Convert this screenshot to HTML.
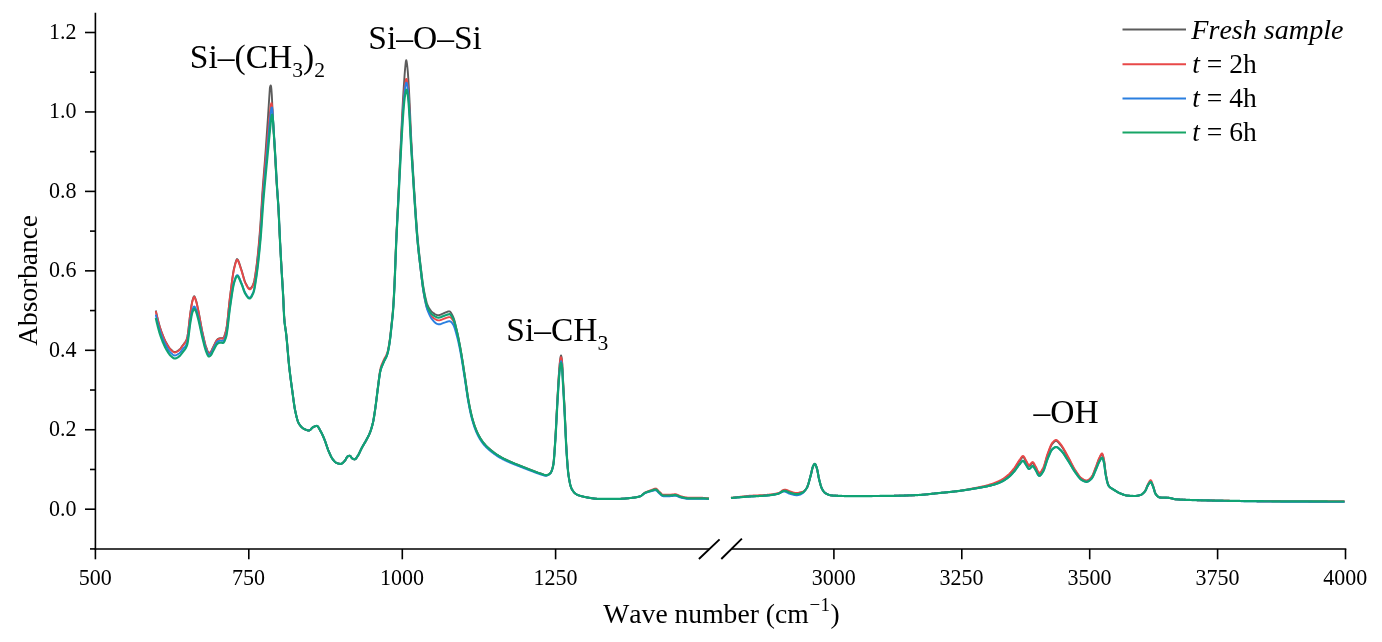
<!DOCTYPE html>
<html lang="en"><head><meta charset="utf-8"><title>FTIR absorbance spectra</title>
<style>html,body{margin:0;padding:0;background:#fff}body{width:1382px;height:642px;overflow:hidden}svg{display:block}</style></head>
<body>
<svg width="1382" height="642" viewBox="0 0 1382 642">
<rect width="1382" height="642" fill="#fff"/>
<path d="M155.80,310.51 L156.20,312.33 L156.60,314.12 L157.00,315.86 L157.40,317.57 L157.80,319.23 L158.20,320.83 L158.60,322.38 L159.00,323.87 L159.40,325.30 L159.80,326.65 L160.20,327.92 L160.60,329.13 L161.00,330.31 L161.40,331.46 L161.80,332.57 L162.20,333.65 L162.60,334.70 L163.00,335.72 L163.40,336.70 L163.80,337.65 L164.20,338.57 L164.60,339.45 L165.00,340.30 L165.40,341.11 L165.80,341.89 L166.20,342.63 L166.60,343.34 L167.00,344.04 L167.40,344.72 L167.80,345.38 L168.20,346.01 L168.60,346.62 L169.00,347.20 L169.40,347.75 L169.80,348.26 L170.20,348.73 L170.60,349.15 L171.00,349.53 L171.40,349.90 L171.80,350.27 L172.20,350.63 L172.60,350.98 L173.00,351.29 L173.40,351.57 L173.80,351.79 L174.20,351.94 L174.60,352.02 L175.00,352.01 L175.40,351.96 L175.80,351.85 L176.20,351.70 L176.60,351.51 L177.00,351.30 L177.40,351.05 L177.80,350.79 L178.20,350.51 L178.60,350.22 L179.00,349.93 L179.40,349.61 L179.80,349.22 L180.20,348.78 L180.60,348.29 L181.00,347.76 L181.40,347.21 L181.80,346.65 L182.20,346.08 L182.60,345.52 L183.00,344.99 L183.40,344.48 L183.80,343.97 L184.20,343.46 L184.60,342.92 L185.00,342.34 L185.40,341.70 L185.80,340.99 L186.20,340.18 L186.60,339.28 L187.00,338.25 L187.40,336.75 L187.80,334.52 L188.20,331.63 L188.60,328.22 L189.00,324.60 L189.40,320.91 L189.80,317.34 L190.20,314.04 L190.60,311.19 L191.00,308.59 L191.40,306.01 L191.80,303.62 L192.20,301.59 L192.60,300.08 L193.00,298.75 L193.40,297.55 L193.80,296.57 L194.20,296.25 L194.60,296.68 L195.00,297.50 L195.40,298.58 L195.80,299.78 L196.20,301.02 L196.60,302.52 L197.00,304.24 L197.40,306.08 L197.80,307.91 L198.20,309.81 L198.60,311.81 L199.00,313.88 L199.40,316.02 L199.80,318.19 L200.20,320.39 L200.60,322.60 L201.00,324.80 L201.40,326.97 L201.80,329.10 L202.20,331.08 L202.60,332.90 L203.00,334.66 L203.40,336.44 L203.80,338.23 L204.20,339.99 L204.60,341.70 L205.00,343.31 L205.40,344.79 L205.80,346.10 L206.20,347.25 L206.60,348.41 L207.00,349.56 L207.40,350.63 L207.80,351.57 L208.20,352.31 L208.60,352.80 L209.00,352.98 L209.40,352.84 L209.80,352.58 L210.20,352.21 L210.60,351.79 L211.00,351.34 L211.40,350.75 L211.80,349.95 L212.20,349.05 L212.60,348.15 L213.00,347.36 L213.40,346.59 L213.80,345.78 L214.20,344.95 L214.60,344.12 L215.00,343.29 L215.40,342.50 L215.80,341.74 L216.20,341.03 L216.60,340.40 L217.00,339.85 L217.40,339.40 L217.80,339.07 L218.20,338.85 L218.60,338.65 L219.00,338.48 L219.40,338.32 L219.80,338.20 L220.20,338.12 L220.60,338.08 L221.00,338.09 L221.40,338.12 L221.80,338.17 L222.20,338.22 L222.60,338.25 L223.00,338.24 L223.40,337.86 L223.80,337.21 L224.20,336.33 L224.60,335.26 L225.00,334.04 L225.40,332.69 L225.80,331.27 L226.20,329.71 L226.60,327.52 L227.00,324.71 L227.40,321.41 L227.80,317.76 L228.20,313.86 L228.60,309.85 L229.00,305.86 L229.40,302.01 L229.80,298.43 L230.20,295.26 L230.60,292.17 L231.00,289.02 L231.40,285.85 L231.80,282.73 L232.20,279.69 L232.60,276.81 L233.00,274.12 L233.40,271.68 L233.80,269.54 L234.20,267.76 L234.60,266.18 L235.00,264.61 L235.40,263.11 L235.80,261.75 L236.20,260.58 L236.60,259.65 L237.00,259.02 L237.40,259.24 L237.80,259.74 L238.20,260.45 L238.60,261.36 L239.00,262.41 L239.40,263.57 L239.80,264.81 L240.20,266.08 L240.60,267.34 L241.00,268.58 L241.40,269.74 L241.80,270.97 L242.20,272.31 L242.60,273.72 L243.00,275.17 L243.40,276.62 L243.80,278.04 L244.20,279.38 L244.60,280.62 L245.00,281.73 L245.40,282.57 L245.80,283.36 L246.20,284.16 L246.60,284.94 L247.00,285.69 L247.40,286.39 L247.80,287.03 L248.20,287.59 L248.60,288.05 L249.00,288.40 L249.40,288.63 L249.80,288.70 L250.20,288.61 L250.60,288.36 L251.00,287.99 L251.40,287.49 L251.80,286.89 L252.20,286.20 L252.60,285.44 L253.00,284.62 L253.40,283.75 L253.80,282.62 L254.20,281.02 L254.60,279.05 L255.00,276.79 L255.36,274.32 L255.73,271.73 L256.09,269.09 L256.45,266.41 L256.82,263.54 L257.18,260.47 L257.55,257.22 L257.91,253.72 L258.27,249.97 L258.64,246.06 L259.00,242.00 L259.36,237.78 L259.73,233.43 L260.09,228.87 L260.45,223.73 L260.82,218.13 L261.18,212.24 L261.55,206.23 L261.91,200.28 L262.27,194.57 L262.64,189.28 L263.00,184.39 L263.36,179.72 L263.73,175.19 L264.09,170.72 L264.45,166.25 L264.82,161.85 L265.20,156.94 L265.59,151.47 L265.98,145.96 L266.37,140.39 L266.76,134.75 L267.15,129.10 L267.54,123.45 L267.93,117.85 L268.32,111.78 L268.71,105.73 L269.10,99.76 L269.49,93.86 L269.88,87.94 L270.27,86.33 L270.66,85.40 L271.05,86.21 L271.44,89.72 L271.83,95.21 L272.22,103.72 L272.61,111.58 L273.03,119.46 L273.49,127.28 L273.95,135.03 L274.41,142.98 L274.87,151.46 L275.33,160.35 L275.79,169.00 L276.25,177.11 L276.71,183.99 L277.17,190.12 L277.63,196.23 L278.09,203.13 L278.55,211.65 L279.01,221.33 L279.47,231.05 L279.93,239.86 L280.39,248.28 L280.85,256.40 L281.31,264.20 L281.77,271.57 L282.20,278.33 L282.60,284.92 L283.00,291.91 L283.40,300.25 L283.80,309.79 L284.20,317.71 L284.60,322.41 L285.00,325.90 L285.40,328.55 L285.80,331.17 L286.20,334.30 L286.60,338.13 L287.00,342.39 L287.40,346.93 L287.80,351.60 L288.20,356.24 L288.60,360.69 L289.00,364.81 L289.40,368.49 L289.80,371.94 L290.20,375.23 L290.60,378.39 L291.00,381.45 L291.40,384.43 L291.80,387.36 L292.20,390.27 L292.60,393.22 L293.00,396.23 L293.40,399.25 L293.80,402.18 L294.20,404.97 L294.60,407.54 L295.00,409.80 L295.40,411.74 L295.80,413.58 L296.20,415.34 L296.60,417.00 L297.00,418.54 L297.40,419.93 L297.80,421.15 L298.20,422.18 L298.60,423.00 L299.00,423.68 L299.40,424.32 L299.80,424.92 L300.20,425.47 L300.60,425.98 L301.00,426.45 L301.40,426.88 L301.80,427.27 L302.20,427.63 L302.60,427.95 L303.00,428.23 L303.40,428.49 L303.80,428.71 L304.20,428.93 L304.60,429.14 L305.00,429.35 L305.40,429.55 L305.80,429.74 L306.20,429.91 L306.60,430.06 L307.00,430.20 L307.40,430.31 L307.80,430.40 L308.20,430.46 L308.60,430.50 L309.00,430.48 L309.40,430.37 L309.80,430.15 L310.20,429.86 L310.60,429.50 L311.00,429.11 L311.40,428.69 L311.80,428.28 L312.20,427.88 L312.60,427.52 L313.00,427.22 L313.40,427.00 L313.80,426.82 L314.20,426.64 L314.60,426.46 L315.00,426.30 L315.40,426.16 L315.80,426.04 L316.20,425.95 L316.60,425.91 L317.00,425.93 L317.40,426.12 L317.80,426.49 L318.20,426.99 L318.60,427.59 L319.00,428.28 L319.40,429.01 L319.80,429.75 L320.20,430.48 L320.60,431.17 L321.00,431.88 L321.40,432.63 L321.80,433.43 L322.20,434.27 L322.60,435.14 L323.00,436.04 L323.40,436.97 L323.80,437.91 L324.20,438.87 L324.60,439.85 L325.00,440.88 L325.40,441.99 L325.80,443.15 L326.20,444.34 L326.60,445.54 L327.00,446.73 L327.40,447.90 L327.80,449.02 L328.20,450.07 L328.60,451.04 L329.00,451.98 L329.40,452.91 L329.80,453.83 L330.20,454.72 L330.60,455.58 L331.00,456.39 L331.40,457.15 L331.80,457.85 L332.20,458.48 L332.60,459.03 L333.00,459.55 L333.40,460.06 L333.80,460.54 L334.20,461.00 L334.60,461.42 L335.00,461.81 L335.40,462.16 L335.80,462.46 L336.20,462.71 L336.60,462.90 L337.00,463.06 L337.40,463.21 L337.80,463.35 L338.20,463.48 L338.60,463.60 L339.00,463.70 L339.40,463.78 L339.80,463.85 L340.20,463.89 L340.60,463.90 L341.00,463.86 L341.40,463.73 L341.80,463.53 L342.20,463.27 L342.60,462.96 L343.00,462.60 L343.40,462.22 L343.80,461.82 L344.20,461.41 L344.60,461.00 L345.00,460.54 L345.40,459.93 L345.80,459.21 L346.20,458.45 L346.60,457.73 L347.00,457.09 L347.40,456.62 L347.80,456.35 L348.20,456.17 L348.60,456.01 L349.00,455.89 L349.40,455.82 L349.80,455.81 L350.20,456.01 L350.60,456.40 L351.00,456.91 L351.40,457.47 L351.80,457.98 L352.20,458.37 L352.60,458.60 L353.00,458.79 L353.40,458.97 L353.80,459.12 L354.20,459.23 L354.60,459.29 L355.00,459.27 L355.40,459.07 L355.80,458.71 L356.20,458.23 L356.60,457.66 L357.00,457.04 L357.40,456.41 L357.80,455.80 L358.20,455.18 L358.60,454.48 L359.00,453.71 L359.40,452.90 L359.80,452.06 L360.20,451.20 L360.60,450.34 L361.00,449.49 L361.40,448.67 L361.80,447.89 L362.20,447.15 L362.60,446.45 L363.00,445.76 L363.40,445.08 L363.80,444.41 L364.20,443.74 L364.60,443.07 L365.00,442.39 L365.40,441.69 L365.80,440.97 L366.20,440.23 L366.60,439.49 L367.00,438.76 L367.40,438.03 L367.80,437.28 L368.20,436.51 L368.60,435.70 L369.00,434.86 L369.40,433.96 L369.80,433.00 L370.20,431.98 L370.60,430.89 L371.00,429.72 L371.40,428.47 L371.80,427.12 L372.20,425.67 L372.60,424.10 L373.00,422.40 L373.40,420.46 L373.80,418.22 L374.20,415.75 L374.60,413.11 L375.00,410.37 L375.40,407.60 L375.80,404.70 L376.20,401.59 L376.60,398.34 L377.00,395.06 L377.40,391.83 L377.80,388.74 L378.20,385.74 L378.60,382.60 L379.00,379.48 L379.40,376.51 L379.80,373.86 L380.20,371.67 L380.60,370.04 L381.00,368.68 L381.40,367.50 L381.80,366.45 L382.20,365.48 L382.60,364.57 L383.00,363.65 L383.40,362.70 L383.80,361.77 L384.20,360.92 L384.60,360.14 L385.00,359.38 L385.40,358.63 L385.80,357.84 L386.20,357.00 L386.60,356.07 L387.00,355.02 L387.40,353.82 L387.80,352.40 L388.20,350.64 L388.60,348.58 L389.00,346.26 L389.40,343.75 L389.80,341.08 L390.20,338.16 L390.60,334.73 L391.00,330.99 L391.40,327.15 L391.80,323.42 L392.20,319.73 L392.60,315.78 L393.00,311.26 L393.40,305.75 L393.80,299.07 L394.20,291.56 L394.60,283.20 L395.00,273.50 L395.40,262.64 L395.80,251.77 L396.20,241.61 L396.60,232.53 L397.00,224.01 L397.40,215.81 L397.80,207.70 L398.20,199.48 L398.60,190.95 L399.00,182.22 L399.40,173.42 L399.80,164.66 L400.20,156.05 L400.60,147.56 L401.00,139.18 L401.40,130.78 L401.80,122.58 L402.20,114.46 L402.60,106.71 L403.00,99.59 L403.40,92.85 L403.80,86.58 L404.20,80.70 L404.60,75.03 L405.00,69.83 L405.40,65.49 L405.80,61.73 L406.20,60.13 L406.60,61.34 L407.00,63.98 L407.40,67.45 L407.80,71.59 L408.20,77.08 L408.60,83.20 L409.00,90.20 L409.40,98.04 L409.80,106.45 L410.20,115.89 L410.60,125.42 L411.00,134.01 L411.40,141.96 L411.80,149.58 L412.20,156.60 L412.60,163.20 L413.00,169.81 L413.40,176.37 L413.80,182.85 L414.20,189.19 L414.60,195.33 L415.00,201.39 L415.40,207.46 L415.80,213.45 L416.20,219.31 L416.60,224.93 L417.00,230.26 L417.40,235.21 L417.80,239.72 L418.20,243.92 L418.60,247.86 L419.00,251.60 L419.40,255.20 L419.80,258.69 L420.20,262.08 L420.60,265.40 L421.00,268.77 L421.40,272.17 L421.80,275.51 L422.20,278.74 L422.60,281.79 L423.00,284.61 L423.40,287.13 L423.80,289.38 L424.20,291.56 L424.60,293.66 L425.00,295.66 L425.40,297.54 L425.80,299.28 L426.20,300.87 L426.60,302.28 L427.00,303.50 L427.40,304.51 L427.80,305.43 L428.20,306.29 L428.60,307.11 L429.00,307.88 L429.40,308.60 L429.80,309.26 L430.20,309.88 L430.60,310.45 L431.00,310.96 L431.40,311.42 L431.80,311.82 L432.20,312.18 L432.60,312.48 L433.00,312.78 L433.40,313.06 L433.80,313.34 L434.20,313.61 L434.60,313.87 L435.00,314.11 L435.40,314.33 L435.80,314.52 L436.20,314.70 L436.60,314.85 L437.00,314.97 L437.40,315.07 L437.80,315.13 L438.20,315.16 L438.60,315.15 L439.00,315.11 L439.40,315.04 L439.80,314.93 L440.20,314.81 L440.60,314.66 L441.00,314.50 L441.40,314.32 L441.80,314.13 L442.20,313.94 L442.60,313.75 L443.00,313.56 L443.40,313.37 L443.80,313.19 L444.20,313.03 L444.60,312.88 L445.00,312.73 L445.40,312.58 L445.80,312.41 L446.20,312.24 L446.60,312.08 L447.00,311.91 L447.40,311.76 L447.80,311.62 L448.20,311.49 L448.60,311.39 L449.00,311.31 L449.40,311.39 L449.80,311.51 L450.20,311.78 L450.60,312.21 L451.00,312.75 L451.40,313.40 L451.80,314.13 L452.20,314.92 L452.60,315.75 L453.00,316.60 L453.40,317.50 L453.80,318.60 L454.20,319.87 L454.60,321.29 L455.00,322.83 L455.40,324.45 L455.80,326.14 L456.20,327.85 L456.60,329.57 L457.00,331.30 L457.40,333.12 L457.80,335.02 L458.20,336.99 L458.60,339.04 L459.00,341.14 L459.40,343.30 L459.80,345.50 L460.20,347.70 L460.60,349.89 L461.00,352.12 L461.40,354.44 L461.80,356.86 L462.20,359.34 L462.60,361.89 L463.00,364.49 L463.40,367.12 L463.80,369.76 L464.20,372.41 L464.60,375.04 L465.00,377.65 L465.40,380.34 L465.80,383.11 L466.20,385.92 L466.60,388.74 L467.00,391.51 L467.40,394.20 L467.80,396.77 L468.20,399.17 L468.60,401.39 L469.00,403.55 L469.40,405.64 L469.80,407.67 L470.20,409.63 L470.60,411.51 L471.00,413.31 L471.40,415.02 L471.80,416.63 L472.20,418.14 L472.60,419.56 L473.00,420.93 L473.40,422.25 L473.80,423.52 L474.20,424.75 L474.60,425.94 L475.00,427.07 L475.40,428.16 L475.80,429.21 L476.20,430.20 L476.60,431.15 L477.00,432.05 L477.40,432.91 L477.80,433.73 L478.20,434.53 L478.60,435.31 L479.00,436.05 L479.40,436.78 L479.80,437.48 L480.20,438.15 L480.60,438.81 L481.00,439.44 L481.40,440.05 L481.80,440.64 L482.20,441.21 L482.60,441.76 L483.00,442.29 L483.40,442.80 L483.80,443.29 L484.20,443.77 L484.60,444.24 L485.00,444.69 L485.40,445.13 L485.80,445.56 L486.20,445.97 L486.60,446.38 L487.00,446.77 L487.40,447.16 L487.80,447.53 L488.20,447.90 L488.60,448.26 L489.00,448.62 L489.40,448.97 L489.80,449.31 L490.20,449.65 L490.60,449.98 L491.00,450.31 L491.40,450.64 L491.80,450.96 L492.20,451.28 L492.60,451.59 L493.00,451.90 L493.40,452.21 L493.80,452.51 L494.20,452.80 L494.60,453.10 L495.00,453.38 L495.40,453.67 L495.80,453.95 L496.20,454.22 L496.60,454.50 L497.00,454.76 L497.40,455.03 L497.80,455.29 L498.20,455.54 L498.60,455.80 L499.00,456.05 L499.40,456.29 L499.80,456.53 L500.20,456.77 L500.60,457.00 L501.00,457.23 L501.40,457.45 L501.80,457.68 L502.20,457.89 L502.60,458.11 L503.00,458.32 L503.40,458.53 L503.80,458.73 L504.20,458.93 L504.60,459.13 L505.00,459.33 L505.40,459.53 L505.80,459.72 L506.20,459.91 L506.60,460.10 L507.00,460.28 L507.40,460.47 L507.80,460.65 L508.20,460.84 L508.60,461.02 L509.00,461.20 L509.40,461.38 L509.80,461.56 L510.20,461.73 L510.60,461.91 L511.00,462.09 L511.40,462.26 L511.80,462.44 L512.20,462.61 L512.60,462.78 L513.00,462.95 L513.40,463.11 L513.80,463.28 L514.20,463.44 L514.60,463.60 L515.00,463.76 L515.40,463.93 L515.80,464.08 L516.20,464.24 L516.60,464.40 L517.00,464.56 L517.40,464.72 L517.80,464.87 L518.20,465.03 L518.60,465.19 L519.00,465.35 L519.40,465.50 L519.80,465.66 L520.20,465.82 L520.60,465.98 L521.00,466.14 L521.40,466.30 L521.80,466.46 L522.20,466.62 L522.60,466.78 L523.00,466.94 L523.40,467.10 L523.80,467.26 L524.20,467.43 L524.60,467.59 L525.00,467.75 L525.40,467.91 L525.80,468.07 L526.20,468.23 L526.60,468.38 L527.00,468.54 L527.40,468.70 L527.80,468.86 L528.20,469.02 L528.60,469.17 L529.00,469.33 L529.40,469.48 L529.80,469.64 L530.20,469.79 L530.60,469.95 L531.00,470.10 L531.40,470.25 L531.80,470.41 L532.20,470.56 L532.60,470.71 L533.00,470.87 L533.40,471.02 L533.80,471.18 L534.20,471.33 L534.60,471.49 L535.00,471.64 L535.40,471.79 L535.80,471.95 L536.20,472.10 L536.60,472.25 L537.00,472.40 L537.40,472.54 L537.80,472.69 L538.20,472.83 L538.60,472.97 L539.00,473.11 L539.40,473.25 L539.80,473.38 L540.20,473.51 L540.60,473.64 L541.00,473.77 L541.40,473.90 L541.80,474.03 L542.20,474.18 L542.60,474.32 L543.00,474.47 L543.40,474.61 L543.80,474.75 L544.20,474.87 L544.60,474.98 L545.00,475.07 L545.40,475.14 L545.80,475.18 L546.20,475.20 L546.60,475.18 L547.00,475.11 L547.40,475.00 L547.80,474.85 L548.20,474.66 L548.60,474.45 L549.00,474.20 L549.40,473.92 L549.80,473.61 L550.20,473.25 L550.60,472.79 L551.00,472.15 L551.40,471.30 L551.80,470.25 L552.20,469.00 L552.60,467.54 L553.00,465.86 L553.40,463.91 L553.80,460.57 L554.20,455.77 L554.60,450.03 L555.00,443.84 L555.40,437.66 L555.80,430.76 L556.20,423.07 L556.60,415.01 L557.00,407.03 L557.40,399.56 L557.80,392.39 L558.20,385.26 L558.60,378.54 L559.00,372.66 L559.40,367.38 L559.80,362.64 L560.20,359.20 L560.60,356.75 L561.00,355.40 L561.40,356.48 L561.80,358.65 L562.20,362.81 L562.60,370.65 L563.00,378.91 L563.40,386.26 L563.80,393.70 L564.20,401.33 L564.60,409.26 L565.00,418.00 L565.40,427.21 L565.80,436.24 L566.20,444.46 L566.60,451.29 L567.00,457.45 L567.40,463.20 L567.80,468.28 L568.20,472.48 L568.60,475.59 L569.00,478.18 L569.40,480.52 L569.80,482.62 L570.20,484.43 L570.60,485.95 L571.00,487.21 L571.40,488.20 L571.80,488.97 L572.20,489.68 L572.60,490.34 L573.00,490.94 L573.40,491.50 L573.80,492.00 L574.20,492.47 L574.60,492.88 L575.00,493.26 L575.40,493.60 L575.80,493.90 L576.20,494.17 L576.60,494.40 L577.00,494.61 L577.40,494.80 L577.80,494.98 L578.20,495.15 L578.60,495.30 L579.00,495.44 L579.40,495.57 L579.80,495.70 L580.20,495.81 L580.60,495.93 L581.00,496.04 L581.40,496.14 L581.80,496.25 L582.20,496.35 L582.60,496.45 L583.00,496.55 L583.40,496.65 L583.80,496.75 L584.20,496.84 L584.60,496.93 L585.00,497.02 L585.40,497.10 L585.80,497.18 L586.20,497.26 L586.60,497.34 L587.00,497.41 L587.40,497.49 L587.80,497.56 L588.20,497.63 L588.60,497.69 L589.00,497.75 L589.40,497.82 L589.80,497.88 L590.20,497.94 L590.60,498.00 L591.00,498.07 L591.40,498.13 L591.80,498.20 L592.20,498.26 L592.60,498.32 L593.00,498.38 L593.40,498.44 L593.80,498.50 L594.20,498.55 L594.60,498.61 L595.00,498.66 L595.40,498.70 L595.80,498.74 L596.20,498.78 L596.60,498.81 L597.00,498.84 L597.40,498.87 L597.80,498.88 L598.20,498.89 L598.60,498.90 L599.00,498.90 L599.40,498.90 L599.80,498.90 L600.20,498.90 L600.60,498.90 L601.00,498.90 L601.40,498.90 L601.80,498.90 L602.20,498.90 L602.60,498.90 L603.00,498.90 L603.40,498.90 L603.80,498.90 L604.20,498.90 L604.60,498.90 L605.00,498.90 L605.40,498.90 L605.80,498.90 L606.20,498.90 L606.60,498.90 L607.00,498.90 L607.40,498.90 L607.80,498.90 L608.20,498.90 L608.60,498.90 L609.00,498.90 L609.40,498.90 L609.80,498.90 L610.20,498.90 L610.60,498.90 L611.00,498.90 L611.40,498.90 L611.80,498.90 L612.20,498.90 L612.60,498.90 L613.00,498.90 L613.40,498.90 L613.80,498.90 L614.20,498.90 L614.60,498.90 L615.00,498.90 L615.40,498.90 L615.80,498.90 L616.20,498.90 L616.60,498.90 L617.00,498.90 L617.40,498.90 L617.80,498.90 L618.20,498.90 L618.60,498.89 L619.00,498.88 L619.40,498.87 L619.80,498.86 L620.20,498.85 L620.60,498.83 L621.00,498.81 L621.40,498.79 L621.80,498.77 L622.20,498.75 L622.60,498.72 L623.00,498.70 L623.40,498.67 L623.80,498.64 L624.20,498.61 L624.60,498.58 L625.00,498.54 L625.40,498.51 L625.80,498.47 L626.20,498.44 L626.60,498.40 L627.00,498.36 L627.40,498.32 L627.80,498.28 L628.20,498.24 L628.60,498.20 L629.00,498.16 L629.40,498.12 L629.80,498.07 L630.20,498.03 L630.60,497.99 L631.00,497.94 L631.40,497.90 L631.80,497.86 L632.20,497.81 L632.60,497.77 L633.00,497.72 L633.40,497.67 L633.80,497.62 L634.20,497.57 L634.60,497.51 L635.00,497.45 L635.40,497.39 L635.80,497.32 L636.20,497.25 L636.60,497.17 L637.00,497.10 L637.40,497.01 L637.80,496.92 L638.20,496.83 L638.60,496.73 L639.00,496.63 L639.40,496.52 L639.80,496.40 L640.20,496.25 L640.60,496.06 L641.00,495.83 L641.40,495.57 L641.80,495.28 L642.20,494.97 L642.60,494.65 L643.00,494.33 L643.40,494.01 L643.80,493.70 L644.20,493.41 L644.60,493.14 L645.00,492.90 L645.40,492.70 L645.80,492.53 L646.20,492.36 L646.60,492.20 L647.00,492.06 L647.40,491.92 L647.80,491.78 L648.20,491.65 L648.60,491.52 L649.00,491.40 L649.40,491.28 L649.80,491.16 L650.20,491.04 L650.60,490.92 L651.00,490.80 L651.40,490.67 L651.80,490.53 L652.20,490.39 L652.60,490.24 L653.00,490.09 L653.40,489.95 L653.80,489.83 L654.20,489.71 L654.60,489.62 L655.00,489.55 L655.40,489.51 L655.80,489.50 L656.20,489.61 L656.60,489.84 L657.00,490.17 L657.40,490.57 L657.80,491.01 L658.20,491.47 L658.60,491.92 L659.00,492.34 L659.40,492.70 L659.80,493.04 L660.20,493.42 L660.60,493.81 L661.00,494.20 L661.40,494.57 L661.80,494.90 L662.20,495.17 L662.60,495.38 L663.00,495.49 L663.40,495.50 L663.80,495.50 L664.20,495.50 L664.60,495.50 L665.00,495.50 L665.40,495.50 L665.80,495.50 L666.20,495.50 L666.60,495.50 L667.00,495.50 L667.40,495.50 L667.80,495.50 L668.20,495.50 L668.60,495.50 L669.00,495.50 L669.40,495.50 L669.80,495.50 L670.20,495.49 L670.60,495.47 L671.00,495.45 L671.40,495.41 L671.80,495.37 L672.20,495.33 L672.60,495.29 L673.00,495.25 L673.40,495.21 L673.80,495.17 L674.20,495.14 L674.60,495.12 L675.00,495.10 L675.40,495.10 L675.80,495.13 L676.20,495.20 L676.60,495.31 L677.00,495.44 L677.40,495.59 L677.80,495.75 L678.20,495.93 L678.60,496.12 L679.00,496.30 L679.40,496.48 L679.80,496.64 L680.20,496.79 L680.60,496.92 L681.00,497.02 L681.40,497.12 L681.80,497.21 L682.20,497.31 L682.60,497.41 L683.00,497.50 L683.40,497.60 L683.80,497.69 L684.20,497.77 L684.60,497.86 L685.00,497.94 L685.40,498.01 L685.80,498.08 L686.20,498.14 L686.60,498.19 L687.00,498.23 L687.40,498.26 L687.80,498.29 L688.20,498.30 L688.60,498.30 L689.00,498.30 L689.40,498.30 L689.80,498.30 L690.20,498.30 L690.60,498.30 L691.00,498.30 L691.40,498.30 L691.80,498.30 L692.20,498.30 L692.60,498.30 L693.00,498.30 L693.40,498.30 L693.80,498.30 L694.20,498.30 L694.60,498.30 L695.00,498.30 L695.40,498.30 L695.80,498.30 L696.20,498.30 L696.60,498.30 L697.00,498.30 L697.40,498.30 L697.80,498.30 L698.20,498.30 L698.60,498.30 L699.00,498.30 L699.40,498.30 L699.80,498.30 L700.20,498.30 L700.60,498.31 L701.00,498.31 L701.40,498.32 L701.80,498.33 L702.20,498.34 L702.60,498.36 L703.00,498.37 L703.40,498.39 L703.80,498.40 L704.20,498.42 L704.60,498.44 L705.00,498.46 L705.40,498.48 L705.80,498.51 L706.20,498.53 L706.60,498.55 L707.00,498.58 L707.40,498.60 L707.80,498.63 L708.20,498.65 L708.60,498.68 L709.00,498.70 M731.00,498.00 L731.40,497.96 L731.80,497.93 L732.20,497.89 L732.60,497.85 L733.00,497.82 L733.40,497.78 L733.80,497.74 L734.20,497.71 L734.60,497.67 L735.00,497.63 L735.40,497.60 L735.80,497.56 L736.20,497.53 L736.60,497.49 L737.00,497.46 L737.40,497.42 L737.80,497.39 L738.20,497.36 L738.60,497.32 L739.00,497.29 L739.40,497.26 L739.80,497.22 L740.20,497.19 L740.60,497.16 L741.00,497.12 L741.40,497.09 L741.80,497.06 L742.20,497.03 L742.60,497.00 L743.00,496.97 L743.40,496.94 L743.80,496.90 L744.20,496.87 L744.60,496.84 L745.00,496.81 L745.40,496.79 L745.80,496.76 L746.20,496.73 L746.60,496.70 L747.00,496.67 L747.40,496.64 L747.80,496.61 L748.20,496.59 L748.60,496.56 L749.00,496.53 L749.40,496.51 L749.80,496.48 L750.20,496.46 L750.60,496.44 L751.00,496.41 L751.40,496.39 L751.80,496.37 L752.20,496.35 L752.60,496.33 L753.00,496.31 L753.40,496.29 L753.80,496.27 L754.20,496.25 L754.60,496.23 L755.00,496.21 L755.40,496.19 L755.80,496.17 L756.20,496.15 L756.60,496.13 L757.00,496.11 L757.40,496.09 L757.80,496.07 L758.20,496.05 L758.60,496.03 L759.00,496.01 L759.40,495.99 L759.80,495.97 L760.20,495.95 L760.60,495.93 L761.00,495.90 L761.40,495.88 L761.80,495.86 L762.20,495.83 L762.60,495.81 L763.00,495.78 L763.40,495.75 L763.80,495.73 L764.20,495.70 L764.60,495.67 L765.00,495.64 L765.40,495.61 L765.80,495.58 L766.20,495.54 L766.60,495.51 L767.00,495.47 L767.40,495.44 L767.80,495.40 L768.20,495.36 L768.60,495.32 L769.00,495.28 L769.40,495.23 L769.80,495.19 L770.20,495.14 L770.60,495.09 L771.00,495.04 L771.40,494.99 L771.80,494.93 L772.20,494.87 L772.60,494.82 L773.00,494.75 L773.40,494.69 L773.80,494.62 L774.20,494.56 L774.60,494.49 L775.00,494.41 L775.40,494.34 L775.80,494.26 L776.20,494.18 L776.60,494.09 L777.00,494.01 L777.40,493.92 L777.80,493.82 L778.20,493.72 L778.60,493.57 L779.00,493.40 L779.40,493.19 L779.80,492.97 L780.20,492.73 L780.60,492.48 L781.00,492.23 L781.40,491.98 L781.80,491.74 L782.20,491.51 L782.60,491.31 L783.00,491.13 L783.40,490.99 L783.80,490.88 L784.20,490.81 L784.60,490.80 L785.00,490.83 L785.40,490.90 L785.80,491.00 L786.20,491.12 L786.60,491.27 L787.00,491.43 L787.40,491.60 L787.80,491.78 L788.20,491.96 L788.60,492.14 L789.00,492.31 L789.40,492.47 L789.80,492.61 L790.20,492.73 L790.60,492.84 L791.00,492.96 L791.40,493.09 L791.80,493.21 L792.20,493.33 L792.60,493.46 L793.00,493.57 L793.40,493.69 L793.80,493.79 L794.20,493.89 L794.60,493.98 L795.00,494.05 L795.40,494.12 L795.80,494.16 L796.20,494.19 L796.60,494.20 L797.00,494.19 L797.40,494.16 L797.80,494.11 L798.20,494.04 L798.60,493.96 L799.00,493.87 L799.40,493.75 L799.80,493.63 L800.20,493.50 L800.60,493.35 L801.00,493.20 L801.40,493.04 L801.80,492.87 L802.20,492.70 L802.60,492.50 L803.00,492.26 L803.40,491.97 L803.80,491.64 L804.20,491.26 L804.60,490.85 L805.00,490.39 L805.40,489.89 L805.80,489.36 L806.20,488.79 L806.60,488.18 L807.00,487.53 L807.40,486.71 L807.80,485.69 L808.20,484.51 L808.60,483.20 L809.00,481.79 L809.40,480.32 L809.80,478.82 L810.20,477.32 L810.60,475.86 L811.00,474.35 L811.40,472.63 L811.80,470.82 L812.20,469.08 L812.60,467.56 L813.00,466.41 L813.40,465.61 L813.80,464.88 L814.20,464.29 L814.60,463.95 L815.00,463.96 L815.40,464.42 L815.80,465.23 L816.20,466.27 L816.60,467.42 L817.00,468.66 L817.40,470.38 L817.80,472.49 L818.20,474.75 L818.60,476.95 L819.00,478.88 L819.40,480.50 L819.80,482.08 L820.20,483.60 L820.60,485.04 L821.00,486.34 L821.40,487.48 L821.80,488.40 L822.20,489.15 L822.60,489.84 L823.00,490.49 L823.40,491.08 L823.80,491.62 L824.20,492.10 L824.60,492.53 L825.00,492.88 L825.40,493.18 L825.80,493.41 L826.20,493.63 L826.60,493.84 L827.00,494.03 L827.40,494.22 L827.80,494.40 L828.20,494.56 L828.60,494.71 L829.00,494.86 L829.40,494.98 L829.80,495.10 L830.20,495.20 L830.60,495.29 L831.00,495.37 L831.40,495.43 L831.80,495.48 L832.20,495.51 L832.60,495.53 L833.00,495.56 L833.40,495.58 L833.80,495.61 L834.20,495.63 L834.60,495.66 L835.00,495.68 L835.40,495.70 L835.80,495.72 L836.20,495.74 L836.60,495.76 L837.00,495.78 L837.40,495.80 L837.80,495.82 L838.20,495.84 L838.60,495.85 L839.00,495.87 L839.40,495.89 L839.80,495.90 L840.20,495.92 L840.60,495.93 L841.00,495.94 L841.40,495.96 L841.80,495.97 L842.20,495.98 L842.60,495.99 L843.00,496.00 L843.40,496.01 L843.80,496.02 L844.20,496.03 L844.60,496.04 L845.00,496.05 L845.40,496.05 L845.80,496.06 L846.20,496.07 L846.60,496.07 L847.00,496.08 L847.40,496.08 L847.80,496.09 L848.20,496.09 L848.60,496.09 L849.00,496.09 L849.40,496.10 L849.80,496.10 L850.20,496.10 L850.60,496.10 L851.00,496.10 L851.40,496.10 L851.80,496.10 L852.20,496.10 L852.60,496.10 L853.00,496.10 L853.40,496.10 L853.80,496.10 L854.20,496.10 L854.60,496.10 L855.00,496.10 L855.40,496.10 L855.80,496.10 L856.20,496.09 L856.60,496.09 L857.00,496.09 L857.40,496.09 L857.80,496.09 L858.20,496.09 L858.60,496.09 L859.00,496.09 L859.40,496.09 L859.80,496.09 L860.20,496.08 L860.60,496.08 L861.00,496.08 L861.40,496.08 L861.80,496.08 L862.20,496.08 L862.60,496.08 L863.00,496.07 L863.40,496.07 L863.80,496.07 L864.20,496.07 L864.60,496.07 L865.00,496.07 L865.40,496.06 L865.80,496.06 L866.20,496.06 L866.60,496.06 L867.00,496.06 L867.40,496.05 L867.80,496.05 L868.20,496.05 L868.60,496.05 L869.00,496.05 L869.40,496.04 L869.80,496.04 L870.20,496.04 L870.60,496.04 L871.00,496.03 L871.40,496.03 L871.80,496.03 L872.20,496.03 L872.60,496.02 L873.00,496.02 L873.40,496.02 L873.80,496.02 L874.20,496.01 L874.60,496.01 L875.00,496.01 L875.40,496.01 L875.80,496.00 L876.20,496.00 L876.60,496.00 L877.00,495.99 L877.40,495.99 L877.80,495.99 L878.20,495.99 L878.60,495.98 L879.00,495.98 L879.40,495.98 L879.80,495.97 L880.20,495.97 L880.60,495.97 L881.00,495.96 L881.40,495.96 L881.80,495.96 L882.20,495.95 L882.60,495.95 L883.00,495.95 L883.40,495.94 L883.80,495.94 L884.20,495.94 L884.60,495.93 L885.00,495.93 L885.40,495.93 L885.80,495.92 L886.20,495.92 L886.60,495.91 L887.00,495.91 L887.40,495.91 L887.80,495.90 L888.20,495.90 L888.60,495.90 L889.00,495.89 L889.40,495.89 L889.80,495.88 L890.20,495.88 L890.60,495.87 L891.00,495.87 L891.40,495.86 L891.80,495.86 L892.20,495.85 L892.60,495.84 L893.00,495.84 L893.40,495.83 L893.80,495.83 L894.20,495.82 L894.60,495.81 L895.00,495.80 L895.40,495.80 L895.80,495.79 L896.20,495.78 L896.60,495.77 L897.00,495.76 L897.40,495.75 L897.80,495.74 L898.20,495.74 L898.60,495.73 L899.00,495.72 L899.40,495.71 L899.80,495.70 L900.20,495.69 L900.60,495.68 L901.00,495.66 L901.40,495.65 L901.80,495.64 L902.20,495.63 L902.60,495.62 L903.00,495.61 L903.40,495.60 L903.80,495.58 L904.20,495.57 L904.60,495.56 L905.00,495.55 L905.40,495.53 L905.80,495.52 L906.20,495.51 L906.60,495.49 L907.00,495.48 L907.40,495.47 L907.80,495.45 L908.20,495.44 L908.60,495.42 L909.00,495.41 L909.40,495.39 L909.80,495.38 L910.20,495.36 L910.60,495.35 L911.00,495.33 L911.40,495.32 L911.80,495.30 L912.20,495.28 L912.60,495.27 L913.00,495.25 L913.40,495.24 L913.80,495.22 L914.20,495.20 L914.60,495.18 L915.00,495.17 L915.40,495.15 L915.80,495.13 L916.20,495.11 L916.60,495.10 L917.00,495.08 L917.40,495.06 L917.80,495.04 L918.20,495.02 L918.60,495.00 L919.00,494.99 L919.40,494.96 L919.80,494.94 L920.20,494.92 L920.60,494.89 L921.00,494.87 L921.40,494.84 L921.80,494.81 L922.20,494.78 L922.60,494.75 L923.00,494.71 L923.40,494.68 L923.80,494.64 L924.20,494.61 L924.60,494.57 L925.00,494.53 L925.40,494.49 L925.80,494.46 L926.20,494.41 L926.60,494.37 L927.00,494.33 L927.40,494.29 L927.80,494.25 L928.20,494.20 L928.60,494.16 L929.00,494.12 L929.40,494.07 L929.80,494.03 L930.20,493.98 L930.60,493.94 L931.00,493.89 L931.40,493.85 L931.80,493.80 L932.20,493.76 L932.60,493.71 L933.00,493.67 L933.40,493.62 L933.80,493.58 L934.20,493.54 L934.60,493.49 L935.00,493.45 L935.40,493.41 L935.80,493.36 L936.20,493.32 L936.60,493.28 L937.00,493.24 L937.40,493.20 L937.80,493.16 L938.20,493.12 L938.60,493.08 L939.00,493.04 L939.40,493.00 L939.80,492.97 L940.20,492.93 L940.60,492.89 L941.00,492.85 L941.40,492.81 L941.80,492.78 L942.20,492.74 L942.60,492.70 L943.00,492.66 L943.40,492.62 L943.80,492.59 L944.20,492.55 L944.60,492.51 L945.00,492.47 L945.40,492.43 L945.80,492.39 L946.20,492.36 L946.60,492.32 L947.00,492.28 L947.40,492.24 L947.80,492.20 L948.20,492.16 L948.60,492.12 L949.00,492.08 L949.40,492.04 L949.80,492.00 L950.20,491.96 L950.60,491.92 L951.00,491.87 L951.40,491.83 L951.80,491.79 L952.20,491.75 L952.60,491.70 L953.00,491.66 L953.40,491.61 L953.80,491.57 L954.20,491.52 L954.60,491.48 L955.00,491.43 L955.40,491.38 L955.80,491.34 L956.20,491.29 L956.60,491.24 L957.00,491.19 L957.40,491.14 L957.80,491.09 L958.20,491.04 L958.60,490.98 L959.00,490.93 L959.40,490.88 L959.80,490.82 L960.20,490.77 L960.60,490.72 L961.00,490.66 L961.40,490.60 L961.80,490.55 L962.20,490.49 L962.60,490.43 L963.00,490.37 L963.40,490.32 L963.80,490.26 L964.20,490.20 L964.60,490.14 L965.00,490.08 L965.40,490.02 L965.80,489.95 L966.20,489.89 L966.60,489.83 L967.00,489.77 L967.40,489.71 L967.80,489.64 L968.20,489.58 L968.60,489.52 L969.00,489.45 L969.40,489.39 L969.80,489.32 L970.20,489.26 L970.60,489.19 L971.00,489.13 L971.40,489.06 L971.80,489.00 L972.20,488.93 L972.60,488.87 L973.00,488.80 L973.40,488.73 L973.80,488.67 L974.20,488.60 L974.60,488.53 L975.00,488.47 L975.40,488.40 L975.80,488.33 L976.20,488.27 L976.60,488.20 L977.00,488.13 L977.40,488.07 L977.80,488.00 L978.20,487.94 L978.60,487.87 L979.00,487.80 L979.40,487.73 L979.80,487.67 L980.20,487.60 L980.60,487.53 L981.00,487.46 L981.40,487.39 L981.80,487.32 L982.20,487.25 L982.60,487.18 L983.00,487.10 L983.40,487.03 L983.80,486.96 L984.20,486.88 L984.60,486.80 L985.00,486.72 L985.40,486.65 L985.80,486.56 L986.20,486.48 L986.60,486.40 L987.00,486.31 L987.40,486.23 L987.80,486.14 L988.20,486.05 L988.60,485.96 L989.00,485.87 L989.40,485.77 L989.80,485.68 L990.20,485.58 L990.60,485.48 L991.00,485.37 L991.40,485.27 L991.80,485.16 L992.20,485.05 L992.60,484.94 L993.00,484.83 L993.40,484.71 L993.80,484.60 L994.20,484.47 L994.60,484.35 L995.00,484.23 L995.40,484.10 L995.80,483.96 L996.20,483.83 L996.60,483.69 L997.00,483.55 L997.40,483.41 L997.80,483.26 L998.20,483.11 L998.60,482.95 L999.00,482.80 L999.40,482.64 L999.80,482.47 L1000.20,482.28 L1000.60,482.07 L1001.00,481.85 L1001.40,481.62 L1001.80,481.38 L1002.20,481.13 L1002.60,480.88 L1003.00,480.61 L1003.40,480.34 L1003.80,480.05 L1004.20,479.76 L1004.60,479.46 L1005.00,479.15 L1005.40,478.84 L1005.80,478.51 L1006.20,478.18 L1006.60,477.84 L1007.00,477.49 L1007.40,477.14 L1007.80,476.78 L1008.20,476.41 L1008.60,476.04 L1009.00,475.65 L1009.40,475.24 L1009.80,474.81 L1010.20,474.37 L1010.60,473.92 L1011.00,473.45 L1011.40,472.97 L1011.80,472.48 L1012.20,471.97 L1012.60,471.46 L1013.00,470.94 L1013.40,470.41 L1013.80,469.87 L1014.20,469.32 L1014.60,468.75 L1015.00,468.14 L1015.40,467.53 L1015.80,466.90 L1016.20,466.26 L1016.60,465.61 L1017.00,464.95 L1017.40,464.30 L1017.80,463.65 L1018.20,463.02 L1018.60,462.41 L1019.00,461.82 L1019.40,461.25 L1019.80,460.71 L1020.20,460.12 L1020.60,459.50 L1021.00,458.89 L1021.40,458.30 L1021.80,457.79 L1022.20,457.36 L1022.60,457.07 L1023.00,456.93 L1023.40,457.09 L1023.80,457.48 L1024.20,458.05 L1024.60,458.75 L1025.00,459.53 L1025.40,460.32 L1025.80,461.07 L1026.20,461.74 L1026.60,462.41 L1027.00,463.18 L1027.40,463.98 L1027.80,464.72 L1028.20,465.35 L1028.60,465.79 L1029.00,465.96 L1029.40,465.88 L1029.80,465.64 L1030.20,465.28 L1030.60,464.84 L1031.00,464.37 L1031.40,463.93 L1031.80,463.54 L1032.20,463.27 L1032.60,463.15 L1033.00,463.24 L1033.40,463.60 L1033.80,464.15 L1034.20,464.83 L1034.60,465.59 L1035.00,466.36 L1035.40,467.07 L1035.80,467.74 L1036.20,468.54 L1036.60,469.42 L1037.00,470.33 L1037.40,471.23 L1037.80,472.06 L1038.20,472.78 L1038.60,473.33 L1039.00,473.68 L1039.40,473.77 L1039.80,473.67 L1040.20,473.41 L1040.60,473.00 L1041.00,472.50 L1041.40,471.91 L1041.80,471.27 L1042.20,470.58 L1042.60,469.88 L1043.00,469.17 L1043.40,468.36 L1043.80,467.38 L1044.20,466.24 L1044.60,464.98 L1045.00,463.64 L1045.40,462.23 L1045.80,460.80 L1046.20,459.37 L1046.60,457.98 L1047.00,456.66 L1047.40,455.43 L1047.80,454.32 L1048.20,453.24 L1048.60,452.14 L1049.00,451.03 L1049.40,449.94 L1049.80,448.88 L1050.20,447.86 L1050.60,446.90 L1051.00,446.02 L1051.40,445.23 L1051.80,444.54 L1052.20,443.98 L1052.60,443.52 L1053.00,443.07 L1053.40,442.63 L1053.80,442.22 L1054.20,441.84 L1054.60,441.51 L1055.00,441.22 L1055.40,440.99 L1055.80,440.83 L1056.20,440.82 L1056.60,440.97 L1057.00,441.19 L1057.40,441.47 L1057.80,441.82 L1058.20,442.22 L1058.60,442.65 L1059.00,443.11 L1059.40,443.59 L1059.80,444.08 L1060.20,444.58 L1060.60,445.06 L1061.00,445.54 L1061.40,446.06 L1061.80,446.61 L1062.20,447.20 L1062.60,447.82 L1063.00,448.47 L1063.40,449.13 L1063.80,449.82 L1064.20,450.53 L1064.60,451.25 L1065.00,451.98 L1065.40,452.72 L1065.80,453.46 L1066.20,454.20 L1066.60,454.94 L1067.00,455.68 L1067.40,456.41 L1067.80,457.12 L1068.20,457.83 L1068.60,458.55 L1069.00,459.29 L1069.40,460.04 L1069.80,460.81 L1070.20,461.58 L1070.60,462.35 L1071.00,463.13 L1071.40,463.91 L1071.80,464.69 L1072.20,465.46 L1072.60,466.22 L1073.00,466.97 L1073.40,467.71 L1073.80,468.43 L1074.20,469.13 L1074.60,469.80 L1075.00,470.45 L1075.40,471.04 L1075.80,471.63 L1076.20,472.21 L1076.60,472.81 L1077.00,473.40 L1077.40,473.99 L1077.80,474.57 L1078.20,475.14 L1078.60,475.69 L1079.00,476.22 L1079.40,476.72 L1079.80,477.20 L1080.20,477.64 L1080.60,478.05 L1081.00,478.41 L1081.40,478.73 L1081.80,479.00 L1082.20,479.24 L1082.60,479.48 L1083.00,479.72 L1083.40,479.94 L1083.80,480.15 L1084.20,480.35 L1084.60,480.52 L1085.00,480.67 L1085.40,480.80 L1085.80,480.89 L1086.20,480.95 L1086.60,480.97 L1087.00,480.93 L1087.40,480.81 L1087.80,480.63 L1088.20,480.41 L1088.60,480.15 L1089.00,479.85 L1089.40,479.52 L1089.80,479.16 L1090.20,478.78 L1090.60,478.38 L1091.00,477.96 L1091.40,477.53 L1091.80,477.05 L1092.20,476.43 L1092.60,475.68 L1093.00,474.83 L1093.40,473.89 L1093.80,472.89 L1094.20,471.85 L1094.60,470.79 L1095.00,469.73 L1095.40,468.69 L1095.80,467.69 L1096.20,466.69 L1096.60,465.62 L1097.00,464.52 L1097.40,463.40 L1097.80,462.28 L1098.20,461.20 L1098.60,460.16 L1099.00,459.21 L1099.40,458.36 L1099.80,457.56 L1100.20,456.74 L1100.60,455.93 L1101.00,455.19 L1101.40,454.60 L1101.80,454.21 L1102.20,454.21 L1102.60,454.89 L1103.00,456.10 L1103.40,457.65 L1103.80,459.36 L1104.20,461.47 L1104.60,464.55 L1105.00,468.08 L1105.40,471.47 L1105.80,474.16 L1106.20,476.28 L1106.60,478.32 L1107.00,480.23 L1107.40,481.94 L1107.80,483.41 L1108.20,484.58 L1108.60,485.41 L1109.00,486.01 L1109.40,486.55 L1109.80,487.02 L1110.20,487.41 L1110.60,487.71 L1111.00,487.99 L1111.40,488.25 L1111.80,488.49 L1112.20,488.72 L1112.60,488.96 L1113.00,489.20 L1113.40,489.47 L1113.80,489.74 L1114.20,490.01 L1114.60,490.27 L1115.00,490.53 L1115.40,490.79 L1115.80,491.05 L1116.20,491.30 L1116.60,491.54 L1117.00,491.78 L1117.40,492.01 L1117.80,492.23 L1118.20,492.44 L1118.60,492.65 L1119.00,492.84 L1119.40,493.03 L1119.80,493.20 L1120.20,493.37 L1120.60,493.54 L1121.00,493.70 L1121.40,493.87 L1121.80,494.03 L1122.20,494.19 L1122.60,494.35 L1123.00,494.50 L1123.40,494.65 L1123.80,494.79 L1124.20,494.92 L1124.60,495.05 L1125.00,495.16 L1125.40,495.27 L1125.80,495.36 L1126.20,495.44 L1126.60,495.51 L1127.00,495.57 L1127.40,495.61 L1127.80,495.64 L1128.20,495.68 L1128.60,495.71 L1129.00,495.75 L1129.40,495.78 L1129.80,495.81 L1130.20,495.83 L1130.60,495.86 L1131.00,495.88 L1131.40,495.90 L1131.80,495.93 L1132.20,495.94 L1132.60,495.96 L1133.00,495.97 L1133.40,495.98 L1133.80,495.99 L1134.20,496.00 L1134.60,496.00 L1135.00,496.00 L1135.40,495.99 L1135.80,495.96 L1136.20,495.92 L1136.60,495.87 L1137.00,495.81 L1137.40,495.75 L1137.80,495.67 L1138.20,495.58 L1138.60,495.49 L1139.00,495.39 L1139.40,495.29 L1139.80,495.17 L1140.20,495.06 L1140.60,494.93 L1141.00,494.77 L1141.40,494.57 L1141.80,494.33 L1142.20,494.05 L1142.60,493.74 L1143.00,493.40 L1143.40,493.03 L1143.80,492.63 L1144.20,492.21 L1144.60,491.76 L1145.00,491.30 L1145.40,490.72 L1145.80,489.97 L1146.20,489.09 L1146.60,488.15 L1147.00,487.19 L1147.40,486.28 L1147.80,485.46 L1148.20,484.80 L1148.60,484.21 L1149.00,483.60 L1149.40,483.02 L1149.80,482.53 L1150.20,482.18 L1150.60,482.01 L1151.00,482.12 L1151.40,482.61 L1151.80,483.39 L1152.20,484.34 L1152.60,485.36 L1153.00,486.37 L1153.40,487.38 L1153.80,488.62 L1154.20,489.98 L1154.60,491.35 L1155.00,492.59 L1155.40,493.59 L1155.80,494.23 L1156.20,494.73 L1156.60,495.21 L1157.00,495.65 L1157.40,496.05 L1157.80,496.42 L1158.20,496.74 L1158.60,497.01 L1159.00,497.22 L1159.40,497.38 L1159.80,497.48 L1160.20,497.51 L1160.60,497.54 L1161.00,497.56 L1161.40,497.58 L1161.80,497.60 L1162.20,497.62 L1162.60,497.63 L1163.00,497.64 L1163.40,497.65 L1163.80,497.66 L1164.20,497.67 L1164.60,497.67 L1165.00,497.68 L1165.40,497.69 L1165.80,497.70 L1166.20,497.71 L1166.60,497.72 L1167.00,497.73 L1167.40,497.75 L1167.80,497.77 L1168.20,497.79 L1168.60,497.81 L1169.00,497.85 L1169.40,497.91 L1169.80,497.98 L1170.20,498.05 L1170.60,498.14 L1171.00,498.24 L1171.40,498.34 L1171.80,498.44 L1172.20,498.54 L1172.60,498.65 L1173.00,498.75 L1173.40,498.85 L1173.80,498.95 L1174.20,499.04 L1174.60,499.12 L1175.00,499.19 L1175.40,499.25 L1175.80,499.29 L1176.20,499.32 L1176.60,499.36 L1177.00,499.39 L1177.40,499.41 L1177.80,499.44 L1178.20,499.47 L1178.60,499.50 L1179.00,499.52 L1179.40,499.55 L1179.80,499.57 L1180.20,499.59 L1180.60,499.61 L1181.00,499.63 L1181.40,499.65 L1181.80,499.67 L1182.20,499.69 L1182.60,499.71 L1183.00,499.73 L1183.40,499.75 L1183.80,499.76 L1184.20,499.78 L1184.60,499.79 L1185.00,499.81 L1185.40,499.82 L1185.80,499.84 L1186.20,499.85 L1186.60,499.87 L1187.00,499.88 L1187.40,499.89 L1187.80,499.91 L1188.20,499.92 L1188.60,499.93 L1189.00,499.94 L1189.40,499.96 L1189.80,499.97 L1190.20,499.98 L1190.60,499.99 L1191.00,500.01 L1191.40,500.02 L1191.80,500.03 L1192.20,500.04 L1192.60,500.05 L1193.00,500.07 L1193.40,500.08 L1193.80,500.09 L1194.20,500.10 L1194.60,500.11 L1195.00,500.12 L1195.40,500.14 L1195.80,500.15 L1196.20,500.16 L1196.60,500.17 L1197.00,500.18 L1197.40,500.19 L1197.80,500.20 L1198.20,500.21 L1198.60,500.22 L1199.00,500.23 L1199.40,500.24 L1199.80,500.25 L1200.20,500.26 L1200.60,500.27 L1201.00,500.28 L1201.40,500.29 L1201.80,500.30 L1202.20,500.31 L1202.60,500.32 L1203.00,500.33 L1203.40,500.34 L1203.80,500.35 L1204.20,500.36 L1204.60,500.37 L1205.00,500.38 L1205.40,500.38 L1205.80,500.39 L1206.20,500.40 L1206.60,500.41 L1207.00,500.42 L1207.40,500.43 L1207.80,500.44 L1208.20,500.44 L1208.60,500.45 L1209.00,500.46 L1209.40,500.47 L1209.80,500.48 L1210.20,500.49 L1210.60,500.49 L1211.00,500.50 L1211.40,500.51 L1211.80,500.52 L1212.20,500.53 L1212.60,500.53 L1213.00,500.54 L1213.40,500.55 L1213.80,500.56 L1214.20,500.56 L1214.60,500.57 L1215.00,500.58 L1215.40,500.59 L1215.80,500.59 L1216.20,500.60 L1216.60,500.61 L1217.00,500.61 L1217.40,500.62 L1217.80,500.63 L1218.20,500.64 L1218.60,500.64 L1219.00,500.65 L1219.40,500.66 L1219.80,500.66 L1220.20,500.67 L1220.60,500.68 L1221.00,500.68 L1221.40,500.69 L1221.80,500.70 L1222.20,500.70 L1222.60,500.71 L1223.00,500.72 L1223.40,500.72 L1223.80,500.73 L1224.20,500.74 L1224.60,500.74 L1225.00,500.75 L1225.40,500.76 L1225.80,500.76 L1226.20,500.77 L1226.60,500.77 L1227.00,500.78 L1227.40,500.79 L1227.80,500.79 L1228.20,500.80 L1228.60,500.81 L1229.00,500.81 L1229.40,500.82 L1229.80,500.83 L1230.20,500.83 L1230.60,500.84 L1231.00,500.84 L1231.40,500.85 L1231.80,500.86 L1232.20,500.86 L1232.60,500.87 L1233.00,500.87 L1233.40,500.88 L1233.80,500.89 L1234.20,500.89 L1234.60,500.90 L1235.00,500.90 L1235.40,500.91 L1235.80,500.92 L1236.20,500.92 L1236.60,500.93 L1237.00,500.93 L1237.40,500.94 L1237.80,500.95 L1238.20,500.95 L1238.60,500.96 L1239.00,500.96 L1239.40,500.97 L1239.80,500.97 L1240.20,500.98 L1240.60,500.99 L1241.00,500.99 L1241.40,501.00 L1241.80,501.00 L1242.20,501.01 L1242.60,501.01 L1243.00,501.02 L1243.40,501.02 L1243.80,501.03 L1244.20,501.03 L1244.60,501.04 L1245.00,501.05 L1245.40,501.05 L1245.80,501.06 L1246.20,501.06 L1246.60,501.07 L1247.00,501.07 L1247.40,501.08 L1247.80,501.08 L1248.20,501.09 L1248.60,501.09 L1249.00,501.09 L1249.40,501.10 L1249.80,501.10 L1250.20,501.11 L1250.60,501.11 L1251.00,501.12 L1251.40,501.12 L1251.80,501.13 L1252.20,501.13 L1252.60,501.13 L1253.00,501.14 L1253.40,501.14 L1253.80,501.15 L1254.20,501.15 L1254.60,501.15 L1255.00,501.16 L1255.40,501.16 L1255.80,501.17 L1256.20,501.17 L1256.60,501.17 L1257.00,501.18 L1257.40,501.18 L1257.80,501.18 L1258.20,501.19 L1258.60,501.19 L1259.00,501.19 L1259.40,501.20 L1259.80,501.20 L1260.20,501.20 L1260.60,501.20 L1261.00,501.21 L1261.40,501.21 L1261.80,501.21 L1262.20,501.22 L1262.60,501.22 L1263.00,501.22 L1263.40,501.22 L1263.80,501.23 L1264.20,501.23 L1264.60,501.23 L1265.00,501.23 L1265.40,501.24 L1265.80,501.24 L1266.20,501.24 L1266.60,501.25 L1267.00,501.25 L1267.40,501.25 L1267.80,501.25 L1268.20,501.26 L1268.60,501.26 L1269.00,501.26 L1269.40,501.26 L1269.80,501.27 L1270.20,501.27 L1270.60,501.27 L1271.00,501.27 L1271.40,501.27 L1271.80,501.28 L1272.20,501.28 L1272.60,501.28 L1273.00,501.28 L1273.40,501.29 L1273.80,501.29 L1274.20,501.29 L1274.60,501.29 L1275.00,501.29 L1275.40,501.30 L1275.80,501.30 L1276.20,501.30 L1276.60,501.30 L1277.00,501.31 L1277.40,501.31 L1277.80,501.31 L1278.20,501.31 L1278.60,501.31 L1279.00,501.32 L1279.40,501.32 L1279.80,501.32 L1280.20,501.32 L1280.60,501.32 L1281.00,501.33 L1281.40,501.33 L1281.80,501.33 L1282.20,501.33 L1282.60,501.33 L1283.00,501.34 L1283.40,501.34 L1283.80,501.34 L1284.20,501.34 L1284.60,501.34 L1285.00,501.34 L1285.40,501.35 L1285.80,501.35 L1286.20,501.35 L1286.60,501.35 L1287.00,501.35 L1287.40,501.35 L1287.80,501.36 L1288.20,501.36 L1288.60,501.36 L1289.00,501.36 L1289.40,501.36 L1289.80,501.36 L1290.20,501.37 L1290.60,501.37 L1291.00,501.37 L1291.40,501.37 L1291.80,501.37 L1292.20,501.37 L1292.60,501.37 L1293.00,501.38 L1293.40,501.38 L1293.80,501.38 L1294.20,501.38 L1294.60,501.38 L1295.00,501.38 L1295.40,501.38 L1295.80,501.39 L1296.20,501.39 L1296.60,501.39 L1297.00,501.39 L1297.40,501.39 L1297.80,501.39 L1298.20,501.39 L1298.60,501.40 L1299.00,501.40 L1299.40,501.40 L1299.80,501.40 L1300.20,501.40 L1300.60,501.40 L1301.00,501.40 L1301.40,501.40 L1301.80,501.41 L1302.20,501.41 L1302.60,501.41 L1303.00,501.41 L1303.40,501.41 L1303.80,501.41 L1304.20,501.41 L1304.60,501.41 L1305.00,501.42 L1305.40,501.42 L1305.80,501.42 L1306.20,501.42 L1306.60,501.42 L1307.00,501.42 L1307.40,501.42 L1307.80,501.42 L1308.20,501.42 L1308.60,501.43 L1309.00,501.43 L1309.40,501.43 L1309.80,501.43 L1310.20,501.43 L1310.60,501.43 L1311.00,501.43 L1311.40,501.43 L1311.80,501.44 L1312.20,501.44 L1312.60,501.44 L1313.00,501.44 L1313.40,501.44 L1313.80,501.44 L1314.20,501.44 L1314.60,501.44 L1315.00,501.44 L1315.40,501.45 L1315.80,501.45 L1316.20,501.45 L1316.60,501.45 L1317.00,501.45 L1317.40,501.45 L1317.80,501.45 L1318.20,501.45 L1318.60,501.45 L1319.00,501.45 L1319.40,501.46 L1319.80,501.46 L1320.20,501.46 L1320.60,501.46 L1321.00,501.46 L1321.40,501.46 L1321.80,501.46 L1322.20,501.46 L1322.60,501.46 L1323.00,501.46 L1323.40,501.47 L1323.80,501.47 L1324.20,501.47 L1324.60,501.47 L1325.00,501.47 L1325.40,501.47 L1325.80,501.47 L1326.20,501.47 L1326.60,501.47 L1327.00,501.47 L1327.40,501.47 L1327.80,501.48 L1328.20,501.48 L1328.60,501.48 L1329.00,501.48 L1329.40,501.48 L1329.80,501.48 L1330.20,501.48 L1330.60,501.48 L1331.00,501.48 L1331.40,501.48 L1331.80,501.48 L1332.20,501.48 L1332.60,501.48 L1333.00,501.49 L1333.40,501.49 L1333.80,501.49 L1334.20,501.49 L1334.60,501.49 L1335.00,501.49 L1335.40,501.49 L1335.80,501.49 L1336.20,501.49 L1336.60,501.49 L1337.00,501.49 L1337.40,501.49 L1337.80,501.49 L1338.20,501.49 L1338.60,501.49 L1339.00,501.49 L1339.40,501.49 L1339.80,501.50 L1340.20,501.50 L1340.60,501.50 L1341.00,501.50 L1341.40,501.50 L1341.80,501.50 L1342.20,501.50 L1342.60,501.50 L1343.00,501.50 L1343.40,501.50 L1343.80,501.50 L1344.20,501.50 L1344.50,501.50" fill="none" stroke="#5c5c5c" stroke-width="1.9" stroke-linejoin="round" stroke-linecap="butt"/>
<path d="M155.80,311.09 L156.20,312.90 L156.60,314.68 L157.00,316.42 L157.40,318.12 L157.80,319.78 L158.20,321.38 L158.60,322.92 L159.00,324.41 L159.40,325.83 L159.80,327.17 L160.20,328.45 L160.60,329.65 L161.00,330.83 L161.40,331.97 L161.80,333.08 L162.20,334.16 L162.60,335.21 L163.00,336.22 L163.40,337.20 L163.80,338.15 L164.20,339.06 L164.60,339.94 L165.00,340.78 L165.40,341.59 L165.80,342.37 L166.20,343.11 L166.60,343.82 L167.00,344.51 L167.40,345.19 L167.80,345.85 L168.20,346.48 L168.60,347.09 L169.00,347.67 L169.40,348.21 L169.80,348.72 L170.20,349.19 L170.60,349.61 L171.00,349.99 L171.40,350.36 L171.80,350.73 L172.20,351.09 L172.60,351.43 L173.00,351.75 L173.40,352.02 L173.80,352.24 L174.20,352.40 L174.60,352.47 L175.00,352.46 L175.40,352.41 L175.80,352.30 L176.20,352.15 L176.60,351.97 L177.00,351.75 L177.40,351.50 L177.80,351.24 L178.20,350.96 L178.60,350.68 L179.00,350.39 L179.40,350.07 L179.80,349.68 L180.20,349.24 L180.60,348.75 L181.00,348.22 L181.40,347.68 L181.80,347.11 L182.20,346.55 L182.60,345.99 L183.00,345.46 L183.40,344.95 L183.80,344.45 L184.20,343.94 L184.60,343.40 L185.00,342.82 L185.40,342.18 L185.80,341.47 L186.20,340.67 L186.60,339.77 L187.00,338.74 L187.40,337.24 L187.80,335.02 L188.20,332.14 L188.60,328.74 L189.00,325.13 L189.40,321.45 L189.80,317.89 L190.20,314.60 L190.60,311.76 L191.00,309.16 L191.40,306.58 L191.80,304.20 L192.20,302.18 L192.60,300.67 L193.00,299.35 L193.40,298.14 L193.80,297.17 L194.20,296.85 L194.60,297.28 L195.00,298.10 L195.40,299.18 L195.80,300.37 L196.20,301.61 L196.60,303.11 L197.00,304.83 L197.40,306.66 L197.80,308.49 L198.20,310.39 L198.60,312.38 L199.00,314.44 L199.40,316.57 L199.80,318.74 L200.20,320.94 L200.60,323.14 L201.00,325.33 L201.40,327.50 L201.80,329.62 L202.20,331.60 L202.60,333.42 L203.00,335.17 L203.40,336.94 L203.80,338.73 L204.20,340.49 L204.60,342.19 L205.00,343.79 L205.40,345.27 L205.80,346.58 L206.20,347.72 L206.60,348.88 L207.00,350.02 L207.40,351.09 L207.80,352.03 L208.20,352.77 L208.60,353.26 L209.00,353.44 L209.40,353.30 L209.80,353.04 L210.20,352.67 L210.60,352.25 L211.00,351.81 L211.40,351.22 L211.80,350.42 L212.20,349.52 L212.60,348.63 L213.00,347.84 L213.40,347.07 L213.80,346.26 L214.20,345.43 L214.60,344.60 L215.00,343.78 L215.40,342.98 L215.80,342.23 L216.20,341.53 L216.60,340.89 L217.00,340.35 L217.40,339.90 L217.80,339.57 L218.20,339.35 L218.60,339.15 L219.00,338.97 L219.40,338.82 L219.80,338.70 L220.20,338.62 L220.60,338.58 L221.00,338.59 L221.40,338.62 L221.80,338.67 L222.20,338.72 L222.60,338.75 L223.00,338.74 L223.40,338.36 L223.80,337.71 L224.20,336.83 L224.60,335.77 L225.00,334.54 L225.40,333.20 L225.80,331.78 L226.20,330.23 L226.60,328.04 L227.00,325.24 L227.40,321.95 L227.80,318.30 L228.20,314.42 L228.60,310.42 L229.00,306.44 L229.40,302.60 L229.80,299.03 L230.20,295.87 L230.60,292.79 L231.00,289.65 L231.40,286.49 L231.80,283.37 L232.20,280.34 L232.60,277.46 L233.00,274.78 L233.40,272.35 L233.80,270.22 L234.20,268.44 L234.60,266.86 L235.00,265.29 L235.40,263.80 L235.80,262.44 L236.20,261.27 L236.60,260.35 L237.00,259.72 L237.40,259.94 L237.80,260.44 L238.20,261.15 L238.60,262.05 L239.00,263.10 L239.40,264.26 L239.80,265.49 L240.20,266.76 L240.60,268.03 L241.00,269.25 L241.40,270.41 L241.80,271.64 L242.20,272.98 L242.60,274.39 L243.00,275.84 L243.40,277.28 L243.80,278.69 L244.20,280.03 L244.60,281.27 L245.00,282.37 L245.40,283.21 L245.80,284.01 L246.20,284.80 L246.60,285.58 L247.00,286.33 L247.40,287.03 L247.80,287.67 L248.20,288.22 L248.60,288.69 L249.00,289.04 L249.40,289.26 L249.80,289.33 L250.20,289.25 L250.60,289.03 L251.00,288.68 L251.40,288.20 L251.80,287.62 L252.20,286.96 L252.60,286.22 L253.00,285.42 L253.40,284.59 L253.80,283.48 L254.20,281.91 L254.60,279.97 L255.00,277.74 L255.38,275.30 L255.76,272.74 L256.13,270.14 L256.51,267.50 L256.89,264.67 L257.27,261.64 L257.65,258.42 L258.03,254.94 L258.40,251.20 L258.78,247.30 L259.16,243.23 L259.54,239.02 L259.92,234.67 L260.29,230.11 L260.67,224.99 L261.05,219.39 L261.43,213.50 L261.81,207.50 L262.19,201.56 L262.56,195.86 L262.94,190.57 L263.32,185.68 L263.70,181.01 L264.08,176.48 L264.45,172.00 L264.83,167.53 L265.21,163.13 L265.60,158.78 L266.00,154.46 L266.40,150.12 L266.80,145.75 L267.20,141.35 L267.60,136.95 L268.00,132.59 L268.40,128.30 L268.80,124.05 L269.20,119.84 L269.60,115.75 L270.00,111.76 L270.40,107.78 L270.80,105.25 L271.20,103.36 L271.60,103.13 L272.00,105.50 L272.40,109.79 L272.80,117.01 L273.20,123.71 L273.62,130.49 L274.05,137.23 L274.48,143.94 L274.91,150.87 L275.34,158.34 L275.77,166.26 L276.20,173.97 L276.63,181.20 L277.06,187.83 L277.49,193.73 L277.92,199.61 L278.35,206.29 L278.78,214.58 L279.21,224.02 L279.64,233.51 L280.07,242.03 L280.50,250.10 L280.93,257.89 L281.36,265.38 L281.79,272.46 L282.20,278.94 L282.60,285.28 L283.00,292.01 L283.40,300.12 L283.80,309.45 L284.20,317.18 L284.60,321.69 L285.00,324.98 L285.40,327.72 L285.80,330.42 L286.20,333.64 L286.60,337.55 L287.00,341.89 L287.40,346.51 L287.80,351.25 L288.20,355.96 L288.60,360.49 L289.00,364.67 L289.40,368.41 L289.80,371.92 L290.20,375.23 L290.60,378.39 L291.00,381.45 L291.40,384.43 L291.80,387.36 L292.20,390.27 L292.60,393.22 L293.00,396.23 L293.40,399.25 L293.80,402.18 L294.20,404.97 L294.60,407.54 L295.00,409.80 L295.40,411.74 L295.80,413.58 L296.20,415.34 L296.60,417.00 L297.00,418.54 L297.40,419.93 L297.80,421.15 L298.20,422.18 L298.60,423.00 L299.00,423.68 L299.40,424.32 L299.80,424.92 L300.20,425.47 L300.60,425.98 L301.00,426.45 L301.40,426.88 L301.80,427.27 L302.20,427.63 L302.60,427.95 L303.00,428.23 L303.40,428.49 L303.80,428.71 L304.20,428.93 L304.60,429.14 L305.00,429.35 L305.40,429.55 L305.80,429.74 L306.20,429.91 L306.60,430.06 L307.00,430.20 L307.40,430.31 L307.80,430.40 L308.20,430.46 L308.60,430.50 L309.00,430.48 L309.40,430.37 L309.80,430.15 L310.20,429.86 L310.60,429.50 L311.00,429.11 L311.40,428.69 L311.80,428.28 L312.20,427.88 L312.60,427.52 L313.00,427.22 L313.40,427.00 L313.80,426.82 L314.20,426.64 L314.60,426.46 L315.00,426.30 L315.40,426.16 L315.80,426.04 L316.20,425.95 L316.60,425.91 L317.00,425.93 L317.40,426.12 L317.80,426.49 L318.20,426.99 L318.60,427.59 L319.00,428.28 L319.40,429.01 L319.80,429.75 L320.20,430.48 L320.60,431.17 L321.00,431.88 L321.40,432.63 L321.80,433.43 L322.20,434.27 L322.60,435.14 L323.00,436.04 L323.40,436.97 L323.80,437.91 L324.20,438.87 L324.60,439.85 L325.00,440.88 L325.40,441.99 L325.80,443.15 L326.20,444.34 L326.60,445.54 L327.00,446.73 L327.40,447.90 L327.80,449.02 L328.20,450.07 L328.60,451.04 L329.00,451.98 L329.40,452.91 L329.80,453.83 L330.20,454.72 L330.60,455.58 L331.00,456.39 L331.40,457.15 L331.80,457.85 L332.20,458.48 L332.60,459.03 L333.00,459.55 L333.40,460.06 L333.80,460.54 L334.20,461.00 L334.60,461.42 L335.00,461.81 L335.40,462.16 L335.80,462.46 L336.20,462.71 L336.60,462.90 L337.00,463.06 L337.40,463.21 L337.80,463.35 L338.20,463.48 L338.60,463.60 L339.00,463.70 L339.40,463.78 L339.80,463.85 L340.20,463.89 L340.60,463.90 L341.00,463.86 L341.40,463.73 L341.80,463.53 L342.20,463.27 L342.60,462.96 L343.00,462.60 L343.40,462.22 L343.80,461.82 L344.20,461.41 L344.60,461.00 L345.00,460.54 L345.40,459.93 L345.80,459.21 L346.20,458.45 L346.60,457.73 L347.00,457.09 L347.40,456.62 L347.80,456.35 L348.20,456.17 L348.60,456.01 L349.00,455.89 L349.40,455.82 L349.80,455.81 L350.20,456.01 L350.60,456.40 L351.00,456.91 L351.40,457.47 L351.80,457.98 L352.20,458.37 L352.60,458.60 L353.00,458.79 L353.40,458.97 L353.80,459.12 L354.20,459.23 L354.60,459.29 L355.00,459.27 L355.40,459.07 L355.80,458.71 L356.20,458.23 L356.60,457.66 L357.00,457.04 L357.40,456.41 L357.80,455.80 L358.20,455.18 L358.60,454.48 L359.00,453.71 L359.40,452.90 L359.80,452.06 L360.20,451.20 L360.60,450.34 L361.00,449.49 L361.40,448.67 L361.80,447.89 L362.20,447.15 L362.60,446.45 L363.00,445.76 L363.40,445.08 L363.80,444.41 L364.20,443.74 L364.60,443.07 L365.00,442.39 L365.40,441.69 L365.80,440.97 L366.20,440.23 L366.60,439.49 L367.00,438.76 L367.40,438.03 L367.80,437.28 L368.20,436.51 L368.60,435.70 L369.00,434.86 L369.40,433.96 L369.80,433.00 L370.20,431.98 L370.60,430.89 L371.00,429.72 L371.40,428.47 L371.80,427.12 L372.20,425.67 L372.60,424.10 L373.00,422.40 L373.40,420.46 L373.80,418.22 L374.20,415.75 L374.60,413.11 L375.00,410.37 L375.40,407.50 L375.80,404.49 L376.20,401.26 L376.60,397.90 L377.00,394.49 L377.40,391.13 L377.80,387.90 L378.20,384.75 L378.60,381.47 L379.00,378.18 L379.40,375.05 L379.80,372.23 L380.20,369.88 L380.60,368.09 L381.00,366.58 L381.40,365.42 L381.80,364.39 L382.20,363.45 L382.60,362.56 L383.00,361.68 L383.40,360.75 L383.80,359.85 L384.20,359.04 L384.60,358.29 L385.00,357.56 L385.40,356.84 L385.80,356.09 L386.20,355.28 L386.60,354.38 L387.00,353.37 L387.40,352.20 L387.80,350.81 L388.20,349.06 L388.60,346.97 L389.00,344.63 L389.40,342.09 L389.80,339.40 L390.20,336.45 L390.60,332.99 L391.00,329.21 L391.40,325.33 L391.80,321.56 L392.20,317.83 L392.60,313.84 L393.00,309.28 L393.40,303.72 L393.80,296.97 L394.20,289.38 L394.60,280.94 L395.00,271.15 L395.40,260.52 L395.80,249.92 L396.20,240.05 L396.60,231.31 L397.00,223.14 L397.40,215.31 L397.80,207.61 L398.20,199.80 L398.60,191.71 L399.00,183.45 L399.40,175.13 L399.80,166.88 L400.20,158.79 L400.60,150.85 L401.00,143.04 L401.40,135.46 L401.80,128.11 L402.20,120.88 L402.60,114.03 L403.00,107.82 L403.40,102.01 L403.80,96.69 L404.20,92.14 L404.60,88.20 L405.00,84.74 L405.40,82.15 L405.80,80.12 L406.20,78.89 L406.60,79.08 L407.00,80.64 L407.40,83.00 L407.80,86.02 L408.20,90.37 L408.60,95.36 L409.00,101.30 L409.40,108.10 L409.80,115.46 L410.20,123.88 L410.60,132.42 L411.00,140.05 L411.40,147.09 L411.80,153.85 L412.20,160.53 L412.60,167.29 L413.00,174.05 L413.40,180.77 L413.80,187.39 L414.20,193.86 L414.60,200.13 L415.00,206.31 L415.40,212.25 L415.80,218.13 L416.20,223.86 L416.60,229.37 L417.00,234.59 L417.40,239.44 L417.80,243.86 L418.20,247.96 L418.60,251.82 L419.00,255.49 L419.40,259.00 L419.80,262.43 L420.20,265.80 L420.60,269.18 L421.00,272.61 L421.40,276.06 L421.80,279.45 L422.20,282.73 L422.60,285.83 L423.00,288.70 L423.40,291.27 L423.80,293.58 L424.20,295.82 L424.60,297.97 L425.00,300.02 L425.40,301.90 L425.80,303.65 L426.20,305.24 L426.60,306.66 L427.00,307.89 L427.40,308.92 L427.80,309.86 L428.20,310.74 L428.60,311.58 L429.00,312.37 L429.40,313.10 L429.80,313.79 L430.20,314.43 L430.60,315.02 L431.00,315.56 L431.40,316.04 L431.80,316.48 L432.20,316.86 L432.60,317.19 L433.00,317.51 L433.40,317.83 L433.80,318.14 L434.20,318.44 L434.60,318.72 L435.00,318.99 L435.40,319.25 L435.80,319.48 L436.20,319.69 L436.60,319.88 L437.00,320.04 L437.40,320.18 L437.80,320.28 L438.20,320.35 L438.60,320.38 L439.00,320.38 L439.40,320.35 L439.80,320.30 L440.20,320.20 L440.60,320.08 L441.00,319.93 L441.40,319.78 L441.80,319.61 L442.20,319.44 L442.60,319.27 L443.00,319.10 L443.40,318.93 L443.80,318.78 L444.20,318.63 L444.60,318.50 L445.00,318.38 L445.40,318.24 L445.80,318.10 L446.20,317.95 L446.60,317.80 L447.00,317.66 L447.40,317.53 L447.80,317.41 L448.20,317.31 L448.60,317.22 L449.00,317.16 L449.40,317.13 L449.80,317.15 L450.20,317.25 L450.60,317.44 L451.00,317.75 L451.40,318.17 L451.80,318.66 L452.20,319.22 L452.60,319.81 L453.00,320.42 L453.40,321.09 L453.80,321.95 L454.20,322.99 L454.60,324.18 L455.00,325.48 L455.40,326.87 L455.80,328.32 L456.20,329.81 L456.60,331.31 L457.00,332.82 L457.40,334.43 L457.80,336.11 L458.20,337.88 L458.60,339.72 L459.00,341.62 L459.40,343.58 L459.80,345.60 L460.20,347.70 L460.60,349.89 L461.00,352.12 L461.40,354.44 L461.80,356.86 L462.20,359.34 L462.60,361.89 L463.00,364.49 L463.40,367.12 L463.80,369.76 L464.20,372.41 L464.60,375.04 L465.00,377.65 L465.40,380.34 L465.80,383.11 L466.20,385.92 L466.60,388.74 L467.00,391.51 L467.40,394.20 L467.80,396.77 L468.20,399.17 L468.60,401.39 L469.00,403.55 L469.40,405.64 L469.80,407.67 L470.20,409.63 L470.60,411.51 L471.00,413.31 L471.40,415.02 L471.80,416.63 L472.20,418.14 L472.60,419.56 L473.00,420.93 L473.40,422.25 L473.80,423.52 L474.20,424.75 L474.60,425.94 L475.00,427.07 L475.40,428.16 L475.80,429.21 L476.20,430.20 L476.60,431.15 L477.00,432.05 L477.40,432.91 L477.80,433.73 L478.20,434.53 L478.60,435.31 L479.00,436.05 L479.40,436.78 L479.80,437.48 L480.20,438.15 L480.60,438.81 L481.00,439.44 L481.40,440.05 L481.80,440.64 L482.20,441.21 L482.60,441.76 L483.00,442.29 L483.40,442.80 L483.80,443.29 L484.20,443.77 L484.60,444.24 L485.00,444.69 L485.40,445.13 L485.80,445.56 L486.20,445.97 L486.60,446.38 L487.00,446.77 L487.40,447.16 L487.80,447.53 L488.20,447.90 L488.60,448.26 L489.00,448.62 L489.40,448.97 L489.80,449.31 L490.20,449.65 L490.60,449.98 L491.00,450.31 L491.40,450.64 L491.80,450.96 L492.20,451.28 L492.60,451.59 L493.00,451.90 L493.40,452.21 L493.80,452.51 L494.20,452.80 L494.60,453.10 L495.00,453.38 L495.40,453.67 L495.80,453.95 L496.20,454.22 L496.60,454.50 L497.00,454.76 L497.40,455.03 L497.80,455.29 L498.20,455.54 L498.60,455.80 L499.00,456.05 L499.40,456.29 L499.80,456.53 L500.20,456.77 L500.60,457.00 L501.00,457.23 L501.40,457.45 L501.80,457.68 L502.20,457.89 L502.60,458.11 L503.00,458.32 L503.40,458.53 L503.80,458.73 L504.20,458.93 L504.60,459.13 L505.00,459.33 L505.40,459.53 L505.80,459.72 L506.20,459.91 L506.60,460.10 L507.00,460.28 L507.40,460.47 L507.80,460.65 L508.20,460.84 L508.60,461.02 L509.00,461.20 L509.40,461.38 L509.80,461.56 L510.20,461.73 L510.60,461.91 L511.00,462.09 L511.40,462.26 L511.80,462.44 L512.20,462.61 L512.60,462.78 L513.00,462.95 L513.40,463.11 L513.80,463.28 L514.20,463.44 L514.60,463.60 L515.00,463.76 L515.40,463.93 L515.80,464.08 L516.20,464.24 L516.60,464.40 L517.00,464.56 L517.40,464.72 L517.80,464.87 L518.20,465.03 L518.60,465.19 L519.00,465.35 L519.40,465.50 L519.80,465.66 L520.20,465.82 L520.60,465.98 L521.00,466.14 L521.40,466.30 L521.80,466.46 L522.20,466.62 L522.60,466.78 L523.00,466.94 L523.40,467.10 L523.80,467.26 L524.20,467.43 L524.60,467.59 L525.00,467.75 L525.40,467.91 L525.80,468.07 L526.20,468.23 L526.60,468.38 L527.00,468.54 L527.40,468.70 L527.80,468.86 L528.20,469.02 L528.60,469.17 L529.00,469.33 L529.40,469.48 L529.80,469.64 L530.20,469.79 L530.60,469.95 L531.00,470.10 L531.40,470.25 L531.80,470.41 L532.20,470.56 L532.60,470.71 L533.00,470.87 L533.40,471.02 L533.80,471.18 L534.20,471.33 L534.60,471.49 L535.00,471.64 L535.40,471.79 L535.80,471.95 L536.20,472.10 L536.60,472.25 L537.00,472.40 L537.40,472.54 L537.80,472.69 L538.20,472.83 L538.60,472.97 L539.00,473.11 L539.40,473.25 L539.80,473.38 L540.20,473.51 L540.60,473.64 L541.00,473.77 L541.40,473.90 L541.80,474.03 L542.20,474.18 L542.60,474.32 L543.00,474.47 L543.40,474.61 L543.80,474.75 L544.20,474.87 L544.60,474.98 L545.00,475.07 L545.40,475.14 L545.80,475.18 L546.20,475.20 L546.60,475.18 L547.00,475.11 L547.40,475.00 L547.80,474.85 L548.20,474.66 L548.60,474.45 L549.00,474.20 L549.40,473.92 L549.80,473.61 L550.20,473.26 L550.60,472.81 L551.00,472.17 L551.40,471.33 L551.80,470.30 L552.20,469.06 L552.60,467.61 L553.00,465.94 L553.40,464.01 L553.80,460.68 L554.20,455.91 L554.60,450.20 L555.00,444.04 L555.40,437.90 L555.80,431.04 L556.20,423.39 L556.60,415.39 L557.00,407.47 L557.40,400.05 L557.80,392.94 L558.20,385.91 L558.60,379.34 L559.00,373.63 L559.40,368.50 L559.80,363.93 L560.20,360.65 L560.60,358.36 L561.00,357.15 L561.40,358.09 L561.80,360.10 L562.20,364.10 L562.60,371.74 L563.00,379.83 L563.40,387.02 L563.80,394.31 L564.20,401.84 L564.60,409.70 L565.00,418.37 L565.40,427.51 L565.80,436.49 L566.20,444.66 L566.60,451.45 L567.00,457.58 L567.40,463.29 L567.80,468.36 L568.20,472.53 L568.60,475.63 L569.00,478.20 L569.40,480.54 L569.80,482.62 L570.20,484.43 L570.60,485.95 L571.00,487.21 L571.40,488.20 L571.80,488.97 L572.20,489.68 L572.60,490.34 L573.00,490.94 L573.40,491.50 L573.80,492.00 L574.20,492.47 L574.60,492.88 L575.00,493.26 L575.40,493.60 L575.80,493.90 L576.20,494.17 L576.60,494.40 L577.00,494.61 L577.40,494.80 L577.80,494.98 L578.20,495.15 L578.60,495.30 L579.00,495.44 L579.40,495.57 L579.80,495.70 L580.20,495.81 L580.60,495.93 L581.00,496.04 L581.40,496.14 L581.80,496.25 L582.20,496.35 L582.60,496.45 L583.00,496.55 L583.40,496.65 L583.80,496.75 L584.20,496.84 L584.60,496.93 L585.00,497.02 L585.40,497.10 L585.80,497.18 L586.20,497.26 L586.60,497.34 L587.00,497.41 L587.40,497.49 L587.80,497.56 L588.20,497.63 L588.60,497.69 L589.00,497.75 L589.40,497.82 L589.80,497.88 L590.20,497.94 L590.60,498.00 L591.00,498.07 L591.40,498.13 L591.80,498.20 L592.20,498.26 L592.60,498.32 L593.00,498.38 L593.40,498.44 L593.80,498.50 L594.20,498.55 L594.60,498.61 L595.00,498.66 L595.40,498.70 L595.80,498.74 L596.20,498.78 L596.60,498.81 L597.00,498.84 L597.40,498.87 L597.80,498.88 L598.20,498.89 L598.60,498.90 L599.00,498.90 L599.40,498.90 L599.80,498.90 L600.20,498.90 L600.60,498.90 L601.00,498.90 L601.40,498.90 L601.80,498.90 L602.20,498.90 L602.60,498.90 L603.00,498.90 L603.40,498.90 L603.80,498.90 L604.20,498.90 L604.60,498.90 L605.00,498.90 L605.40,498.90 L605.80,498.90 L606.20,498.90 L606.60,498.90 L607.00,498.90 L607.40,498.90 L607.80,498.90 L608.20,498.90 L608.60,498.90 L609.00,498.90 L609.40,498.90 L609.80,498.90 L610.20,498.90 L610.60,498.90 L611.00,498.90 L611.40,498.90 L611.80,498.90 L612.20,498.90 L612.60,498.90 L613.00,498.90 L613.40,498.90 L613.80,498.90 L614.20,498.90 L614.60,498.90 L615.00,498.90 L615.40,498.90 L615.80,498.90 L616.20,498.90 L616.60,498.90 L617.00,498.90 L617.40,498.90 L617.80,498.90 L618.20,498.90 L618.60,498.89 L619.00,498.88 L619.40,498.87 L619.80,498.86 L620.20,498.85 L620.60,498.83 L621.00,498.81 L621.40,498.79 L621.80,498.77 L622.20,498.75 L622.60,498.72 L623.00,498.70 L623.40,498.67 L623.80,498.64 L624.20,498.61 L624.60,498.58 L625.00,498.54 L625.40,498.51 L625.80,498.47 L626.20,498.44 L626.60,498.40 L627.00,498.36 L627.40,498.32 L627.80,498.28 L628.20,498.24 L628.60,498.20 L629.00,498.16 L629.40,498.12 L629.80,498.07 L630.20,498.03 L630.60,497.99 L631.00,497.94 L631.40,497.90 L631.80,497.86 L632.20,497.81 L632.60,497.77 L633.00,497.72 L633.40,497.67 L633.80,497.62 L634.20,497.57 L634.60,497.51 L635.00,497.45 L635.40,497.39 L635.80,497.32 L636.20,497.25 L636.60,497.17 L637.00,497.10 L637.40,497.01 L637.80,496.92 L638.20,496.83 L638.60,496.73 L639.00,496.63 L639.40,496.52 L639.80,496.40 L640.20,496.25 L640.60,496.04 L641.00,495.79 L641.40,495.51 L641.80,495.20 L642.20,494.88 L642.60,494.54 L643.00,494.20 L643.40,493.86 L643.80,493.53 L644.20,493.21 L644.60,492.92 L645.00,492.66 L645.40,492.43 L645.80,492.24 L646.20,492.05 L646.60,491.87 L647.00,491.70 L647.40,491.53 L647.80,491.37 L648.20,491.22 L648.60,491.07 L649.00,490.92 L649.40,490.77 L649.80,490.63 L650.20,490.48 L650.60,490.34 L651.00,490.19 L651.40,490.04 L651.80,489.87 L652.20,489.70 L652.60,489.52 L653.00,489.35 L653.40,489.18 L653.80,489.02 L654.20,488.88 L654.60,488.76 L655.00,488.67 L655.40,488.60 L655.80,488.57 L656.20,488.66 L656.60,488.88 L657.00,489.20 L657.40,489.60 L657.80,490.04 L658.20,490.50 L658.60,490.96 L659.00,491.38 L659.40,491.74 L659.80,492.08 L660.20,492.47 L660.60,492.89 L661.00,493.30 L661.40,493.69 L661.80,494.04 L662.20,494.33 L662.60,494.55 L663.00,494.66 L663.40,494.68 L663.80,494.68 L664.20,494.68 L664.60,494.68 L665.00,494.68 L665.40,494.68 L665.80,494.68 L666.20,494.68 L666.60,494.68 L667.00,494.68 L667.40,494.68 L667.80,494.68 L668.20,494.68 L668.60,494.68 L669.00,494.68 L669.40,494.68 L669.80,494.68 L670.20,494.67 L670.60,494.65 L671.00,494.62 L671.40,494.58 L671.80,494.54 L672.20,494.50 L672.60,494.45 L673.00,494.41 L673.40,494.37 L673.80,494.33 L674.20,494.30 L674.60,494.27 L675.00,494.26 L675.40,494.26 L675.80,494.29 L676.20,494.36 L676.60,494.47 L677.00,494.61 L677.40,494.77 L677.80,494.95 L678.20,495.14 L678.60,495.33 L679.00,495.52 L679.40,495.71 L679.80,495.89 L680.20,496.05 L680.60,496.18 L681.00,496.29 L681.40,496.39 L681.80,496.49 L682.20,496.60 L682.60,496.70 L683.00,496.80 L683.40,496.90 L683.80,497.00 L684.20,497.09 L684.60,497.18 L685.00,497.26 L685.40,497.34 L685.80,497.41 L686.20,497.47 L686.60,497.53 L687.00,497.57 L687.40,497.61 L687.80,497.63 L688.20,497.64 L688.60,497.65 L689.00,497.65 L689.40,497.65 L689.80,497.65 L690.20,497.65 L690.60,497.65 L691.00,497.65 L691.40,497.65 L691.80,497.65 L692.20,497.65 L692.60,497.65 L693.00,497.65 L693.40,497.65 L693.80,497.65 L694.20,497.65 L694.60,497.65 L695.00,497.65 L695.40,497.65 L695.80,497.65 L696.20,497.65 L696.60,497.65 L697.00,497.65 L697.40,497.65 L697.80,497.65 L698.20,497.65 L698.60,497.65 L699.00,497.65 L699.40,497.65 L699.80,497.65 L700.20,497.66 L700.60,497.68 L701.00,497.70 L701.40,497.73 L701.80,497.76 L702.20,497.79 L702.60,497.82 L703.00,497.85 L703.40,497.88 L703.80,497.92 L704.20,497.96 L704.60,497.99 L705.00,498.03 L705.40,498.07 L705.80,498.11 L706.20,498.15 L706.60,498.19 L707.00,498.24 L707.40,498.28 L707.80,498.32 L708.20,498.36 L708.60,498.41 L709.00,498.45 M731.00,497.84 L731.40,497.79 L731.80,497.74 L732.20,497.69 L732.60,497.64 L733.00,497.60 L733.40,497.55 L733.80,497.50 L734.20,497.45 L734.60,497.40 L735.00,497.36 L735.40,497.31 L735.80,497.26 L736.20,497.22 L736.60,497.17 L737.00,497.12 L737.40,497.07 L737.80,497.03 L738.20,496.98 L738.60,496.93 L739.00,496.89 L739.40,496.84 L739.80,496.80 L740.20,496.75 L740.60,496.71 L741.00,496.66 L741.40,496.62 L741.80,496.57 L742.20,496.53 L742.60,496.48 L743.00,496.44 L743.40,496.39 L743.80,496.35 L744.20,496.31 L744.60,496.26 L745.00,496.22 L745.40,496.18 L745.80,496.13 L746.20,496.09 L746.60,496.05 L747.00,496.01 L747.40,495.97 L747.80,495.93 L748.20,495.88 L748.60,495.84 L749.00,495.80 L749.40,495.77 L749.80,495.73 L750.20,495.70 L750.60,495.68 L751.00,495.66 L751.40,495.64 L751.80,495.62 L752.20,495.60 L752.60,495.58 L753.00,495.56 L753.40,495.54 L753.80,495.52 L754.20,495.51 L754.60,495.49 L755.00,495.47 L755.40,495.46 L755.80,495.44 L756.20,495.42 L756.60,495.40 L757.00,495.39 L757.40,495.37 L757.80,495.35 L758.20,495.34 L758.60,495.32 L759.00,495.30 L759.40,495.28 L759.80,495.26 L760.20,495.24 L760.60,495.22 L761.00,495.20 L761.40,495.18 L761.80,495.16 L762.20,495.14 L762.60,495.12 L763.00,495.09 L763.40,495.07 L763.80,495.04 L764.20,495.02 L764.60,494.99 L765.00,494.96 L765.40,494.93 L765.80,494.90 L766.20,494.87 L766.60,494.84 L767.00,494.81 L767.40,494.77 L767.80,494.73 L768.20,494.70 L768.60,494.66 L769.00,494.62 L769.40,494.57 L769.80,494.53 L770.20,494.48 L770.60,494.44 L771.00,494.39 L771.40,494.34 L771.80,494.28 L772.20,494.23 L772.60,494.17 L773.00,494.11 L773.40,494.05 L773.80,493.98 L774.20,493.91 L774.60,493.84 L775.00,493.77 L775.40,493.70 L775.80,493.62 L776.20,493.54 L776.60,493.45 L777.00,493.37 L777.40,493.28 L777.80,493.19 L778.20,493.08 L778.60,492.93 L779.00,492.75 L779.40,492.55 L779.80,492.32 L780.20,492.05 L780.60,491.76 L781.00,491.47 L781.40,491.17 L781.80,490.88 L782.20,490.61 L782.60,490.36 L783.00,490.14 L783.40,489.95 L783.80,489.80 L784.20,489.69 L784.60,489.64 L785.00,489.64 L785.40,489.67 L785.80,489.74 L786.20,489.84 L786.60,489.96 L787.00,490.09 L787.40,490.25 L787.80,490.41 L788.20,490.58 L788.60,490.78 L789.00,490.96 L789.40,491.13 L789.80,491.28 L790.20,491.41 L790.60,491.53 L791.00,491.66 L791.40,491.80 L791.80,491.93 L792.20,492.06 L792.60,492.20 L793.00,492.32 L793.40,492.45 L793.80,492.56 L794.20,492.67 L794.60,492.76 L795.00,492.84 L795.40,492.91 L795.80,492.96 L796.20,492.99 L796.60,493.00 L797.00,492.99 L797.40,492.96 L797.80,492.90 L798.20,492.83 L798.60,492.74 L799.00,492.64 L799.40,492.52 L799.80,492.39 L800.20,492.28 L800.60,492.21 L801.00,492.13 L801.40,492.05 L801.80,491.96 L802.20,491.86 L802.60,491.75 L803.00,491.58 L803.40,491.37 L803.80,491.12 L804.20,490.83 L804.60,490.50 L805.00,490.14 L805.40,489.74 L805.80,489.30 L806.20,488.79 L806.60,488.18 L807.00,487.53 L807.40,486.71 L807.80,485.69 L808.20,484.51 L808.60,483.20 L809.00,481.79 L809.40,480.32 L809.80,478.82 L810.20,477.32 L810.60,475.86 L811.00,474.35 L811.40,472.63 L811.80,470.82 L812.20,469.08 L812.60,467.56 L813.00,466.41 L813.40,465.61 L813.80,464.88 L814.20,464.29 L814.60,463.95 L815.00,463.96 L815.40,464.42 L815.80,465.23 L816.20,466.27 L816.60,467.42 L817.00,468.66 L817.40,470.38 L817.80,472.49 L818.20,474.75 L818.60,476.95 L819.00,478.88 L819.40,480.50 L819.80,482.08 L820.20,483.60 L820.60,485.04 L821.00,486.34 L821.40,487.48 L821.80,488.40 L822.20,489.15 L822.60,489.84 L823.00,490.49 L823.40,491.08 L823.80,491.62 L824.20,492.10 L824.60,492.53 L825.00,492.88 L825.40,493.18 L825.80,493.41 L826.20,493.63 L826.60,493.84 L827.00,494.03 L827.40,494.22 L827.80,494.40 L828.20,494.56 L828.60,494.71 L829.00,494.86 L829.40,494.98 L829.80,495.10 L830.20,495.20 L830.60,495.29 L831.00,495.37 L831.40,495.43 L831.80,495.48 L832.20,495.51 L832.60,495.53 L833.00,495.56 L833.40,495.58 L833.80,495.61 L834.20,495.63 L834.60,495.66 L835.00,495.68 L835.40,495.70 L835.80,495.72 L836.20,495.74 L836.60,495.76 L837.00,495.78 L837.40,495.80 L837.80,495.82 L838.20,495.84 L838.60,495.85 L839.00,495.87 L839.40,495.89 L839.80,495.90 L840.20,495.92 L840.60,495.93 L841.00,495.94 L841.40,495.96 L841.80,495.97 L842.20,495.98 L842.60,495.99 L843.00,496.00 L843.40,496.01 L843.80,496.02 L844.20,496.03 L844.60,496.04 L845.00,496.05 L845.40,496.05 L845.80,496.06 L846.20,496.07 L846.60,496.07 L847.00,496.08 L847.40,496.08 L847.80,496.09 L848.20,496.09 L848.60,496.09 L849.00,496.09 L849.40,496.10 L849.80,496.10 L850.20,496.10 L850.60,496.10 L851.00,496.10 L851.40,496.10 L851.80,496.10 L852.20,496.10 L852.60,496.10 L853.00,496.10 L853.40,496.10 L853.80,496.10 L854.20,496.10 L854.60,496.10 L855.00,496.10 L855.40,496.10 L855.80,496.10 L856.20,496.09 L856.60,496.09 L857.00,496.09 L857.40,496.09 L857.80,496.09 L858.20,496.09 L858.60,496.09 L859.00,496.09 L859.40,496.09 L859.80,496.09 L860.20,496.08 L860.60,496.08 L861.00,496.08 L861.40,496.08 L861.80,496.08 L862.20,496.08 L862.60,496.08 L863.00,496.07 L863.40,496.07 L863.80,496.07 L864.20,496.07 L864.60,496.07 L865.00,496.07 L865.40,496.06 L865.80,496.06 L866.20,496.06 L866.60,496.06 L867.00,496.06 L867.40,496.05 L867.80,496.05 L868.20,496.05 L868.60,496.05 L869.00,496.05 L869.40,496.04 L869.80,496.04 L870.20,496.04 L870.60,496.04 L871.00,496.03 L871.40,496.03 L871.80,496.03 L872.20,496.03 L872.60,496.02 L873.00,496.02 L873.40,496.02 L873.80,496.02 L874.20,496.01 L874.60,496.01 L875.00,496.01 L875.40,496.01 L875.80,496.00 L876.20,496.00 L876.60,496.00 L877.00,495.99 L877.40,495.99 L877.80,495.99 L878.20,495.99 L878.60,495.98 L879.00,495.98 L879.40,495.98 L879.80,495.97 L880.20,495.97 L880.60,495.97 L881.00,495.96 L881.40,495.96 L881.80,495.96 L882.20,495.95 L882.60,495.95 L883.00,495.95 L883.40,495.94 L883.80,495.94 L884.20,495.94 L884.60,495.93 L885.00,495.93 L885.40,495.93 L885.80,495.92 L886.20,495.92 L886.60,495.91 L887.00,495.91 L887.40,495.91 L887.80,495.90 L888.20,495.90 L888.60,495.90 L889.00,495.89 L889.40,495.89 L889.80,495.88 L890.20,495.88 L890.60,495.87 L891.00,495.87 L891.40,495.86 L891.80,495.86 L892.20,495.85 L892.60,495.84 L893.00,495.84 L893.40,495.83 L893.80,495.83 L894.20,495.82 L894.60,495.81 L895.00,495.80 L895.40,495.80 L895.80,495.79 L896.20,495.78 L896.60,495.77 L897.00,495.76 L897.40,495.75 L897.80,495.74 L898.20,495.74 L898.60,495.73 L899.00,495.72 L899.40,495.71 L899.80,495.70 L900.20,495.69 L900.60,495.68 L901.00,495.66 L901.40,495.65 L901.80,495.64 L902.20,495.63 L902.60,495.62 L903.00,495.61 L903.40,495.60 L903.80,495.58 L904.20,495.57 L904.60,495.56 L905.00,495.55 L905.40,495.53 L905.80,495.52 L906.20,495.51 L906.60,495.49 L907.00,495.48 L907.40,495.47 L907.80,495.45 L908.20,495.44 L908.60,495.42 L909.00,495.41 L909.40,495.39 L909.80,495.38 L910.20,495.36 L910.60,495.35 L911.00,495.33 L911.40,495.32 L911.80,495.30 L912.20,495.28 L912.60,495.27 L913.00,495.25 L913.40,495.24 L913.80,495.22 L914.20,495.20 L914.60,495.18 L915.00,495.17 L915.40,495.15 L915.80,495.13 L916.20,495.11 L916.60,495.10 L917.00,495.08 L917.40,495.06 L917.80,495.04 L918.20,495.02 L918.60,495.00 L919.00,494.99 L919.40,494.96 L919.80,494.94 L920.20,494.92 L920.60,494.89 L921.00,494.87 L921.40,494.84 L921.80,494.81 L922.20,494.78 L922.60,494.75 L923.00,494.71 L923.40,494.68 L923.80,494.64 L924.20,494.61 L924.60,494.57 L925.00,494.53 L925.40,494.49 L925.80,494.46 L926.20,494.41 L926.60,494.37 L927.00,494.33 L927.40,494.29 L927.80,494.25 L928.20,494.20 L928.60,494.16 L929.00,494.12 L929.40,494.07 L929.80,494.03 L930.20,493.98 L930.60,493.94 L931.00,493.89 L931.40,493.85 L931.80,493.80 L932.20,493.76 L932.60,493.71 L933.00,493.67 L933.40,493.62 L933.80,493.58 L934.20,493.54 L934.60,493.49 L935.00,493.45 L935.40,493.41 L935.80,493.36 L936.20,493.32 L936.60,493.28 L937.00,493.24 L937.40,493.20 L937.80,493.16 L938.20,493.12 L938.60,493.08 L939.00,493.04 L939.40,493.00 L939.80,492.97 L940.20,492.93 L940.60,492.89 L941.00,492.85 L941.40,492.81 L941.80,492.78 L942.20,492.74 L942.60,492.70 L943.00,492.66 L943.40,492.62 L943.80,492.59 L944.20,492.55 L944.60,492.51 L945.00,492.47 L945.40,492.43 L945.80,492.39 L946.20,492.36 L946.60,492.32 L947.00,492.28 L947.40,492.24 L947.80,492.20 L948.20,492.16 L948.60,492.12 L949.00,492.08 L949.40,492.04 L949.80,492.00 L950.20,491.96 L950.60,491.92 L951.00,491.87 L951.40,491.83 L951.80,491.79 L952.20,491.75 L952.60,491.70 L953.00,491.66 L953.40,491.61 L953.80,491.57 L954.20,491.52 L954.60,491.48 L955.00,491.43 L955.40,491.38 L955.80,491.34 L956.20,491.29 L956.60,491.24 L957.00,491.19 L957.40,491.14 L957.80,491.09 L958.20,491.04 L958.60,490.98 L959.00,490.93 L959.40,490.88 L959.80,490.82 L960.20,490.76 L960.60,490.70 L961.00,490.63 L961.40,490.56 L961.80,490.49 L962.20,490.42 L962.60,490.35 L963.00,490.28 L963.40,490.21 L963.80,490.14 L964.20,490.07 L964.60,490.00 L965.00,489.92 L965.40,489.85 L965.80,489.78 L966.20,489.70 L966.60,489.63 L967.00,489.55 L967.40,489.48 L967.80,489.40 L968.20,489.32 L968.60,489.25 L969.00,489.17 L969.40,489.09 L969.80,489.01 L970.20,488.93 L970.60,488.86 L971.00,488.78 L971.40,488.70 L971.80,488.62 L972.20,488.54 L972.60,488.46 L973.00,488.38 L973.40,488.29 L973.80,488.21 L974.20,488.13 L974.60,488.05 L975.00,487.97 L975.40,487.89 L975.80,487.81 L976.20,487.72 L976.60,487.64 L977.00,487.56 L977.40,487.48 L977.80,487.40 L978.20,487.32 L978.60,487.23 L979.00,487.15 L979.40,487.07 L979.80,486.98 L980.20,486.90 L980.60,486.82 L981.00,486.73 L981.40,486.64 L981.80,486.56 L982.20,486.47 L982.60,486.38 L983.00,486.29 L983.40,486.20 L983.80,486.11 L984.20,486.02 L984.60,485.92 L985.00,485.83 L985.40,485.73 L985.80,485.62 L986.20,485.52 L986.60,485.41 L987.00,485.31 L987.40,485.20 L987.80,485.09 L988.20,484.98 L988.60,484.86 L989.00,484.75 L989.40,484.63 L989.80,484.51 L990.20,484.39 L990.60,484.26 L991.00,484.14 L991.40,484.01 L991.80,483.87 L992.20,483.74 L992.60,483.60 L993.00,483.47 L993.40,483.32 L993.80,483.18 L994.20,483.03 L994.60,482.88 L995.00,482.73 L995.40,482.57 L995.80,482.41 L996.20,482.25 L996.60,482.08 L997.00,481.91 L997.40,481.73 L997.80,481.56 L998.20,481.38 L998.60,481.19 L999.00,481.00 L999.40,480.81 L999.80,480.61 L1000.20,480.41 L1000.60,480.20 L1001.00,479.99 L1001.40,479.78 L1001.80,479.55 L1002.20,479.31 L1002.60,479.06 L1003.00,478.80 L1003.40,478.54 L1003.80,478.26 L1004.20,477.98 L1004.60,477.69 L1005.00,477.38 L1005.40,477.09 L1005.80,476.78 L1006.20,476.47 L1006.60,476.15 L1007.00,475.82 L1007.40,475.49 L1007.80,475.15 L1008.20,474.80 L1008.60,474.45 L1009.00,474.08 L1009.40,473.69 L1009.80,473.29 L1010.20,472.87 L1010.60,472.44 L1011.00,471.99 L1011.40,471.53 L1011.80,471.06 L1012.20,470.58 L1012.60,470.09 L1013.00,469.60 L1013.40,469.09 L1013.80,468.58 L1014.20,468.06 L1014.60,467.51 L1015.00,466.93 L1015.40,466.33 L1015.80,465.70 L1016.20,465.07 L1016.60,464.42 L1017.00,463.78 L1017.40,463.13 L1017.80,462.49 L1018.20,461.87 L1018.60,461.26 L1019.00,460.68 L1019.40,460.13 L1019.80,459.60 L1020.20,459.03 L1020.60,458.42 L1021.00,457.82 L1021.40,457.25 L1021.80,456.75 L1022.20,456.35 L1022.60,456.07 L1023.00,455.96 L1023.40,456.11 L1023.80,456.50 L1024.20,457.07 L1024.60,457.77 L1025.00,458.55 L1025.40,459.35 L1025.80,460.11 L1026.20,460.77 L1026.60,461.45 L1027.00,462.23 L1027.40,463.03 L1027.80,463.78 L1028.20,464.41 L1028.60,464.84 L1029.00,465.01 L1029.40,464.92 L1029.80,464.66 L1030.20,464.28 L1030.60,463.83 L1031.00,463.34 L1031.40,462.87 L1031.80,462.47 L1032.20,462.18 L1032.60,462.04 L1033.00,462.13 L1033.40,462.48 L1033.80,463.04 L1034.20,463.73 L1034.60,464.49 L1035.00,465.27 L1035.40,465.99 L1035.80,466.67 L1036.20,467.48 L1036.60,468.37 L1037.00,469.30 L1037.40,470.21 L1037.80,471.06 L1038.20,471.78 L1038.60,472.35 L1039.00,472.69 L1039.40,472.78 L1039.80,472.67 L1040.20,472.40 L1040.60,472.00 L1041.00,471.50 L1041.40,470.91 L1041.80,470.27 L1042.20,469.58 L1042.60,468.87 L1043.00,468.16 L1043.40,467.35 L1043.80,466.35 L1044.20,465.21 L1044.60,463.94 L1045.00,462.58 L1045.40,461.16 L1045.80,459.71 L1046.20,458.27 L1046.60,456.87 L1047.00,455.53 L1047.40,454.30 L1047.80,453.19 L1048.20,452.11 L1048.60,451.01 L1049.00,449.90 L1049.40,448.82 L1049.80,447.76 L1050.20,446.74 L1050.60,445.79 L1051.00,444.92 L1051.40,444.14 L1051.80,443.46 L1052.20,442.92 L1052.60,442.47 L1053.00,442.04 L1053.40,441.62 L1053.80,441.23 L1054.20,440.87 L1054.60,440.56 L1055.00,440.29 L1055.40,440.09 L1055.80,439.95 L1056.20,439.95 L1056.60,440.08 L1057.00,440.30 L1057.40,440.58 L1057.80,440.92 L1058.20,441.32 L1058.60,441.75 L1059.00,442.21 L1059.40,442.69 L1059.80,443.18 L1060.20,443.66 L1060.60,444.14 L1061.00,444.62 L1061.40,445.14 L1061.80,445.70 L1062.20,446.29 L1062.60,446.91 L1063.00,447.55 L1063.40,448.22 L1063.80,448.91 L1064.20,449.62 L1064.60,450.35 L1065.00,451.08 L1065.40,451.82 L1065.80,452.57 L1066.20,453.31 L1066.60,454.06 L1067.00,454.80 L1067.40,455.53 L1067.80,456.25 L1068.20,456.97 L1068.60,457.69 L1069.00,458.44 L1069.40,459.20 L1069.80,459.97 L1070.20,460.74 L1070.60,461.53 L1071.00,462.31 L1071.40,463.10 L1071.80,463.88 L1072.20,464.66 L1072.60,465.43 L1073.00,466.19 L1073.40,466.93 L1073.80,467.66 L1074.20,468.37 L1074.60,469.05 L1075.00,469.71 L1075.40,470.31 L1075.80,470.90 L1076.20,471.50 L1076.60,472.11 L1077.00,472.71 L1077.40,473.31 L1077.80,473.90 L1078.20,474.48 L1078.60,475.04 L1079.00,475.58 L1079.40,476.10 L1079.80,476.58 L1080.20,477.03 L1080.60,477.44 L1081.00,477.82 L1081.40,478.14 L1081.80,478.41 L1082.20,478.66 L1082.60,478.91 L1083.00,479.14 L1083.40,479.37 L1083.80,479.59 L1084.20,479.79 L1084.60,479.97 L1085.00,480.12 L1085.40,480.25 L1085.80,480.34 L1086.20,480.40 L1086.60,480.42 L1087.00,480.38 L1087.40,480.26 L1087.80,480.09 L1088.20,479.87 L1088.60,479.60 L1089.00,479.30 L1089.40,478.97 L1089.80,478.61 L1090.20,478.22 L1090.60,477.82 L1091.00,477.40 L1091.40,476.96 L1091.80,476.48 L1092.20,475.85 L1092.60,475.10 L1093.00,474.24 L1093.40,473.29 L1093.80,472.28 L1094.20,471.22 L1094.60,470.15 L1095.00,469.08 L1095.40,468.03 L1095.80,467.02 L1096.20,466.01 L1096.60,464.93 L1097.00,463.81 L1097.40,462.68 L1097.80,461.55 L1098.20,460.46 L1098.60,459.42 L1099.00,458.46 L1099.40,457.60 L1099.80,456.80 L1100.20,455.97 L1100.60,455.15 L1101.00,454.42 L1101.40,453.82 L1101.80,453.43 L1102.20,453.46 L1102.60,454.18 L1103.00,455.44 L1103.40,457.05 L1103.80,458.81 L1104.20,460.97 L1104.60,464.12 L1105.00,467.71 L1105.40,471.16 L1105.80,473.89 L1106.20,476.05 L1106.60,478.13 L1107.00,480.07 L1107.40,481.81 L1107.80,483.31 L1108.20,484.50 L1108.60,485.35 L1109.00,485.97 L1109.40,486.52 L1109.80,487.01 L1110.20,487.41 L1110.60,487.71 L1111.00,487.99 L1111.40,488.25 L1111.80,488.49 L1112.20,488.72 L1112.60,488.96 L1113.00,489.20 L1113.40,489.47 L1113.80,489.74 L1114.20,490.01 L1114.60,490.27 L1115.00,490.53 L1115.40,490.79 L1115.80,491.05 L1116.20,491.30 L1116.60,491.54 L1117.00,491.78 L1117.40,492.01 L1117.80,492.23 L1118.20,492.44 L1118.60,492.65 L1119.00,492.84 L1119.40,493.03 L1119.80,493.20 L1120.20,493.37 L1120.60,493.54 L1121.00,493.70 L1121.40,493.87 L1121.80,494.03 L1122.20,494.19 L1122.60,494.35 L1123.00,494.50 L1123.40,494.65 L1123.80,494.79 L1124.20,494.92 L1124.60,495.05 L1125.00,495.16 L1125.40,495.27 L1125.80,495.36 L1126.20,495.44 L1126.60,495.51 L1127.00,495.57 L1127.40,495.61 L1127.80,495.64 L1128.20,495.68 L1128.60,495.71 L1129.00,495.75 L1129.40,495.78 L1129.80,495.81 L1130.20,495.83 L1130.60,495.86 L1131.00,495.88 L1131.40,495.90 L1131.80,495.93 L1132.20,495.94 L1132.60,495.96 L1133.00,495.97 L1133.40,495.98 L1133.80,495.99 L1134.20,496.00 L1134.60,496.00 L1135.00,496.00 L1135.40,495.99 L1135.80,495.96 L1136.20,495.92 L1136.60,495.87 L1137.00,495.81 L1137.40,495.75 L1137.80,495.67 L1138.20,495.58 L1138.60,495.49 L1139.00,495.39 L1139.40,495.29 L1139.80,495.17 L1140.20,495.06 L1140.60,494.93 L1141.00,494.77 L1141.40,494.57 L1141.80,494.33 L1142.20,494.05 L1142.60,493.74 L1143.00,493.40 L1143.40,492.97 L1143.80,492.51 L1144.20,492.02 L1144.60,491.51 L1145.00,490.97 L1145.40,490.32 L1145.80,489.48 L1146.20,488.51 L1146.60,487.46 L1147.00,486.39 L1147.40,485.36 L1147.80,484.43 L1148.20,483.65 L1148.60,482.93 L1149.00,482.20 L1149.40,481.50 L1149.80,480.88 L1150.20,480.41 L1150.60,480.13 L1151.00,480.30 L1151.40,480.93 L1151.80,481.85 L1152.20,482.95 L1152.60,484.13 L1153.00,485.27 L1153.40,486.41 L1153.80,487.79 L1154.20,489.28 L1154.60,490.77 L1155.00,492.11 L1155.40,493.20 L1155.80,493.91 L1156.20,494.48 L1156.60,495.02 L1157.00,495.52 L1157.40,495.98 L1157.80,496.39 L1158.20,496.74 L1158.60,497.01 L1159.00,497.22 L1159.40,497.38 L1159.80,497.48 L1160.20,497.51 L1160.60,497.54 L1161.00,497.56 L1161.40,497.58 L1161.80,497.60 L1162.20,497.62 L1162.60,497.63 L1163.00,497.64 L1163.40,497.65 L1163.80,497.66 L1164.20,497.67 L1164.60,497.67 L1165.00,497.68 L1165.40,497.69 L1165.80,497.70 L1166.20,497.71 L1166.60,497.72 L1167.00,497.73 L1167.40,497.75 L1167.80,497.77 L1168.20,497.79 L1168.60,497.81 L1169.00,497.85 L1169.40,497.91 L1169.80,497.98 L1170.20,498.05 L1170.60,498.14 L1171.00,498.24 L1171.40,498.34 L1171.80,498.44 L1172.20,498.54 L1172.60,498.65 L1173.00,498.75 L1173.40,498.85 L1173.80,498.95 L1174.20,499.04 L1174.60,499.12 L1175.00,499.19 L1175.40,499.25 L1175.80,499.29 L1176.20,499.32 L1176.60,499.36 L1177.00,499.39 L1177.40,499.41 L1177.80,499.44 L1178.20,499.47 L1178.60,499.50 L1179.00,499.52 L1179.40,499.55 L1179.80,499.57 L1180.20,499.59 L1180.60,499.61 L1181.00,499.63 L1181.40,499.65 L1181.80,499.67 L1182.20,499.69 L1182.60,499.71 L1183.00,499.73 L1183.40,499.75 L1183.80,499.76 L1184.20,499.78 L1184.60,499.79 L1185.00,499.81 L1185.40,499.82 L1185.80,499.84 L1186.20,499.85 L1186.60,499.87 L1187.00,499.88 L1187.40,499.89 L1187.80,499.91 L1188.20,499.92 L1188.60,499.93 L1189.00,499.94 L1189.40,499.96 L1189.80,499.97 L1190.20,499.98 L1190.60,499.99 L1191.00,500.01 L1191.40,500.02 L1191.80,500.03 L1192.20,500.04 L1192.60,500.05 L1193.00,500.07 L1193.40,500.08 L1193.80,500.09 L1194.20,500.10 L1194.60,500.11 L1195.00,500.12 L1195.40,500.14 L1195.80,500.15 L1196.20,500.16 L1196.60,500.17 L1197.00,500.18 L1197.40,500.19 L1197.80,500.20 L1198.20,500.21 L1198.60,500.22 L1199.00,500.23 L1199.40,500.24 L1199.80,500.25 L1200.20,500.26 L1200.60,500.27 L1201.00,500.28 L1201.40,500.29 L1201.80,500.30 L1202.20,500.31 L1202.60,500.32 L1203.00,500.33 L1203.40,500.34 L1203.80,500.35 L1204.20,500.36 L1204.60,500.37 L1205.00,500.38 L1205.40,500.38 L1205.80,500.39 L1206.20,500.40 L1206.60,500.41 L1207.00,500.42 L1207.40,500.43 L1207.80,500.44 L1208.20,500.44 L1208.60,500.45 L1209.00,500.46 L1209.40,500.47 L1209.80,500.48 L1210.20,500.49 L1210.60,500.49 L1211.00,500.50 L1211.40,500.51 L1211.80,500.52 L1212.20,500.53 L1212.60,500.53 L1213.00,500.54 L1213.40,500.55 L1213.80,500.56 L1214.20,500.56 L1214.60,500.57 L1215.00,500.58 L1215.40,500.59 L1215.80,500.59 L1216.20,500.60 L1216.60,500.61 L1217.00,500.61 L1217.40,500.62 L1217.80,500.63 L1218.20,500.64 L1218.60,500.64 L1219.00,500.65 L1219.40,500.66 L1219.80,500.66 L1220.20,500.67 L1220.60,500.68 L1221.00,500.68 L1221.40,500.69 L1221.80,500.70 L1222.20,500.70 L1222.60,500.71 L1223.00,500.72 L1223.40,500.72 L1223.80,500.73 L1224.20,500.74 L1224.60,500.74 L1225.00,500.75 L1225.40,500.76 L1225.80,500.76 L1226.20,500.77 L1226.60,500.77 L1227.00,500.78 L1227.40,500.79 L1227.80,500.79 L1228.20,500.80 L1228.60,500.81 L1229.00,500.81 L1229.40,500.82 L1229.80,500.83 L1230.20,500.83 L1230.60,500.84 L1231.00,500.84 L1231.40,500.85 L1231.80,500.86 L1232.20,500.86 L1232.60,500.87 L1233.00,500.87 L1233.40,500.88 L1233.80,500.89 L1234.20,500.89 L1234.60,500.90 L1235.00,500.90 L1235.40,500.91 L1235.80,500.92 L1236.20,500.92 L1236.60,500.93 L1237.00,500.93 L1237.40,500.94 L1237.80,500.95 L1238.20,500.95 L1238.60,500.96 L1239.00,500.96 L1239.40,500.97 L1239.80,500.97 L1240.20,500.98 L1240.60,500.99 L1241.00,500.99 L1241.40,501.00 L1241.80,501.00 L1242.20,501.01 L1242.60,501.01 L1243.00,501.02 L1243.40,501.02 L1243.80,501.03 L1244.20,501.03 L1244.60,501.04 L1245.00,501.05 L1245.40,501.05 L1245.80,501.06 L1246.20,501.06 L1246.60,501.07 L1247.00,501.07 L1247.40,501.08 L1247.80,501.08 L1248.20,501.09 L1248.60,501.09 L1249.00,501.09 L1249.40,501.10 L1249.80,501.10 L1250.20,501.11 L1250.60,501.11 L1251.00,501.12 L1251.40,501.12 L1251.80,501.13 L1252.20,501.13 L1252.60,501.13 L1253.00,501.14 L1253.40,501.14 L1253.80,501.15 L1254.20,501.15 L1254.60,501.15 L1255.00,501.16 L1255.40,501.16 L1255.80,501.17 L1256.20,501.17 L1256.60,501.17 L1257.00,501.18 L1257.40,501.18 L1257.80,501.18 L1258.20,501.19 L1258.60,501.19 L1259.00,501.19 L1259.40,501.20 L1259.80,501.20 L1260.20,501.20 L1260.60,501.20 L1261.00,501.21 L1261.40,501.21 L1261.80,501.21 L1262.20,501.22 L1262.60,501.22 L1263.00,501.22 L1263.40,501.22 L1263.80,501.23 L1264.20,501.23 L1264.60,501.23 L1265.00,501.23 L1265.40,501.24 L1265.80,501.24 L1266.20,501.24 L1266.60,501.25 L1267.00,501.25 L1267.40,501.25 L1267.80,501.25 L1268.20,501.26 L1268.60,501.26 L1269.00,501.26 L1269.40,501.26 L1269.80,501.27 L1270.20,501.27 L1270.60,501.27 L1271.00,501.27 L1271.40,501.27 L1271.80,501.28 L1272.20,501.28 L1272.60,501.28 L1273.00,501.28 L1273.40,501.29 L1273.80,501.29 L1274.20,501.29 L1274.60,501.29 L1275.00,501.29 L1275.40,501.30 L1275.80,501.30 L1276.20,501.30 L1276.60,501.30 L1277.00,501.31 L1277.40,501.31 L1277.80,501.31 L1278.20,501.31 L1278.60,501.31 L1279.00,501.32 L1279.40,501.32 L1279.80,501.32 L1280.20,501.32 L1280.60,501.32 L1281.00,501.33 L1281.40,501.33 L1281.80,501.33 L1282.20,501.33 L1282.60,501.33 L1283.00,501.34 L1283.40,501.34 L1283.80,501.34 L1284.20,501.34 L1284.60,501.34 L1285.00,501.34 L1285.40,501.35 L1285.80,501.35 L1286.20,501.35 L1286.60,501.35 L1287.00,501.35 L1287.40,501.35 L1287.80,501.36 L1288.20,501.36 L1288.60,501.36 L1289.00,501.36 L1289.40,501.36 L1289.80,501.36 L1290.20,501.37 L1290.60,501.37 L1291.00,501.37 L1291.40,501.37 L1291.80,501.37 L1292.20,501.37 L1292.60,501.37 L1293.00,501.38 L1293.40,501.38 L1293.80,501.38 L1294.20,501.38 L1294.60,501.38 L1295.00,501.38 L1295.40,501.38 L1295.80,501.39 L1296.20,501.39 L1296.60,501.39 L1297.00,501.39 L1297.40,501.39 L1297.80,501.39 L1298.20,501.39 L1298.60,501.40 L1299.00,501.40 L1299.40,501.40 L1299.80,501.40 L1300.20,501.40 L1300.60,501.40 L1301.00,501.40 L1301.40,501.40 L1301.80,501.41 L1302.20,501.41 L1302.60,501.41 L1303.00,501.41 L1303.40,501.41 L1303.80,501.41 L1304.20,501.41 L1304.60,501.41 L1305.00,501.42 L1305.40,501.42 L1305.80,501.42 L1306.20,501.42 L1306.60,501.42 L1307.00,501.42 L1307.40,501.42 L1307.80,501.42 L1308.20,501.42 L1308.60,501.43 L1309.00,501.43 L1309.40,501.43 L1309.80,501.43 L1310.20,501.43 L1310.60,501.43 L1311.00,501.43 L1311.40,501.43 L1311.80,501.44 L1312.20,501.44 L1312.60,501.44 L1313.00,501.44 L1313.40,501.44 L1313.80,501.44 L1314.20,501.44 L1314.60,501.44 L1315.00,501.44 L1315.40,501.45 L1315.80,501.45 L1316.20,501.45 L1316.60,501.45 L1317.00,501.45 L1317.40,501.45 L1317.80,501.45 L1318.20,501.45 L1318.60,501.45 L1319.00,501.45 L1319.40,501.46 L1319.80,501.46 L1320.20,501.46 L1320.60,501.46 L1321.00,501.46 L1321.40,501.46 L1321.80,501.46 L1322.20,501.46 L1322.60,501.46 L1323.00,501.46 L1323.40,501.47 L1323.80,501.47 L1324.20,501.47 L1324.60,501.47 L1325.00,501.47 L1325.40,501.47 L1325.80,501.47 L1326.20,501.47 L1326.60,501.47 L1327.00,501.47 L1327.40,501.47 L1327.80,501.48 L1328.20,501.48 L1328.60,501.48 L1329.00,501.48 L1329.40,501.48 L1329.80,501.48 L1330.20,501.48 L1330.60,501.48 L1331.00,501.48 L1331.40,501.48 L1331.80,501.48 L1332.20,501.48 L1332.60,501.48 L1333.00,501.49 L1333.40,501.49 L1333.80,501.49 L1334.20,501.49 L1334.60,501.49 L1335.00,501.49 L1335.40,501.49 L1335.80,501.49 L1336.20,501.49 L1336.60,501.49 L1337.00,501.49 L1337.40,501.49 L1337.80,501.49 L1338.20,501.49 L1338.60,501.49 L1339.00,501.49 L1339.40,501.49 L1339.80,501.50 L1340.20,501.50 L1340.60,501.50 L1341.00,501.50 L1341.40,501.50 L1341.80,501.50 L1342.20,501.50 L1342.60,501.50 L1343.00,501.50 L1343.40,501.50 L1343.80,501.50 L1344.20,501.50 L1344.50,501.50" fill="none" stroke="#E84848" stroke-width="1.9" stroke-linejoin="round" stroke-linecap="butt"/>
<path d="M155.80,314.65 L156.20,316.42 L156.60,318.16 L157.00,319.87 L157.40,321.53 L157.80,323.15 L158.20,324.72 L158.60,326.23 L159.00,327.69 L159.40,329.08 L159.80,330.39 L160.20,331.64 L160.60,332.82 L161.00,333.97 L161.40,335.09 L161.80,336.17 L162.20,337.23 L162.60,338.25 L163.00,339.24 L163.40,340.20 L163.80,341.13 L164.20,342.02 L164.60,342.88 L165.00,343.70 L165.40,344.51 L165.80,345.29 L166.20,346.02 L166.60,346.73 L167.00,347.43 L167.40,348.11 L167.80,348.77 L168.20,349.40 L168.60,350.01 L169.00,350.59 L169.40,351.14 L169.80,351.65 L170.20,352.12 L170.60,352.55 L171.00,352.94 L171.40,353.30 L171.80,353.68 L172.20,354.05 L172.60,354.40 L173.00,354.72 L173.40,355.00 L173.80,355.22 L174.20,355.39 L174.60,355.47 L175.00,355.48 L175.40,355.42 L175.80,355.32 L176.20,355.17 L176.60,354.99 L177.00,354.78 L177.40,354.54 L177.80,354.28 L178.20,354.01 L178.60,353.73 L179.00,353.45 L179.40,353.13 L179.80,352.75 L180.20,352.31 L180.60,351.83 L181.00,351.32 L181.40,350.78 L181.80,350.23 L182.20,349.71 L182.60,349.22 L183.00,348.77 L183.40,348.33 L183.80,347.90 L184.20,347.46 L184.60,347.00 L185.00,346.50 L185.40,345.94 L185.80,345.31 L186.20,344.59 L186.60,343.78 L187.00,342.84 L187.40,341.44 L187.80,339.34 L188.20,336.71 L188.60,333.71 L189.00,330.51 L189.40,327.25 L189.80,324.12 L190.20,321.23 L190.60,318.74 L191.00,316.49 L191.40,314.27 L191.80,312.24 L192.20,310.56 L192.60,309.38 L193.00,308.38 L193.40,307.49 L193.80,306.83 L194.20,306.51 L194.60,306.62 L195.00,307.11 L195.40,307.85 L195.80,308.70 L196.20,309.59 L196.60,310.74 L197.00,312.11 L197.40,313.58 L197.80,315.06 L198.20,316.61 L198.60,318.26 L199.00,319.98 L199.40,321.77 L199.80,323.61 L200.20,325.47 L200.60,327.35 L201.00,329.22 L201.40,331.07 L201.80,332.89 L202.20,334.65 L202.60,336.35 L203.00,337.97 L203.40,339.62 L203.80,341.29 L204.20,342.93 L204.60,344.51 L205.00,346.00 L205.40,347.37 L205.80,348.57 L206.20,349.61 L206.60,350.67 L207.00,351.71 L207.40,352.69 L207.80,353.53 L208.20,354.17 L208.60,354.57 L209.00,354.66 L209.40,354.55 L209.80,354.30 L210.20,353.97 L210.60,353.57 L211.00,353.15 L211.40,352.59 L211.80,351.82 L212.20,350.95 L212.60,350.09 L213.00,349.33 L213.40,348.58 L213.80,347.81 L214.20,347.01 L214.60,346.21 L215.00,345.42 L215.40,344.66 L215.80,343.93 L216.20,343.26 L216.60,342.66 L217.00,342.14 L217.40,341.72 L217.80,341.42 L218.20,341.22 L218.60,341.05 L219.00,340.90 L219.40,340.77 L219.80,340.67 L220.20,340.61 L220.60,340.60 L221.00,340.63 L221.40,340.69 L221.80,340.76 L222.20,340.83 L222.60,340.88 L223.00,340.90 L223.40,340.76 L223.80,340.36 L224.20,339.73 L224.60,338.92 L225.00,337.95 L225.40,336.95 L225.80,335.88 L226.20,334.68 L226.60,332.87 L227.00,330.47 L227.40,327.61 L227.80,324.41 L228.20,320.99 L228.60,317.48 L229.00,314.00 L229.40,310.66 L229.80,307.60 L230.20,304.91 L230.60,302.28 L231.00,299.59 L231.40,296.91 L231.80,294.27 L232.20,291.67 L232.60,289.17 L233.00,286.86 L233.40,284.80 L233.80,283.03 L234.20,281.59 L234.60,280.34 L235.00,279.11 L235.40,277.95 L235.80,276.92 L236.20,276.07 L236.60,275.45 L237.00,275.11 L237.40,275.10 L237.80,275.34 L238.20,275.80 L238.60,276.43 L239.00,277.20 L239.40,278.07 L239.80,279.02 L240.20,280.00 L240.60,280.98 L241.00,281.93 L241.40,282.82 L241.80,283.77 L242.20,284.83 L242.60,285.95 L243.00,287.12 L243.40,288.28 L243.80,289.42 L244.20,290.49 L244.60,291.47 L245.00,292.31 L245.40,293.00 L245.80,293.64 L246.20,294.29 L246.60,294.92 L247.00,295.52 L247.40,296.08 L247.80,296.58 L248.20,297.00 L248.60,297.33 L249.00,297.55 L249.40,297.65 L249.80,297.61 L250.20,297.41 L250.60,297.06 L251.00,296.59 L251.40,296.00 L251.80,295.31 L252.20,294.53 L252.60,293.68 L253.00,292.78 L253.40,291.83 L253.80,290.62 L254.20,288.97 L254.60,286.95 L255.00,284.65 L255.39,282.14 L255.78,279.51 L256.17,276.84 L256.56,274.12 L256.95,271.21 L257.33,268.11 L257.72,264.83 L258.11,261.37 L258.50,257.74 L258.89,253.95 L259.28,250.00 L259.67,245.91 L260.06,241.61 L260.45,237.03 L260.84,231.88 L261.23,226.28 L261.61,220.38 L262.00,214.36 L262.39,208.40 L262.78,202.67 L263.17,197.33 L263.56,192.39 L263.95,187.65 L264.34,183.03 L264.73,178.48 L265.12,173.92 L265.51,169.42 L265.90,164.98 L266.30,160.55 L266.70,156.11 L267.10,151.63 L267.50,147.11 L267.90,142.60 L268.30,138.11 L268.70,133.69 L269.10,129.30 L269.50,124.95 L269.90,120.72 L270.30,116.58 L270.70,112.45 L271.10,109.79 L271.50,107.77 L271.90,107.39 L272.30,109.58 L272.70,113.66 L273.10,120.67 L273.50,127.16 L273.91,133.73 L274.32,140.26 L274.74,146.77 L275.15,153.51 L275.57,160.79 L275.98,168.52 L276.40,176.05 L276.81,183.10 L277.23,189.57 L277.64,195.31 L278.06,201.04 L278.47,207.57 L278.89,215.70 L279.30,225.00 L279.72,234.34 L280.13,242.81 L280.55,250.90 L280.96,258.71 L281.38,266.22 L281.79,273.31 L282.20,279.81 L282.60,286.16 L283.00,292.91 L283.40,301.02 L283.80,310.34 L284.20,318.07 L284.60,322.59 L285.00,325.90 L285.40,328.55 L285.80,331.17 L286.20,334.30 L286.60,338.13 L287.00,342.39 L287.40,346.93 L287.80,351.60 L288.20,356.24 L288.60,360.69 L289.00,364.81 L289.40,368.49 L289.80,371.94 L290.20,375.23 L290.60,378.39 L291.00,381.45 L291.40,384.43 L291.80,387.36 L292.20,390.27 L292.60,393.22 L293.00,396.23 L293.40,399.25 L293.80,402.18 L294.20,404.97 L294.60,407.54 L295.00,409.80 L295.40,411.74 L295.80,413.58 L296.20,415.34 L296.60,417.00 L297.00,418.54 L297.40,419.93 L297.80,421.15 L298.20,422.18 L298.60,423.00 L299.00,423.68 L299.40,424.32 L299.80,424.92 L300.20,425.47 L300.60,425.98 L301.00,426.45 L301.40,426.88 L301.80,427.27 L302.20,427.63 L302.60,427.95 L303.00,428.23 L303.40,428.49 L303.80,428.71 L304.20,428.93 L304.60,429.14 L305.00,429.35 L305.40,429.55 L305.80,429.74 L306.20,429.91 L306.60,430.06 L307.00,430.20 L307.40,430.31 L307.80,430.40 L308.20,430.46 L308.60,430.50 L309.00,430.48 L309.40,430.37 L309.80,430.15 L310.20,429.86 L310.60,429.50 L311.00,429.11 L311.40,428.69 L311.80,428.28 L312.20,427.88 L312.60,427.52 L313.00,427.22 L313.40,427.00 L313.80,426.82 L314.20,426.64 L314.60,426.46 L315.00,426.30 L315.40,426.16 L315.80,426.04 L316.20,425.95 L316.60,425.91 L317.00,425.93 L317.40,426.12 L317.80,426.49 L318.20,426.99 L318.60,427.59 L319.00,428.28 L319.40,429.01 L319.80,429.75 L320.20,430.48 L320.60,431.17 L321.00,431.88 L321.40,432.63 L321.80,433.43 L322.20,434.27 L322.60,435.14 L323.00,436.04 L323.40,436.97 L323.80,437.91 L324.20,438.87 L324.60,439.85 L325.00,440.88 L325.40,441.99 L325.80,443.15 L326.20,444.34 L326.60,445.54 L327.00,446.73 L327.40,447.90 L327.80,449.02 L328.20,450.07 L328.60,451.04 L329.00,451.98 L329.40,452.91 L329.80,453.83 L330.20,454.72 L330.60,455.58 L331.00,456.39 L331.40,457.15 L331.80,457.85 L332.20,458.48 L332.60,459.03 L333.00,459.55 L333.40,460.06 L333.80,460.54 L334.20,461.00 L334.60,461.42 L335.00,461.81 L335.40,462.16 L335.80,462.46 L336.20,462.71 L336.60,462.90 L337.00,463.06 L337.40,463.21 L337.80,463.35 L338.20,463.48 L338.60,463.60 L339.00,463.70 L339.40,463.78 L339.80,463.85 L340.20,463.89 L340.60,463.90 L341.00,463.86 L341.40,463.73 L341.80,463.53 L342.20,463.27 L342.60,462.96 L343.00,462.60 L343.40,462.22 L343.80,461.82 L344.20,461.41 L344.60,461.00 L345.00,460.54 L345.40,459.93 L345.80,459.21 L346.20,458.45 L346.60,457.73 L347.00,457.09 L347.40,456.62 L347.80,456.35 L348.20,456.17 L348.60,456.01 L349.00,455.89 L349.40,455.82 L349.80,455.81 L350.20,456.01 L350.60,456.40 L351.00,456.91 L351.40,457.47 L351.80,457.98 L352.20,458.37 L352.60,458.60 L353.00,458.79 L353.40,458.97 L353.80,459.12 L354.20,459.23 L354.60,459.29 L355.00,459.27 L355.40,459.07 L355.80,458.71 L356.20,458.23 L356.60,457.66 L357.00,457.04 L357.40,456.41 L357.80,455.80 L358.20,455.18 L358.60,454.48 L359.00,453.71 L359.40,452.90 L359.80,452.06 L360.20,451.20 L360.60,450.34 L361.00,449.49 L361.40,448.67 L361.80,447.89 L362.20,447.15 L362.60,446.45 L363.00,445.76 L363.40,445.08 L363.80,444.41 L364.20,443.74 L364.60,443.07 L365.00,442.39 L365.40,441.69 L365.80,440.97 L366.20,440.23 L366.60,439.49 L367.00,438.76 L367.40,438.03 L367.80,437.28 L368.20,436.51 L368.60,435.70 L369.00,434.86 L369.40,433.96 L369.80,433.00 L370.20,431.98 L370.60,430.89 L371.00,429.72 L371.40,428.47 L371.80,427.12 L372.20,425.67 L372.60,424.10 L373.00,422.40 L373.40,420.46 L373.80,418.22 L374.20,415.75 L374.60,413.11 L375.00,410.37 L375.40,407.60 L375.80,404.70 L376.20,401.59 L376.60,398.34 L377.00,395.06 L377.40,391.83 L377.80,388.74 L378.20,385.74 L378.60,382.60 L379.00,379.48 L379.40,376.51 L379.80,373.86 L380.20,371.67 L380.60,370.04 L381.00,368.68 L381.40,367.50 L381.80,366.45 L382.20,365.48 L382.60,364.57 L383.00,363.65 L383.40,362.70 L383.80,361.77 L384.20,360.92 L384.60,360.14 L385.00,359.38 L385.40,358.63 L385.80,357.84 L386.20,357.00 L386.60,356.07 L387.00,355.02 L387.40,353.82 L387.80,352.40 L388.20,350.64 L388.60,348.58 L389.00,346.26 L389.40,343.75 L389.80,341.08 L390.20,338.16 L390.60,334.73 L391.00,330.99 L391.40,327.15 L391.80,323.42 L392.20,319.73 L392.60,315.78 L393.00,311.26 L393.40,305.75 L393.80,299.07 L394.20,291.56 L394.60,283.20 L395.00,273.50 L395.40,262.97 L395.80,252.46 L396.20,242.68 L396.60,234.01 L397.00,225.91 L397.40,218.15 L397.80,210.50 L398.20,202.76 L398.60,194.73 L399.00,186.53 L399.40,178.29 L399.80,170.10 L400.20,162.07 L400.60,154.19 L401.00,146.43 L401.40,138.91 L401.80,131.62 L402.20,124.43 L402.60,117.63 L403.00,111.46 L403.40,105.69 L403.80,100.39 L404.20,95.87 L404.60,91.95 L405.00,88.51 L405.40,85.92 L405.80,83.89 L406.20,82.58 L406.60,82.60 L407.00,83.99 L407.40,86.17 L407.80,89.01 L408.20,93.16 L408.60,97.95 L409.00,103.71 L409.40,110.31 L409.80,117.48 L410.20,125.70 L410.60,134.05 L411.00,141.51 L411.40,148.38 L411.80,154.97 L412.20,161.50 L412.60,168.10 L413.00,174.72 L413.40,181.29 L413.80,187.77 L414.20,194.11 L414.60,200.25 L415.00,206.31 L415.40,212.25 L415.80,218.13 L416.20,223.86 L416.60,229.37 L417.00,234.59 L417.40,239.44 L417.80,243.86 L418.20,247.96 L418.60,251.82 L419.00,255.49 L419.40,259.00 L419.80,262.43 L420.20,265.80 L420.60,269.18 L421.00,272.61 L421.40,276.06 L421.80,279.45 L422.20,282.73 L422.60,285.83 L423.00,288.70 L423.40,291.27 L423.80,293.58 L424.20,295.82 L424.60,297.97 L425.00,300.02 L425.40,302.06 L425.80,303.96 L426.20,305.70 L426.60,307.28 L427.00,308.65 L427.40,309.83 L427.80,310.91 L428.20,311.94 L428.60,312.92 L429.00,313.85 L429.40,314.73 L429.80,315.57 L430.20,316.35 L430.60,317.07 L431.00,317.75 L431.40,318.38 L431.80,318.95 L432.20,319.47 L432.60,319.95 L433.00,320.41 L433.40,320.87 L433.80,321.32 L434.20,321.76 L434.60,322.18 L435.00,322.59 L435.40,322.88 L435.80,323.14 L436.20,323.39 L436.60,323.61 L437.00,323.80 L437.40,323.97 L437.80,324.11 L438.20,324.21 L438.60,324.28 L439.00,324.32 L439.40,324.32 L439.80,324.30 L440.20,324.23 L440.60,324.11 L441.00,323.97 L441.40,323.81 L441.80,323.65 L442.20,323.49 L442.60,323.32 L443.00,323.15 L443.40,322.99 L443.80,322.84 L444.20,322.69 L444.60,322.57 L445.00,322.45 L445.40,322.31 L445.80,322.17 L446.20,322.03 L446.60,321.89 L447.00,321.75 L447.40,321.62 L447.80,321.50 L448.20,321.40 L448.60,321.31 L449.00,321.26 L449.40,321.22 L449.80,321.24 L450.20,321.34 L450.60,321.51 L451.00,321.81 L451.40,322.20 L451.80,322.68 L452.20,323.21 L452.60,323.78 L453.00,324.37 L453.40,325.02 L453.80,325.85 L454.20,326.86 L454.60,328.01 L455.00,329.27 L455.40,330.63 L455.80,332.04 L456.20,333.49 L456.60,334.95 L457.00,336.42 L457.40,337.98 L457.80,339.62 L458.20,341.35 L458.60,343.14 L459.00,345.00 L459.40,346.91 L459.80,348.87 L460.20,350.93 L460.60,353.08 L461.00,355.26 L461.40,357.54 L461.80,359.90 L462.20,362.34 L462.60,364.84 L463.00,367.38 L463.40,369.96 L463.80,372.55 L464.20,375.14 L464.60,377.72 L465.00,380.28 L465.40,382.92 L465.80,385.63 L466.20,388.39 L466.60,391.15 L467.00,393.86 L467.40,396.50 L467.80,399.02 L468.20,401.37 L468.60,403.55 L469.00,405.66 L469.40,407.71 L469.80,409.70 L470.20,411.62 L470.60,413.47 L471.00,415.23 L471.40,416.90 L471.80,418.48 L472.20,419.96 L472.60,421.35 L473.00,422.69 L473.40,423.99 L473.80,425.24 L474.20,426.44 L474.60,427.60 L475.00,428.72 L475.40,429.78 L475.80,430.81 L476.20,431.78 L476.60,432.71 L477.00,433.60 L477.40,434.44 L477.80,435.24 L478.20,436.03 L478.60,436.78 L479.00,437.52 L479.40,438.23 L479.80,438.91 L480.20,439.58 L480.60,440.22 L481.00,440.84 L481.40,441.43 L481.80,442.01 L482.20,442.57 L482.60,443.11 L483.00,443.63 L483.40,444.13 L483.80,444.61 L484.20,445.08 L484.60,445.54 L485.00,445.98 L485.40,446.41 L485.80,446.83 L486.20,447.24 L486.60,447.63 L487.00,448.02 L487.40,448.40 L487.80,448.77 L488.20,449.13 L488.60,449.48 L489.00,449.83 L489.40,450.17 L489.80,450.51 L490.20,450.84 L490.60,451.17 L491.00,451.49 L491.40,451.81 L491.80,452.13 L492.20,452.44 L492.60,452.74 L493.00,453.05 L493.40,453.35 L493.80,453.64 L494.20,453.93 L494.60,454.22 L495.00,454.50 L495.40,454.78 L495.80,455.05 L496.20,455.32 L496.60,455.59 L497.00,455.85 L497.40,456.11 L497.80,456.37 L498.20,456.62 L498.60,456.86 L499.00,457.11 L499.40,457.35 L499.80,457.58 L500.20,457.82 L500.60,458.04 L501.00,458.27 L501.40,458.49 L501.80,458.71 L502.20,458.92 L502.60,459.13 L503.00,459.34 L503.40,459.54 L503.80,459.74 L504.20,459.94 L504.60,460.14 L505.00,460.33 L505.40,460.52 L505.80,460.71 L506.20,460.89 L506.60,461.08 L507.00,461.26 L507.40,461.44 L507.80,461.62 L508.20,461.80 L508.60,461.98 L509.00,462.16 L509.40,462.33 L509.80,462.51 L510.20,462.68 L510.60,462.86 L511.00,463.03 L511.40,463.20 L511.80,463.37 L512.20,463.54 L512.60,463.71 L513.00,463.87 L513.40,464.03 L513.80,464.20 L514.20,464.36 L514.60,464.52 L515.00,464.67 L515.40,464.83 L515.80,464.99 L516.20,465.14 L516.60,465.30 L517.00,465.45 L517.40,465.61 L517.80,465.76 L518.20,465.91 L518.60,466.07 L519.00,466.22 L519.40,466.38 L519.80,466.53 L520.20,466.69 L520.60,466.84 L521.00,467.00 L521.40,467.16 L521.80,467.32 L522.20,467.47 L522.60,467.63 L523.00,467.79 L523.40,467.95 L523.80,468.10 L524.20,468.26 L524.60,468.42 L525.00,468.58 L525.40,468.73 L525.80,468.89 L526.20,469.04 L526.60,469.20 L527.00,469.36 L527.40,469.51 L527.80,469.67 L528.20,469.82 L528.60,469.97 L529.00,470.13 L529.40,470.28 L529.80,470.43 L530.20,470.58 L530.60,470.73 L531.00,470.88 L531.40,471.03 L531.80,471.18 L532.20,471.33 L532.60,471.48 L533.00,471.64 L533.40,471.79 L533.80,471.94 L534.20,472.09 L534.60,472.24 L535.00,472.39 L535.40,472.54 L535.80,472.69 L536.20,472.84 L536.60,472.99 L537.00,473.13 L537.40,473.28 L537.80,473.42 L538.20,473.56 L538.60,473.70 L539.00,473.83 L539.40,473.97 L539.80,474.10 L540.20,474.23 L540.60,474.35 L541.00,474.48 L541.40,474.60 L541.80,474.74 L542.20,474.88 L542.60,475.02 L543.00,475.16 L543.40,475.30 L543.80,475.44 L544.20,475.56 L544.60,475.66 L545.00,475.75 L545.40,475.78 L545.80,475.79 L546.20,475.76 L546.60,475.70 L547.00,475.60 L547.40,475.45 L547.80,475.26 L548.20,475.04 L548.60,474.78 L549.00,474.50 L549.40,474.18 L549.80,473.84 L550.20,473.47 L550.60,473.03 L551.00,472.41 L551.40,471.60 L551.80,470.58 L552.20,469.39 L552.60,468.01 L553.00,466.42 L553.40,464.58 L553.80,461.36 L554.20,456.74 L554.60,451.20 L555.00,445.24 L555.40,439.31 L555.80,432.70 L556.20,425.34 L556.60,417.66 L557.00,410.07 L557.40,403.00 L557.80,396.25 L558.20,389.48 L558.60,383.07 L559.00,377.48 L559.40,372.45 L559.80,367.97 L560.20,364.74 L560.60,362.46 L561.00,361.25 L561.40,362.20 L561.80,364.20 L562.20,368.13 L562.60,375.61 L563.00,383.50 L563.40,390.52 L563.80,397.64 L564.20,404.86 L564.60,412.32 L565.00,420.58 L565.40,429.35 L565.80,437.99 L566.20,445.87 L566.60,452.42 L567.00,458.34 L567.40,463.88 L567.80,468.80 L568.20,472.86 L568.60,475.86 L569.00,478.36 L569.40,480.62 L569.80,482.65 L570.20,484.43 L570.60,485.95 L571.00,487.21 L571.40,488.20 L571.80,488.97 L572.20,489.68 L572.60,490.34 L573.00,490.94 L573.40,491.50 L573.80,492.00 L574.20,492.47 L574.60,492.88 L575.00,493.26 L575.40,493.60 L575.80,493.90 L576.20,494.17 L576.60,494.40 L577.00,494.61 L577.40,494.80 L577.80,494.98 L578.20,495.15 L578.60,495.30 L579.00,495.44 L579.40,495.57 L579.80,495.70 L580.20,495.81 L580.60,495.93 L581.00,496.04 L581.40,496.14 L581.80,496.25 L582.20,496.35 L582.60,496.45 L583.00,496.55 L583.40,496.65 L583.80,496.75 L584.20,496.84 L584.60,496.93 L585.00,497.02 L585.40,497.10 L585.80,497.18 L586.20,497.26 L586.60,497.34 L587.00,497.41 L587.40,497.49 L587.80,497.56 L588.20,497.63 L588.60,497.69 L589.00,497.75 L589.40,497.82 L589.80,497.88 L590.20,497.94 L590.60,498.00 L591.00,498.07 L591.40,498.13 L591.80,498.20 L592.20,498.26 L592.60,498.32 L593.00,498.38 L593.40,498.44 L593.80,498.50 L594.20,498.55 L594.60,498.61 L595.00,498.66 L595.40,498.70 L595.80,498.74 L596.20,498.78 L596.60,498.81 L597.00,498.84 L597.40,498.87 L597.80,498.88 L598.20,498.89 L598.60,498.90 L599.00,498.90 L599.40,498.90 L599.80,498.90 L600.20,498.90 L600.60,498.90 L601.00,498.90 L601.40,498.90 L601.80,498.90 L602.20,498.90 L602.60,498.90 L603.00,498.90 L603.40,498.90 L603.80,498.90 L604.20,498.90 L604.60,498.90 L605.00,498.90 L605.40,498.90 L605.80,498.90 L606.20,498.90 L606.60,498.90 L607.00,498.90 L607.40,498.90 L607.80,498.90 L608.20,498.90 L608.60,498.90 L609.00,498.90 L609.40,498.90 L609.80,498.90 L610.20,498.90 L610.60,498.90 L611.00,498.90 L611.40,498.90 L611.80,498.90 L612.20,498.90 L612.60,498.90 L613.00,498.90 L613.40,498.90 L613.80,498.90 L614.20,498.90 L614.60,498.90 L615.00,498.90 L615.40,498.90 L615.80,498.90 L616.20,498.90 L616.60,498.90 L617.00,498.90 L617.40,498.90 L617.80,498.90 L618.20,498.90 L618.60,498.89 L619.00,498.88 L619.40,498.87 L619.80,498.86 L620.20,498.85 L620.60,498.83 L621.00,498.81 L621.40,498.79 L621.80,498.77 L622.20,498.75 L622.60,498.72 L623.00,498.70 L623.40,498.67 L623.80,498.64 L624.20,498.61 L624.60,498.58 L625.00,498.54 L625.40,498.51 L625.80,498.47 L626.20,498.44 L626.60,498.40 L627.00,498.36 L627.40,498.32 L627.80,498.28 L628.20,498.24 L628.60,498.20 L629.00,498.16 L629.40,498.12 L629.80,498.07 L630.20,498.03 L630.60,497.99 L631.00,497.94 L631.40,497.90 L631.80,497.86 L632.20,497.81 L632.60,497.77 L633.00,497.72 L633.40,497.67 L633.80,497.62 L634.20,497.57 L634.60,497.51 L635.00,497.45 L635.40,497.39 L635.80,497.32 L636.20,497.25 L636.60,497.17 L637.00,497.10 L637.40,497.01 L637.80,496.92 L638.20,496.83 L638.60,496.73 L639.00,496.63 L639.40,496.52 L639.80,496.40 L640.20,496.26 L640.60,496.08 L641.00,495.87 L641.40,495.62 L641.80,495.34 L642.20,495.05 L642.60,494.75 L643.00,494.44 L643.40,494.14 L643.80,493.85 L644.20,493.57 L644.60,493.32 L645.00,493.10 L645.40,492.92 L645.80,492.77 L646.20,492.62 L646.60,492.49 L647.00,492.36 L647.40,492.23 L647.80,492.12 L648.20,492.01 L648.60,491.90 L649.00,491.80 L649.40,491.70 L649.80,491.60 L650.20,491.50 L650.60,491.41 L651.00,491.31 L651.40,491.20 L651.80,491.08 L652.20,490.96 L652.60,490.84 L653.00,490.71 L653.40,490.60 L653.80,490.49 L654.20,490.41 L654.60,490.34 L655.00,490.29 L655.40,490.27 L655.80,490.28 L656.20,490.41 L656.60,490.65 L657.00,490.98 L657.40,491.38 L657.80,491.82 L658.20,492.28 L658.60,492.73 L659.00,493.14 L659.40,493.50 L659.80,493.84 L660.20,494.21 L660.60,494.58 L661.00,494.95 L661.40,495.30 L661.80,495.61 L662.20,495.88 L662.60,496.07 L663.00,496.17 L663.40,496.19 L663.80,496.19 L664.20,496.19 L664.60,496.19 L665.00,496.19 L665.40,496.19 L665.80,496.19 L666.20,496.19 L666.60,496.19 L667.00,496.19 L667.40,496.19 L667.80,496.19 L668.20,496.19 L668.60,496.19 L669.00,496.19 L669.40,496.19 L669.80,496.18 L670.20,496.18 L670.60,496.16 L671.00,496.13 L671.40,496.10 L671.80,496.06 L672.20,496.03 L672.60,495.98 L673.00,495.94 L673.40,495.91 L673.80,495.87 L674.20,495.84 L674.60,495.82 L675.00,495.81 L675.40,495.81 L675.80,495.84 L676.20,495.90 L676.60,496.00 L677.00,496.12 L677.40,496.27 L677.80,496.43 L678.20,496.60 L678.60,496.77 L679.00,496.94 L679.40,497.11 L679.80,497.27 L680.20,497.41 L680.60,497.54 L681.00,497.63 L681.40,497.72 L681.80,497.81 L682.20,497.91 L682.60,498.00 L683.00,498.09 L683.40,498.18 L683.80,498.26 L684.20,498.35 L684.60,498.43 L685.00,498.50 L685.40,498.57 L685.80,498.63 L686.20,498.69 L686.60,498.74 L687.00,498.78 L687.40,498.81 L687.80,498.83 L688.20,498.84 L688.60,498.85 L689.00,498.85 L689.40,498.85 L689.80,498.85 L690.20,498.85 L690.60,498.85 L691.00,498.85 L691.40,498.85 L691.80,498.85 L692.20,498.85 L692.60,498.85 L693.00,498.85 L693.40,498.85 L693.80,498.85 L694.20,498.85 L694.60,498.85 L695.00,498.85 L695.40,498.85 L695.80,498.85 L696.20,498.85 L696.60,498.85 L697.00,498.85 L697.40,498.85 L697.80,498.85 L698.20,498.85 L698.60,498.85 L699.00,498.85 L699.40,498.85 L699.80,498.85 L700.20,498.84 L700.60,498.83 L701.00,498.82 L701.40,498.81 L701.80,498.81 L702.20,498.81 L702.60,498.80 L703.00,498.80 L703.40,498.80 L703.80,498.81 L704.20,498.81 L704.60,498.81 L705.00,498.82 L705.40,498.83 L705.80,498.83 L706.20,498.84 L706.60,498.85 L707.00,498.86 L707.40,498.87 L707.80,498.88 L708.20,498.89 L708.60,498.90 L709.00,498.91 M731.00,498.00 L731.40,497.96 L731.80,497.93 L732.20,497.89 L732.60,497.85 L733.00,497.82 L733.40,497.78 L733.80,497.74 L734.20,497.71 L734.60,497.67 L735.00,497.63 L735.40,497.60 L735.80,497.56 L736.20,497.53 L736.60,497.49 L737.00,497.46 L737.40,497.42 L737.80,497.39 L738.20,497.36 L738.60,497.32 L739.00,497.29 L739.40,497.26 L739.80,497.22 L740.20,497.19 L740.60,497.16 L741.00,497.12 L741.40,497.09 L741.80,497.06 L742.20,497.03 L742.60,497.00 L743.00,496.97 L743.40,496.94 L743.80,496.90 L744.20,496.87 L744.60,496.84 L745.00,496.81 L745.40,496.79 L745.80,496.76 L746.20,496.73 L746.60,496.70 L747.00,496.67 L747.40,496.64 L747.80,496.61 L748.20,496.59 L748.60,496.56 L749.00,496.53 L749.40,496.51 L749.80,496.48 L750.20,496.46 L750.60,496.44 L751.00,496.41 L751.40,496.39 L751.80,496.37 L752.20,496.35 L752.60,496.33 L753.00,496.31 L753.40,496.29 L753.80,496.27 L754.20,496.25 L754.60,496.23 L755.00,496.21 L755.40,496.19 L755.80,496.17 L756.20,496.15 L756.60,496.13 L757.00,496.11 L757.40,496.09 L757.80,496.07 L758.20,496.05 L758.60,496.03 L759.00,496.01 L759.40,495.99 L759.80,495.97 L760.20,495.95 L760.60,495.93 L761.00,495.90 L761.40,495.88 L761.80,495.86 L762.20,495.83 L762.60,495.81 L763.00,495.78 L763.40,495.75 L763.80,495.73 L764.20,495.70 L764.60,495.67 L765.00,495.64 L765.40,495.61 L765.80,495.58 L766.20,495.54 L766.60,495.51 L767.00,495.47 L767.40,495.44 L767.80,495.40 L768.20,495.36 L768.60,495.32 L769.00,495.28 L769.40,495.23 L769.80,495.19 L770.20,495.14 L770.60,495.09 L771.00,495.04 L771.40,494.99 L771.80,494.93 L772.20,494.87 L772.60,494.82 L773.00,494.75 L773.40,494.69 L773.80,494.62 L774.20,494.56 L774.60,494.49 L775.00,494.41 L775.40,494.34 L775.80,494.26 L776.20,494.18 L776.60,494.09 L777.00,494.01 L777.40,493.92 L777.80,493.82 L778.20,493.72 L778.60,493.57 L779.00,493.40 L779.40,493.19 L779.80,492.97 L780.20,492.76 L780.60,492.57 L781.00,492.38 L781.40,492.19 L781.80,492.02 L782.20,491.86 L782.60,491.72 L783.00,491.61 L783.40,491.53 L783.80,491.49 L784.20,491.49 L784.60,491.54 L785.00,491.64 L785.40,491.76 L785.80,491.92 L786.20,492.10 L786.60,492.30 L787.00,492.52 L787.40,492.74 L787.80,492.97 L788.20,493.17 L788.60,493.34 L789.00,493.49 L789.40,493.64 L789.80,493.77 L790.20,493.88 L790.60,493.99 L791.00,494.10 L791.40,494.21 L791.80,494.33 L792.20,494.44 L792.60,494.56 L793.00,494.67 L793.40,494.77 L793.80,494.87 L794.20,494.96 L794.60,495.04 L795.00,495.11 L795.40,495.17 L795.80,495.21 L796.20,495.24 L796.60,495.25 L797.00,495.24 L797.40,495.21 L797.80,495.17 L798.20,495.11 L798.60,495.03 L799.00,494.94 L799.40,494.84 L799.80,494.72 L800.20,494.56 L800.60,494.35 L801.00,494.13 L801.40,493.91 L801.80,493.67 L802.20,493.43 L802.60,493.16 L803.00,492.85 L803.40,492.49 L803.80,492.09 L804.20,491.64 L804.60,491.15 L805.00,490.61 L805.40,490.03 L805.80,489.40 L806.20,488.79 L806.60,488.18 L807.00,487.53 L807.40,486.71 L807.80,485.69 L808.20,484.51 L808.60,483.20 L809.00,481.79 L809.40,480.32 L809.80,478.82 L810.20,477.32 L810.60,475.86 L811.00,474.35 L811.40,472.63 L811.80,470.82 L812.20,469.08 L812.60,467.56 L813.00,466.41 L813.40,465.61 L813.80,464.88 L814.20,464.29 L814.60,463.95 L815.00,463.96 L815.40,464.42 L815.80,465.23 L816.20,466.27 L816.60,467.42 L817.00,468.66 L817.40,470.38 L817.80,472.49 L818.20,474.75 L818.60,476.95 L819.00,478.88 L819.40,480.50 L819.80,482.08 L820.20,483.60 L820.60,485.04 L821.00,486.34 L821.40,487.48 L821.80,488.40 L822.20,489.15 L822.60,489.84 L823.00,490.49 L823.40,491.08 L823.80,491.62 L824.20,492.10 L824.60,492.53 L825.00,492.88 L825.40,493.18 L825.80,493.41 L826.20,493.63 L826.60,493.84 L827.00,494.03 L827.40,494.22 L827.80,494.40 L828.20,494.56 L828.60,494.71 L829.00,494.86 L829.40,494.98 L829.80,495.10 L830.20,495.20 L830.60,495.29 L831.00,495.37 L831.40,495.43 L831.80,495.48 L832.20,495.51 L832.60,495.53 L833.00,495.56 L833.40,495.58 L833.80,495.61 L834.20,495.63 L834.60,495.66 L835.00,495.68 L835.40,495.70 L835.80,495.72 L836.20,495.74 L836.60,495.76 L837.00,495.78 L837.40,495.80 L837.80,495.82 L838.20,495.84 L838.60,495.85 L839.00,495.87 L839.40,495.89 L839.80,495.90 L840.20,495.92 L840.60,495.93 L841.00,495.94 L841.40,495.96 L841.80,495.97 L842.20,495.98 L842.60,495.99 L843.00,496.00 L843.40,496.01 L843.80,496.02 L844.20,496.03 L844.60,496.04 L845.00,496.05 L845.40,496.05 L845.80,496.06 L846.20,496.07 L846.60,496.07 L847.00,496.08 L847.40,496.08 L847.80,496.09 L848.20,496.09 L848.60,496.09 L849.00,496.09 L849.40,496.10 L849.80,496.10 L850.20,496.10 L850.60,496.10 L851.00,496.10 L851.40,496.10 L851.80,496.10 L852.20,496.10 L852.60,496.10 L853.00,496.10 L853.40,496.10 L853.80,496.10 L854.20,496.10 L854.60,496.10 L855.00,496.10 L855.40,496.10 L855.80,496.10 L856.20,496.09 L856.60,496.09 L857.00,496.09 L857.40,496.09 L857.80,496.09 L858.20,496.09 L858.60,496.09 L859.00,496.09 L859.40,496.09 L859.80,496.09 L860.20,496.08 L860.60,496.08 L861.00,496.08 L861.40,496.08 L861.80,496.08 L862.20,496.08 L862.60,496.08 L863.00,496.07 L863.40,496.07 L863.80,496.07 L864.20,496.07 L864.60,496.07 L865.00,496.07 L865.40,496.06 L865.80,496.06 L866.20,496.06 L866.60,496.06 L867.00,496.06 L867.40,496.05 L867.80,496.05 L868.20,496.05 L868.60,496.05 L869.00,496.05 L869.40,496.04 L869.80,496.04 L870.20,496.04 L870.60,496.04 L871.00,496.03 L871.40,496.03 L871.80,496.03 L872.20,496.03 L872.60,496.02 L873.00,496.02 L873.40,496.02 L873.80,496.02 L874.20,496.01 L874.60,496.01 L875.00,496.01 L875.40,496.01 L875.80,496.00 L876.20,496.00 L876.60,496.00 L877.00,495.99 L877.40,495.99 L877.80,495.99 L878.20,495.99 L878.60,495.98 L879.00,495.98 L879.40,495.98 L879.80,495.97 L880.20,495.97 L880.60,495.97 L881.00,495.96 L881.40,495.96 L881.80,495.96 L882.20,495.95 L882.60,495.95 L883.00,495.95 L883.40,495.94 L883.80,495.94 L884.20,495.94 L884.60,495.93 L885.00,495.93 L885.40,495.93 L885.80,495.92 L886.20,495.92 L886.60,495.91 L887.00,495.91 L887.40,495.91 L887.80,495.90 L888.20,495.90 L888.60,495.90 L889.00,495.89 L889.40,495.89 L889.80,495.88 L890.20,495.88 L890.60,495.87 L891.00,495.87 L891.40,495.86 L891.80,495.86 L892.20,495.85 L892.60,495.84 L893.00,495.84 L893.40,495.83 L893.80,495.83 L894.20,495.82 L894.60,495.81 L895.00,495.80 L895.40,495.80 L895.80,495.79 L896.20,495.78 L896.60,495.77 L897.00,495.76 L897.40,495.75 L897.80,495.74 L898.20,495.74 L898.60,495.73 L899.00,495.72 L899.40,495.71 L899.80,495.70 L900.20,495.69 L900.60,495.68 L901.00,495.66 L901.40,495.65 L901.80,495.64 L902.20,495.63 L902.60,495.62 L903.00,495.61 L903.40,495.60 L903.80,495.58 L904.20,495.57 L904.60,495.56 L905.00,495.55 L905.40,495.53 L905.80,495.52 L906.20,495.51 L906.60,495.49 L907.00,495.48 L907.40,495.47 L907.80,495.45 L908.20,495.44 L908.60,495.42 L909.00,495.41 L909.40,495.39 L909.80,495.38 L910.20,495.36 L910.60,495.35 L911.00,495.33 L911.40,495.32 L911.80,495.30 L912.20,495.28 L912.60,495.27 L913.00,495.25 L913.40,495.24 L913.80,495.22 L914.20,495.20 L914.60,495.18 L915.00,495.17 L915.40,495.15 L915.80,495.13 L916.20,495.11 L916.60,495.10 L917.00,495.08 L917.40,495.06 L917.80,495.04 L918.20,495.02 L918.60,495.00 L919.00,494.99 L919.40,494.96 L919.80,494.94 L920.20,494.92 L920.60,494.89 L921.00,494.87 L921.40,494.84 L921.80,494.81 L922.20,494.78 L922.60,494.75 L923.00,494.71 L923.40,494.68 L923.80,494.64 L924.20,494.61 L924.60,494.57 L925.00,494.53 L925.40,494.49 L925.80,494.46 L926.20,494.41 L926.60,494.37 L927.00,494.33 L927.40,494.29 L927.80,494.25 L928.20,494.20 L928.60,494.16 L929.00,494.12 L929.40,494.07 L929.80,494.03 L930.20,493.98 L930.60,493.94 L931.00,493.89 L931.40,493.85 L931.80,493.80 L932.20,493.76 L932.60,493.71 L933.00,493.67 L933.40,493.62 L933.80,493.58 L934.20,493.54 L934.60,493.49 L935.00,493.45 L935.40,493.41 L935.80,493.36 L936.20,493.32 L936.60,493.28 L937.00,493.24 L937.40,493.20 L937.80,493.16 L938.20,493.12 L938.60,493.08 L939.00,493.04 L939.40,493.00 L939.80,492.97 L940.20,492.93 L940.60,492.89 L941.00,492.85 L941.40,492.81 L941.80,492.78 L942.20,492.74 L942.60,492.70 L943.00,492.66 L943.40,492.62 L943.80,492.59 L944.20,492.55 L944.60,492.51 L945.00,492.47 L945.40,492.43 L945.80,492.39 L946.20,492.36 L946.60,492.32 L947.00,492.28 L947.40,492.24 L947.80,492.20 L948.20,492.16 L948.60,492.12 L949.00,492.08 L949.40,492.04 L949.80,492.00 L950.20,491.96 L950.60,491.92 L951.00,491.87 L951.40,491.83 L951.80,491.79 L952.20,491.75 L952.60,491.70 L953.00,491.66 L953.40,491.61 L953.80,491.57 L954.20,491.52 L954.60,491.48 L955.00,491.43 L955.40,491.38 L955.80,491.34 L956.20,491.29 L956.60,491.24 L957.00,491.19 L957.40,491.14 L957.80,491.09 L958.20,491.04 L958.60,490.98 L959.00,490.93 L959.40,490.88 L959.80,490.82 L960.20,490.77 L960.60,490.72 L961.00,490.66 L961.40,490.60 L961.80,490.55 L962.20,490.49 L962.60,490.43 L963.00,490.37 L963.40,490.32 L963.80,490.26 L964.20,490.20 L964.60,490.14 L965.00,490.08 L965.40,490.02 L965.80,489.95 L966.20,489.89 L966.60,489.83 L967.00,489.77 L967.40,489.71 L967.80,489.64 L968.20,489.58 L968.60,489.52 L969.00,489.45 L969.40,489.39 L969.80,489.32 L970.20,489.26 L970.60,489.19 L971.00,489.13 L971.40,489.06 L971.80,489.00 L972.20,488.93 L972.60,488.87 L973.00,488.80 L973.40,488.73 L973.80,488.67 L974.20,488.60 L974.60,488.53 L975.00,488.47 L975.40,488.40 L975.80,488.33 L976.20,488.27 L976.60,488.20 L977.00,488.13 L977.40,488.07 L977.80,488.00 L978.20,487.94 L978.60,487.87 L979.00,487.80 L979.40,487.73 L979.80,487.67 L980.20,487.60 L980.60,487.53 L981.00,487.46 L981.40,487.39 L981.80,487.32 L982.20,487.25 L982.60,487.18 L983.00,487.10 L983.40,487.03 L983.80,486.96 L984.20,486.88 L984.60,486.80 L985.00,486.72 L985.40,486.65 L985.80,486.56 L986.20,486.48 L986.60,486.40 L987.00,486.31 L987.40,486.23 L987.80,486.14 L988.20,486.05 L988.60,485.96 L989.00,485.87 L989.40,485.77 L989.80,485.68 L990.20,485.58 L990.60,485.48 L991.00,485.37 L991.40,485.27 L991.80,485.16 L992.20,485.05 L992.60,484.94 L993.00,484.83 L993.40,484.71 L993.80,484.60 L994.20,484.47 L994.60,484.35 L995.00,484.23 L995.40,484.10 L995.80,483.96 L996.20,483.83 L996.60,483.69 L997.00,483.55 L997.40,483.41 L997.80,483.26 L998.20,483.11 L998.60,482.95 L999.00,482.80 L999.40,482.64 L999.80,482.47 L1000.20,482.30 L1000.60,482.13 L1001.00,481.96 L1001.40,481.77 L1001.80,481.58 L1002.20,481.38 L1002.60,481.17 L1003.00,480.95 L1003.40,480.72 L1003.80,480.49 L1004.20,480.25 L1004.60,480.00 L1005.00,479.74 L1005.40,479.48 L1005.80,479.21 L1006.20,478.93 L1006.60,478.65 L1007.00,478.36 L1007.40,478.06 L1007.80,477.76 L1008.20,477.46 L1008.60,477.14 L1009.00,476.81 L1009.40,476.47 L1009.80,476.11 L1010.20,475.74 L1010.60,475.36 L1011.00,474.96 L1011.40,474.55 L1011.80,474.13 L1012.20,473.71 L1012.60,473.27 L1013.00,472.83 L1013.40,472.38 L1013.80,471.93 L1014.20,471.47 L1014.60,470.98 L1015.00,470.46 L1015.40,469.92 L1015.80,469.37 L1016.20,468.80 L1016.60,468.23 L1017.00,467.65 L1017.40,467.08 L1017.80,466.51 L1018.20,465.96 L1018.60,465.43 L1019.00,464.92 L1019.40,464.43 L1019.80,463.97 L1020.20,463.46 L1020.60,462.93 L1021.00,462.40 L1021.40,461.90 L1021.80,461.46 L1022.20,461.11 L1022.60,460.88 L1023.00,460.80 L1023.40,460.93 L1023.80,461.27 L1024.20,461.78 L1024.60,462.41 L1025.00,463.11 L1025.40,463.82 L1025.80,464.50 L1026.20,465.10 L1026.60,465.71 L1027.00,466.40 L1027.40,467.12 L1027.80,467.80 L1028.20,468.37 L1028.60,468.76 L1029.00,468.90 L1029.40,468.81 L1029.80,468.56 L1030.20,468.21 L1030.60,467.78 L1031.00,467.33 L1031.40,466.89 L1031.80,466.52 L1032.20,466.24 L1032.60,466.11 L1033.00,466.18 L1033.40,466.49 L1033.80,466.99 L1034.20,467.61 L1034.60,468.31 L1035.00,469.00 L1035.40,469.65 L1035.80,470.27 L1036.20,471.00 L1036.60,471.81 L1037.00,472.65 L1037.40,473.48 L1037.80,474.25 L1038.20,474.91 L1038.60,475.41 L1039.00,475.72 L1039.40,475.80 L1039.80,475.69 L1040.20,475.45 L1040.60,475.10 L1041.00,474.66 L1041.40,474.14 L1041.80,473.57 L1042.20,472.96 L1042.60,472.33 L1043.00,471.70 L1043.40,470.98 L1043.80,470.10 L1044.20,469.07 L1044.60,467.94 L1045.00,466.72 L1045.40,465.45 L1045.80,464.16 L1046.20,462.87 L1046.60,461.62 L1047.00,460.43 L1047.40,459.34 L1047.80,458.36 L1048.20,457.41 L1048.60,456.44 L1049.00,455.47 L1049.40,454.51 L1049.80,453.58 L1050.20,452.69 L1050.60,451.86 L1051.00,451.10 L1051.40,450.43 L1051.80,449.86 L1052.20,449.40 L1052.60,449.03 L1053.00,448.67 L1053.40,448.32 L1053.80,448.00 L1054.20,447.71 L1054.60,447.46 L1055.00,447.26 L1055.40,447.11 L1055.80,447.02 L1056.20,447.00 L1056.60,447.06 L1057.00,447.19 L1057.40,447.38 L1057.80,447.63 L1058.20,447.92 L1058.60,448.24 L1059.00,448.60 L1059.40,448.97 L1059.80,449.35 L1060.20,449.73 L1060.60,450.11 L1061.00,450.48 L1061.40,450.89 L1061.80,451.34 L1062.20,451.82 L1062.60,452.32 L1063.00,452.85 L1063.40,453.41 L1063.80,453.98 L1064.20,454.58 L1064.60,455.18 L1065.00,455.80 L1065.40,456.43 L1065.80,457.06 L1066.20,457.69 L1066.60,458.33 L1067.00,458.96 L1067.40,459.58 L1067.80,460.20 L1068.20,460.80 L1068.60,461.43 L1069.00,462.07 L1069.40,462.72 L1069.80,463.39 L1070.20,464.07 L1070.60,464.75 L1071.00,465.44 L1071.40,466.13 L1071.80,466.81 L1072.20,467.50 L1072.60,468.17 L1073.00,468.84 L1073.40,469.50 L1073.80,470.14 L1074.20,470.76 L1074.60,471.36 L1075.00,471.94 L1075.40,472.50 L1075.80,473.05 L1076.20,473.60 L1076.60,474.16 L1077.00,474.72 L1077.40,475.28 L1077.80,475.83 L1078.20,476.36 L1078.60,476.88 L1079.00,477.38 L1079.40,477.86 L1079.80,478.31 L1080.20,478.73 L1080.60,479.11 L1081.00,479.45 L1081.40,479.75 L1081.80,480.00 L1082.20,480.23 L1082.60,480.45 L1083.00,480.67 L1083.40,480.88 L1083.80,481.07 L1084.20,481.25 L1084.60,481.41 L1085.00,481.55 L1085.40,481.66 L1085.80,481.74 L1086.20,481.79 L1086.60,481.80 L1087.00,481.76 L1087.40,481.66 L1087.80,481.52 L1088.20,481.34 L1088.60,481.11 L1089.00,480.85 L1089.40,480.56 L1089.80,480.25 L1090.20,479.91 L1090.60,479.55 L1091.00,479.18 L1091.40,478.80 L1091.80,478.37 L1092.20,477.80 L1092.60,477.12 L1093.00,476.34 L1093.40,475.48 L1093.80,474.56 L1094.20,473.60 L1094.60,472.63 L1095.00,471.65 L1095.40,470.71 L1095.80,469.80 L1096.20,468.89 L1096.60,467.92 L1097.00,466.91 L1097.40,465.90 L1097.80,464.89 L1098.20,463.91 L1098.60,462.98 L1099.00,462.13 L1099.40,461.37 L1099.80,460.68 L1100.20,459.95 L1100.60,459.24 L1101.00,458.60 L1101.40,458.09 L1101.80,457.78 L1102.20,457.72 L1102.60,458.20 L1103.00,459.16 L1103.40,460.46 L1103.80,461.93 L1104.20,463.77 L1104.60,466.56 L1105.00,469.80 L1105.40,472.93 L1105.80,475.40 L1106.20,477.34 L1106.60,479.21 L1107.00,480.97 L1107.40,482.55 L1107.80,483.90 L1108.20,484.97 L1108.60,485.70 L1109.00,486.21 L1109.40,486.66 L1109.80,487.06 L1110.20,487.41 L1110.60,487.71 L1111.00,487.99 L1111.40,488.25 L1111.80,488.49 L1112.20,488.72 L1112.60,488.96 L1113.00,489.20 L1113.40,489.47 L1113.80,489.74 L1114.20,490.01 L1114.60,490.27 L1115.00,490.53 L1115.40,490.79 L1115.80,491.05 L1116.20,491.30 L1116.60,491.54 L1117.00,491.78 L1117.40,492.01 L1117.80,492.23 L1118.20,492.44 L1118.60,492.65 L1119.00,492.84 L1119.40,493.03 L1119.80,493.20 L1120.20,493.37 L1120.60,493.54 L1121.00,493.70 L1121.40,493.87 L1121.80,494.03 L1122.20,494.19 L1122.60,494.35 L1123.00,494.50 L1123.40,494.65 L1123.80,494.79 L1124.20,494.92 L1124.60,495.05 L1125.00,495.16 L1125.40,495.27 L1125.80,495.36 L1126.20,495.44 L1126.60,495.51 L1127.00,495.57 L1127.40,495.61 L1127.80,495.64 L1128.20,495.68 L1128.60,495.71 L1129.00,495.75 L1129.40,495.78 L1129.80,495.81 L1130.20,495.83 L1130.60,495.86 L1131.00,495.88 L1131.40,495.90 L1131.80,495.93 L1132.20,495.94 L1132.60,495.96 L1133.00,495.97 L1133.40,495.98 L1133.80,495.99 L1134.20,496.00 L1134.60,496.00 L1135.00,496.00 L1135.40,495.99 L1135.80,495.96 L1136.20,495.92 L1136.60,495.87 L1137.00,495.81 L1137.40,495.75 L1137.80,495.67 L1138.20,495.58 L1138.60,495.49 L1139.00,495.39 L1139.40,495.29 L1139.80,495.17 L1140.20,495.06 L1140.60,494.93 L1141.00,494.77 L1141.40,494.57 L1141.80,494.33 L1142.20,494.05 L1142.60,493.74 L1143.00,493.40 L1143.40,493.03 L1143.80,492.63 L1144.20,492.21 L1144.60,491.76 L1145.00,491.30 L1145.40,490.72 L1145.80,489.97 L1146.20,489.09 L1146.60,488.15 L1147.00,487.19 L1147.40,486.28 L1147.80,485.46 L1148.20,484.80 L1148.60,484.21 L1149.00,483.60 L1149.40,483.02 L1149.80,482.53 L1150.20,482.18 L1150.60,482.01 L1151.00,482.12 L1151.40,482.61 L1151.80,483.39 L1152.20,484.34 L1152.60,485.36 L1153.00,486.37 L1153.40,487.38 L1153.80,488.62 L1154.20,489.98 L1154.60,491.35 L1155.00,492.59 L1155.40,493.59 L1155.80,494.23 L1156.20,494.73 L1156.60,495.21 L1157.00,495.65 L1157.40,496.05 L1157.80,496.42 L1158.20,496.74 L1158.60,497.01 L1159.00,497.22 L1159.40,497.38 L1159.80,497.48 L1160.20,497.51 L1160.60,497.54 L1161.00,497.56 L1161.40,497.58 L1161.80,497.60 L1162.20,497.62 L1162.60,497.63 L1163.00,497.64 L1163.40,497.65 L1163.80,497.66 L1164.20,497.67 L1164.60,497.67 L1165.00,497.68 L1165.40,497.69 L1165.80,497.70 L1166.20,497.71 L1166.60,497.72 L1167.00,497.73 L1167.40,497.75 L1167.80,497.77 L1168.20,497.79 L1168.60,497.81 L1169.00,497.85 L1169.40,497.91 L1169.80,497.98 L1170.20,498.05 L1170.60,498.14 L1171.00,498.24 L1171.40,498.34 L1171.80,498.44 L1172.20,498.54 L1172.60,498.65 L1173.00,498.75 L1173.40,498.85 L1173.80,498.95 L1174.20,499.04 L1174.60,499.12 L1175.00,499.19 L1175.40,499.25 L1175.80,499.29 L1176.20,499.32 L1176.60,499.36 L1177.00,499.39 L1177.40,499.41 L1177.80,499.44 L1178.20,499.47 L1178.60,499.50 L1179.00,499.52 L1179.40,499.55 L1179.80,499.57 L1180.20,499.59 L1180.60,499.61 L1181.00,499.63 L1181.40,499.65 L1181.80,499.67 L1182.20,499.69 L1182.60,499.71 L1183.00,499.73 L1183.40,499.75 L1183.80,499.76 L1184.20,499.78 L1184.60,499.79 L1185.00,499.81 L1185.40,499.82 L1185.80,499.84 L1186.20,499.85 L1186.60,499.87 L1187.00,499.88 L1187.40,499.89 L1187.80,499.91 L1188.20,499.92 L1188.60,499.93 L1189.00,499.94 L1189.40,499.96 L1189.80,499.97 L1190.20,499.98 L1190.60,499.99 L1191.00,500.01 L1191.40,500.02 L1191.80,500.03 L1192.20,500.04 L1192.60,500.05 L1193.00,500.07 L1193.40,500.08 L1193.80,500.09 L1194.20,500.10 L1194.60,500.11 L1195.00,500.12 L1195.40,500.14 L1195.80,500.15 L1196.20,500.16 L1196.60,500.17 L1197.00,500.18 L1197.40,500.19 L1197.80,500.20 L1198.20,500.21 L1198.60,500.22 L1199.00,500.23 L1199.40,500.24 L1199.80,500.25 L1200.20,500.26 L1200.60,500.27 L1201.00,500.29 L1201.40,500.30 L1201.80,500.31 L1202.20,500.32 L1202.60,500.33 L1203.00,500.34 L1203.40,500.36 L1203.80,500.37 L1204.20,500.38 L1204.60,500.39 L1205.00,500.40 L1205.40,500.41 L1205.80,500.42 L1206.20,500.43 L1206.60,500.44 L1207.00,500.45 L1207.40,500.46 L1207.80,500.47 L1208.20,500.48 L1208.60,500.49 L1209.00,500.51 L1209.40,500.52 L1209.80,500.53 L1210.20,500.54 L1210.60,500.55 L1211.00,500.55 L1211.40,500.56 L1211.80,500.57 L1212.20,500.58 L1212.60,500.59 L1213.00,500.60 L1213.40,500.61 L1213.80,500.62 L1214.20,500.63 L1214.60,500.64 L1215.00,500.65 L1215.40,500.66 L1215.80,500.67 L1216.20,500.68 L1216.60,500.69 L1217.00,500.70 L1217.40,500.70 L1217.80,500.71 L1218.20,500.72 L1218.60,500.73 L1219.00,500.74 L1219.40,500.75 L1219.80,500.76 L1220.20,500.77 L1220.60,500.77 L1221.00,500.78 L1221.40,500.79 L1221.80,500.80 L1222.20,500.81 L1222.60,500.82 L1223.00,500.83 L1223.40,500.83 L1223.80,500.84 L1224.20,500.85 L1224.60,500.86 L1225.00,500.87 L1225.40,500.87 L1225.80,500.88 L1226.20,500.89 L1226.60,500.90 L1227.00,500.91 L1227.40,500.92 L1227.80,500.92 L1228.20,500.93 L1228.60,500.94 L1229.00,500.95 L1229.40,500.96 L1229.80,500.96 L1230.20,500.97 L1230.60,500.98 L1231.00,500.99 L1231.40,501.00 L1231.80,501.00 L1232.20,501.01 L1232.60,501.02 L1233.00,501.03 L1233.40,501.04 L1233.80,501.04 L1234.20,501.05 L1234.60,501.06 L1235.00,501.07 L1235.40,501.07 L1235.80,501.08 L1236.20,501.09 L1236.60,501.10 L1237.00,501.10 L1237.40,501.11 L1237.80,501.12 L1238.20,501.13 L1238.60,501.13 L1239.00,501.14 L1239.40,501.15 L1239.80,501.16 L1240.20,501.16 L1240.60,501.17 L1241.00,501.18 L1241.40,501.19 L1241.80,501.19 L1242.20,501.20 L1242.60,501.21 L1243.00,501.21 L1243.40,501.22 L1243.80,501.23 L1244.20,501.24 L1244.60,501.24 L1245.00,501.25 L1245.40,501.26 L1245.80,501.26 L1246.20,501.27 L1246.60,501.28 L1247.00,501.28 L1247.40,501.29 L1247.80,501.30 L1248.20,501.30 L1248.60,501.31 L1249.00,501.32 L1249.40,501.32 L1249.80,501.33 L1250.20,501.33 L1250.60,501.34 L1251.00,501.35 L1251.40,501.35 L1251.80,501.36 L1252.20,501.36 L1252.60,501.37 L1253.00,501.38 L1253.40,501.38 L1253.80,501.39 L1254.20,501.39 L1254.60,501.40 L1255.00,501.40 L1255.40,501.41 L1255.80,501.41 L1256.20,501.42 L1256.60,501.43 L1257.00,501.43 L1257.40,501.44 L1257.80,501.44 L1258.20,501.45 L1258.60,501.45 L1259.00,501.45 L1259.40,501.46 L1259.80,501.46 L1260.20,501.47 L1260.60,501.47 L1261.00,501.48 L1261.40,501.48 L1261.80,501.49 L1262.20,501.49 L1262.60,501.50 L1263.00,501.50 L1263.40,501.50 L1263.80,501.51 L1264.20,501.51 L1264.60,501.52 L1265.00,501.52 L1265.40,501.53 L1265.80,501.53 L1266.20,501.54 L1266.60,501.54 L1267.00,501.54 L1267.40,501.55 L1267.80,501.55 L1268.20,501.56 L1268.60,501.56 L1269.00,501.56 L1269.40,501.57 L1269.80,501.57 L1270.20,501.58 L1270.60,501.58 L1271.00,501.58 L1271.40,501.59 L1271.80,501.59 L1272.20,501.60 L1272.60,501.60 L1273.00,501.60 L1273.40,501.61 L1273.80,501.61 L1274.20,501.62 L1274.60,501.62 L1275.00,501.62 L1275.40,501.63 L1275.80,501.63 L1276.20,501.64 L1276.60,501.64 L1277.00,501.64 L1277.40,501.65 L1277.80,501.65 L1278.20,501.65 L1278.60,501.66 L1279.00,501.66 L1279.40,501.67 L1279.80,501.67 L1280.20,501.67 L1280.60,501.68 L1281.00,501.68 L1281.40,501.68 L1281.80,501.69 L1282.20,501.69 L1282.60,501.69 L1283.00,501.70 L1283.40,501.70 L1283.80,501.70 L1284.20,501.71 L1284.60,501.71 L1285.00,501.71 L1285.40,501.72 L1285.80,501.72 L1286.20,501.73 L1286.60,501.73 L1287.00,501.73 L1287.40,501.74 L1287.80,501.74 L1288.20,501.74 L1288.60,501.75 L1289.00,501.75 L1289.40,501.75 L1289.80,501.75 L1290.20,501.76 L1290.60,501.76 L1291.00,501.76 L1291.40,501.76 L1291.80,501.76 L1292.20,501.76 L1292.60,501.77 L1293.00,501.77 L1293.40,501.77 L1293.80,501.77 L1294.20,501.77 L1294.60,501.77 L1295.00,501.77 L1295.40,501.78 L1295.80,501.78 L1296.20,501.78 L1296.60,501.78 L1297.00,501.78 L1297.40,501.78 L1297.80,501.78 L1298.20,501.78 L1298.60,501.79 L1299.00,501.79 L1299.40,501.79 L1299.80,501.79 L1300.20,501.79 L1300.60,501.79 L1301.00,501.79 L1301.40,501.79 L1301.80,501.80 L1302.20,501.80 L1302.60,501.80 L1303.00,501.80 L1303.40,501.80 L1303.80,501.80 L1304.20,501.80 L1304.60,501.80 L1305.00,501.80 L1305.40,501.81 L1305.80,501.81 L1306.20,501.81 L1306.60,501.81 L1307.00,501.81 L1307.40,501.81 L1307.80,501.81 L1308.20,501.81 L1308.60,501.81 L1309.00,501.82 L1309.40,501.82 L1309.80,501.82 L1310.20,501.82 L1310.60,501.82 L1311.00,501.82 L1311.40,501.82 L1311.80,501.82 L1312.20,501.82 L1312.60,501.83 L1313.00,501.83 L1313.40,501.83 L1313.80,501.83 L1314.20,501.83 L1314.60,501.83 L1315.00,501.83 L1315.40,501.83 L1315.80,501.83 L1316.20,501.84 L1316.60,501.84 L1317.00,501.84 L1317.40,501.84 L1317.80,501.84 L1318.20,501.84 L1318.60,501.84 L1319.00,501.84 L1319.40,501.84 L1319.80,501.84 L1320.20,501.85 L1320.60,501.85 L1321.00,501.85 L1321.40,501.85 L1321.80,501.85 L1322.20,501.85 L1322.60,501.85 L1323.00,501.85 L1323.40,501.85 L1323.80,501.85 L1324.20,501.85 L1324.60,501.85 L1325.00,501.86 L1325.40,501.86 L1325.80,501.86 L1326.20,501.86 L1326.60,501.86 L1327.00,501.86 L1327.40,501.86 L1327.80,501.86 L1328.20,501.86 L1328.60,501.86 L1329.00,501.86 L1329.40,501.86 L1329.80,501.87 L1330.20,501.87 L1330.60,501.87 L1331.00,501.87 L1331.40,501.87 L1331.80,501.87 L1332.20,501.87 L1332.60,501.87 L1333.00,501.87 L1333.40,501.87 L1333.80,501.87 L1334.20,501.87 L1334.60,501.87 L1335.00,501.87 L1335.40,501.87 L1335.80,501.88 L1336.20,501.88 L1336.60,501.88 L1337.00,501.88 L1337.40,501.88 L1337.80,501.88 L1338.20,501.88 L1338.60,501.88 L1339.00,501.88 L1339.40,501.88 L1339.80,501.88 L1340.20,501.88 L1340.60,501.88 L1341.00,501.88 L1341.40,501.88 L1341.80,501.88 L1342.20,501.88 L1342.60,501.88 L1343.00,501.88 L1343.40,501.88 L1343.80,501.88 L1344.20,501.88 L1344.50,501.88" fill="none" stroke="#2A7FE0" stroke-width="1.9" stroke-linejoin="round" stroke-linecap="butt"/>
<path d="M155.80,318.00 L156.20,319.76 L156.60,321.50 L157.00,323.19 L157.40,324.85 L157.80,326.46 L158.20,328.02 L158.60,329.52 L159.00,330.97 L159.40,332.35 L159.80,333.66 L160.20,334.90 L160.60,336.08 L161.00,337.22 L161.40,338.34 L161.80,339.42 L162.20,340.48 L162.60,341.50 L163.00,342.49 L163.40,343.45 L163.80,344.37 L164.20,345.26 L164.60,346.12 L165.00,346.95 L165.40,347.74 L165.80,348.50 L166.20,349.22 L166.60,349.92 L167.00,350.60 L167.40,351.27 L167.80,351.91 L168.20,352.54 L168.60,353.13 L169.00,353.70 L169.40,354.24 L169.80,354.74 L170.20,355.20 L170.60,355.62 L171.00,356.00 L171.40,356.36 L171.80,356.73 L172.20,357.09 L172.60,357.43 L173.00,357.75 L173.40,358.02 L173.80,358.24 L174.20,358.40 L174.60,358.49 L175.00,358.49 L175.40,358.44 L175.80,358.34 L176.20,358.19 L176.60,358.02 L177.00,357.81 L177.40,357.57 L177.80,357.32 L178.20,357.05 L178.60,356.78 L179.00,356.50 L179.40,356.19 L179.80,355.82 L180.20,355.39 L180.60,354.92 L181.00,354.42 L181.40,353.89 L181.80,353.35 L182.20,352.80 L182.60,352.27 L183.00,351.76 L183.40,351.27 L183.80,350.79 L184.20,350.29 L184.60,349.77 L185.00,349.22 L185.40,348.60 L185.80,347.92 L186.20,347.15 L186.60,346.28 L187.00,345.30 L187.40,343.86 L187.80,341.72 L188.20,339.06 L188.60,336.03 L189.00,332.80 L189.40,329.52 L189.80,326.35 L190.20,323.46 L190.60,321.00 L191.00,318.78 L191.40,316.58 L191.80,314.58 L192.20,312.92 L192.60,311.75 L193.00,310.76 L193.40,309.88 L193.80,309.23 L194.20,308.91 L194.60,309.02 L195.00,309.51 L195.40,310.24 L195.80,311.08 L196.20,311.96 L196.60,313.10 L197.00,314.45 L197.40,315.90 L197.80,317.37 L198.20,318.90 L198.60,320.52 L199.00,322.23 L199.40,323.99 L199.80,325.81 L200.20,327.65 L200.60,329.50 L201.00,331.35 L201.40,333.19 L201.80,334.98 L202.20,336.72 L202.60,338.40 L203.00,340.00 L203.40,341.63 L203.80,343.28 L204.20,344.90 L204.60,346.46 L205.00,347.94 L205.40,349.29 L205.80,350.48 L206.20,351.51 L206.60,352.55 L207.00,353.58 L207.40,354.54 L207.80,355.37 L208.20,356.01 L208.60,356.40 L209.00,356.49 L209.40,356.38 L209.80,356.14 L210.20,355.81 L210.60,355.42 L211.00,355.00 L211.40,354.44 L211.80,353.68 L212.20,352.82 L212.60,351.97 L213.00,351.22 L213.40,350.49 L213.80,349.72 L214.20,348.93 L214.60,348.14 L215.00,347.36 L215.40,346.61 L215.80,345.89 L216.20,345.23 L216.60,344.63 L217.00,344.12 L217.40,343.71 L217.80,343.40 L218.20,343.21 L218.60,343.05 L219.00,342.89 L219.40,342.77 L219.80,342.67 L220.20,342.61 L220.60,342.60 L221.00,342.63 L221.40,342.69 L221.80,342.76 L222.20,342.83 L222.60,342.88 L223.00,342.90 L223.40,342.76 L223.80,342.36 L224.20,341.74 L224.60,340.93 L225.00,339.98 L225.40,338.92 L225.80,337.78 L226.20,336.52 L226.60,334.65 L227.00,332.19 L227.40,329.28 L227.80,326.02 L228.20,322.55 L228.60,318.98 L229.00,315.44 L229.40,312.04 L229.80,308.90 L230.20,306.14 L230.60,303.43 L231.00,300.67 L231.40,297.90 L231.80,295.17 L232.20,292.54 L232.60,290.05 L233.00,287.75 L233.40,285.69 L233.80,283.93 L234.20,282.50 L234.60,281.25 L235.00,280.03 L235.40,278.87 L235.80,277.85 L236.20,277.00 L236.60,276.38 L237.00,276.04 L237.40,276.03 L237.80,276.28 L238.20,276.73 L238.60,277.36 L239.00,278.12 L239.40,278.99 L239.80,279.94 L240.20,280.91 L240.60,281.89 L241.00,282.84 L241.40,283.72 L241.80,284.67 L242.20,285.72 L242.60,286.84 L243.00,288.00 L243.40,289.16 L243.80,290.29 L244.20,291.36 L244.60,292.33 L245.00,293.17 L245.40,293.86 L245.80,294.50 L246.20,295.15 L246.60,295.78 L247.00,296.38 L247.40,296.93 L247.80,297.43 L248.20,297.84 L248.60,298.17 L249.00,298.40 L249.40,298.50 L249.80,298.45 L250.20,298.25 L250.60,297.91 L251.00,297.44 L251.40,296.85 L251.80,296.16 L252.20,295.39 L252.60,294.54 L253.00,293.64 L253.40,292.70 L253.80,291.49 L254.20,289.84 L254.60,287.83 L255.00,285.54 L255.40,283.04 L255.80,280.42 L256.20,277.76 L256.60,275.06 L257.00,272.16 L257.40,269.07 L257.80,265.80 L258.20,262.36 L258.60,258.74 L259.00,254.96 L259.40,251.03 L259.80,246.96 L260.20,242.75 L260.60,238.35 L261.00,233.39 L261.40,227.98 L261.80,222.28 L262.20,216.47 L262.60,210.72 L263.00,205.21 L263.40,200.10 L263.80,195.38 L264.20,190.86 L264.60,186.48 L265.00,182.16 L265.40,177.84 L265.80,173.60 L266.20,169.40 L266.60,165.23 L267.00,161.05 L267.40,156.83 L267.80,152.59 L268.20,148.35 L268.60,144.14 L269.00,140.00 L269.40,135.90 L269.80,131.84 L270.20,127.90 L270.60,124.06 L271.00,120.23 L271.40,117.40 L271.80,115.20 L272.20,114.60 L272.60,116.53 L273.00,120.33 L273.40,127.00 L273.80,133.17 L274.20,139.43 L274.60,145.66 L275.00,151.88 L275.40,158.32 L275.80,165.31 L276.20,172.75 L276.60,180.00 L277.00,186.79 L277.40,193.00 L277.80,198.50 L278.20,204.01 L278.60,210.30 L279.00,218.20 L279.40,227.26 L279.80,236.37 L280.20,244.63 L280.60,252.51 L281.00,260.14 L281.40,267.46 L281.80,274.39 L282.20,280.73 L282.60,286.92 L283.00,293.52 L283.40,301.50 L283.80,310.68 L284.20,318.29 L284.60,322.69 L285.00,325.90 L285.40,328.55 L285.80,331.17 L286.20,334.30 L286.60,338.13 L287.00,342.39 L287.40,346.93 L287.80,351.60 L288.20,356.24 L288.60,360.69 L289.00,364.81 L289.40,368.49 L289.80,371.94 L290.20,375.23 L290.60,378.39 L291.00,381.45 L291.40,384.43 L291.80,387.36 L292.20,390.27 L292.60,393.22 L293.00,396.23 L293.40,399.25 L293.80,402.18 L294.20,404.97 L294.60,407.54 L295.00,409.80 L295.40,411.74 L295.80,413.58 L296.20,415.34 L296.60,417.00 L297.00,418.54 L297.40,419.93 L297.80,421.15 L298.20,422.18 L298.60,423.00 L299.00,423.68 L299.40,424.32 L299.80,424.92 L300.20,425.47 L300.60,425.98 L301.00,426.45 L301.40,426.88 L301.80,427.27 L302.20,427.63 L302.60,427.95 L303.00,428.23 L303.40,428.49 L303.80,428.71 L304.20,428.93 L304.60,429.14 L305.00,429.35 L305.40,429.55 L305.80,429.74 L306.20,429.91 L306.60,430.06 L307.00,430.20 L307.40,430.31 L307.80,430.40 L308.20,430.46 L308.60,430.50 L309.00,430.48 L309.40,430.37 L309.80,430.15 L310.20,429.86 L310.60,429.50 L311.00,429.11 L311.40,428.69 L311.80,428.28 L312.20,427.88 L312.60,427.52 L313.00,427.22 L313.40,427.00 L313.80,426.82 L314.20,426.64 L314.60,426.46 L315.00,426.30 L315.40,426.16 L315.80,426.04 L316.20,425.95 L316.60,425.91 L317.00,425.93 L317.40,426.12 L317.80,426.49 L318.20,426.99 L318.60,427.59 L319.00,428.28 L319.40,429.01 L319.80,429.75 L320.20,430.48 L320.60,431.17 L321.00,431.88 L321.40,432.63 L321.80,433.43 L322.20,434.27 L322.60,435.14 L323.00,436.04 L323.40,436.97 L323.80,437.91 L324.20,438.87 L324.60,439.85 L325.00,440.88 L325.40,441.99 L325.80,443.15 L326.20,444.34 L326.60,445.54 L327.00,446.73 L327.40,447.90 L327.80,449.02 L328.20,450.07 L328.60,451.04 L329.00,451.98 L329.40,452.91 L329.80,453.83 L330.20,454.72 L330.60,455.58 L331.00,456.39 L331.40,457.15 L331.80,457.85 L332.20,458.48 L332.60,459.03 L333.00,459.55 L333.40,460.06 L333.80,460.54 L334.20,461.00 L334.60,461.42 L335.00,461.81 L335.40,462.16 L335.80,462.46 L336.20,462.71 L336.60,462.90 L337.00,463.06 L337.40,463.21 L337.80,463.35 L338.20,463.48 L338.60,463.60 L339.00,463.70 L339.40,463.78 L339.80,463.85 L340.20,463.89 L340.60,463.90 L341.00,463.86 L341.40,463.73 L341.80,463.53 L342.20,463.27 L342.60,462.96 L343.00,462.60 L343.40,462.22 L343.80,461.82 L344.20,461.41 L344.60,461.00 L345.00,460.54 L345.40,459.93 L345.80,459.21 L346.20,458.45 L346.60,457.73 L347.00,457.09 L347.40,456.62 L347.80,456.35 L348.20,456.17 L348.60,456.01 L349.00,455.89 L349.40,455.82 L349.80,455.81 L350.20,456.01 L350.60,456.40 L351.00,456.91 L351.40,457.47 L351.80,457.98 L352.20,458.37 L352.60,458.60 L353.00,458.79 L353.40,458.97 L353.80,459.12 L354.20,459.23 L354.60,459.29 L355.00,459.27 L355.40,459.07 L355.80,458.71 L356.20,458.23 L356.60,457.66 L357.00,457.04 L357.40,456.41 L357.80,455.80 L358.20,455.18 L358.60,454.48 L359.00,453.71 L359.40,452.90 L359.80,452.06 L360.20,451.20 L360.60,450.34 L361.00,449.49 L361.40,448.67 L361.80,447.89 L362.20,447.15 L362.60,446.45 L363.00,445.76 L363.40,445.08 L363.80,444.41 L364.20,443.74 L364.60,443.07 L365.00,442.39 L365.40,441.69 L365.80,440.97 L366.20,440.23 L366.60,439.49 L367.00,438.76 L367.40,438.03 L367.80,437.28 L368.20,436.51 L368.60,435.70 L369.00,434.86 L369.40,433.96 L369.80,433.00 L370.20,431.98 L370.60,430.89 L371.00,429.72 L371.40,428.47 L371.80,427.12 L372.20,425.67 L372.60,424.10 L373.00,422.40 L373.40,420.46 L373.80,418.22 L374.20,415.75 L374.60,413.11 L375.00,410.37 L375.40,407.60 L375.80,404.70 L376.20,401.59 L376.60,398.34 L377.00,395.06 L377.40,391.83 L377.80,388.74 L378.20,385.74 L378.60,382.60 L379.00,379.48 L379.40,376.51 L379.80,373.86 L380.20,371.67 L380.60,370.04 L381.00,368.68 L381.40,367.50 L381.80,366.45 L382.20,365.48 L382.60,364.57 L383.00,363.65 L383.40,362.70 L383.80,361.77 L384.20,360.92 L384.60,360.14 L385.00,359.38 L385.40,358.63 L385.80,357.84 L386.20,357.00 L386.60,356.07 L387.00,355.02 L387.40,353.82 L387.80,352.40 L388.20,350.64 L388.60,348.58 L389.00,346.26 L389.40,343.75 L389.80,341.08 L390.20,338.16 L390.60,334.73 L391.00,330.99 L391.40,327.15 L391.80,323.42 L392.20,319.73 L392.60,315.78 L393.00,311.26 L393.40,305.75 L393.80,299.07 L394.20,291.56 L394.60,283.20 L395.00,273.50 L395.40,263.14 L395.80,252.80 L396.20,243.20 L396.60,234.73 L397.00,226.84 L397.40,219.29 L397.80,211.87 L398.20,204.35 L398.60,196.58 L399.00,188.63 L399.40,180.65 L399.80,172.74 L400.20,165.00 L400.60,157.41 L401.00,149.96 L401.40,142.75 L401.80,135.77 L402.20,128.91 L402.60,122.44 L403.00,116.60 L403.40,111.16 L403.80,106.20 L404.20,102.00 L404.60,98.40 L405.00,95.28 L405.40,93.00 L405.80,91.27 L406.20,89.96 L406.60,89.65 L407.00,90.68 L407.40,92.51 L407.80,94.97 L408.20,98.74 L408.60,103.15 L409.00,108.51 L409.40,114.73 L409.80,121.51 L410.20,129.35 L410.60,137.32 L411.00,144.43 L411.40,150.96 L411.80,157.23 L412.20,163.43 L412.60,169.73 L413.00,176.05 L413.40,182.34 L413.80,188.54 L414.20,194.61 L414.60,200.50 L415.00,206.31 L415.40,212.13 L415.80,217.90 L416.20,223.52 L416.60,228.93 L417.00,234.04 L417.40,238.79 L417.80,243.11 L418.20,247.13 L418.60,250.89 L419.00,254.47 L419.40,257.90 L419.80,261.24 L420.20,264.53 L420.60,267.83 L421.00,271.19 L421.40,274.56 L421.80,277.88 L422.20,281.09 L422.60,284.12 L423.00,286.92 L423.40,289.43 L423.80,291.67 L424.20,293.83 L424.60,295.92 L425.00,297.91 L425.40,299.78 L425.80,301.52 L426.20,303.10 L426.60,304.51 L427.00,305.72 L427.40,306.74 L427.80,307.65 L428.20,308.52 L428.60,309.34 L429.00,310.11 L429.40,310.83 L429.80,311.50 L430.20,312.12 L430.60,312.69 L431.00,313.21 L431.40,313.67 L431.80,314.08 L432.20,314.44 L432.60,314.75 L433.00,315.05 L433.40,315.35 L433.80,315.64 L434.20,315.91 L434.60,316.18 L435.00,316.42 L435.40,316.65 L435.80,316.87 L436.20,317.05 L436.60,317.22 L437.00,317.36 L437.40,317.47 L437.80,317.54 L438.20,317.59 L438.60,317.60 L439.00,317.57 L439.40,317.52 L439.80,317.43 L440.20,317.32 L440.60,317.19 L441.00,317.05 L441.40,316.89 L441.80,316.72 L442.20,316.55 L442.60,316.38 L443.00,316.20 L443.40,316.04 L443.80,315.88 L444.20,315.73 L444.60,315.60 L445.00,315.47 L445.40,315.33 L445.80,315.19 L446.20,315.04 L446.60,314.89 L447.00,314.75 L447.40,314.61 L447.80,314.49 L448.20,314.38 L448.60,314.30 L449.00,314.24 L449.40,314.20 L449.80,314.22 L450.20,314.39 L450.60,314.70 L451.00,315.13 L451.40,315.67 L451.80,316.29 L452.20,316.97 L452.60,317.68 L453.00,318.42 L453.40,319.21 L453.80,320.20 L454.20,321.36 L454.60,322.66 L455.00,324.09 L455.40,325.60 L455.80,327.18 L456.20,328.79 L456.60,330.40 L457.00,332.03 L457.40,333.74 L457.80,335.54 L458.20,337.42 L458.60,339.36 L459.00,341.37 L459.40,343.44 L459.80,345.55 L460.20,347.70 L460.60,349.89 L461.00,352.12 L461.40,354.44 L461.80,356.86 L462.20,359.34 L462.60,361.89 L463.00,364.49 L463.40,367.12 L463.80,369.76 L464.20,372.41 L464.60,375.04 L465.00,377.65 L465.40,380.34 L465.80,383.11 L466.20,385.92 L466.60,388.74 L467.00,391.51 L467.40,394.20 L467.80,396.77 L468.20,399.17 L468.60,401.39 L469.00,403.55 L469.40,405.64 L469.80,407.67 L470.20,409.63 L470.60,411.51 L471.00,413.31 L471.40,415.02 L471.80,416.63 L472.20,418.14 L472.60,419.56 L473.00,420.93 L473.40,422.25 L473.80,423.52 L474.20,424.75 L474.60,425.94 L475.00,427.07 L475.40,428.16 L475.80,429.21 L476.20,430.20 L476.60,431.15 L477.00,432.05 L477.40,432.91 L477.80,433.73 L478.20,434.53 L478.60,435.31 L479.00,436.05 L479.40,436.78 L479.80,437.48 L480.20,438.15 L480.60,438.81 L481.00,439.44 L481.40,440.05 L481.80,440.64 L482.20,441.21 L482.60,441.76 L483.00,442.29 L483.40,442.80 L483.80,443.29 L484.20,443.77 L484.60,444.24 L485.00,444.69 L485.40,445.13 L485.80,445.56 L486.20,445.97 L486.60,446.38 L487.00,446.77 L487.40,447.16 L487.80,447.53 L488.20,447.90 L488.60,448.26 L489.00,448.62 L489.40,448.97 L489.80,449.31 L490.20,449.65 L490.60,449.98 L491.00,450.31 L491.40,450.64 L491.80,450.96 L492.20,451.28 L492.60,451.59 L493.00,451.90 L493.40,452.21 L493.80,452.51 L494.20,452.80 L494.60,453.10 L495.00,453.38 L495.40,453.67 L495.80,453.95 L496.20,454.22 L496.60,454.50 L497.00,454.76 L497.40,455.03 L497.80,455.29 L498.20,455.54 L498.60,455.80 L499.00,456.05 L499.40,456.29 L499.80,456.53 L500.20,456.77 L500.60,457.00 L501.00,457.23 L501.40,457.45 L501.80,457.68 L502.20,457.89 L502.60,458.11 L503.00,458.32 L503.40,458.53 L503.80,458.73 L504.20,458.93 L504.60,459.13 L505.00,459.33 L505.40,459.53 L505.80,459.72 L506.20,459.91 L506.60,460.10 L507.00,460.28 L507.40,460.47 L507.80,460.65 L508.20,460.84 L508.60,461.02 L509.00,461.20 L509.40,461.38 L509.80,461.56 L510.20,461.73 L510.60,461.91 L511.00,462.09 L511.40,462.26 L511.80,462.44 L512.20,462.61 L512.60,462.78 L513.00,462.95 L513.40,463.11 L513.80,463.28 L514.20,463.44 L514.60,463.60 L515.00,463.76 L515.40,463.93 L515.80,464.08 L516.20,464.24 L516.60,464.40 L517.00,464.56 L517.40,464.72 L517.80,464.87 L518.20,465.03 L518.60,465.19 L519.00,465.35 L519.40,465.50 L519.80,465.66 L520.20,465.82 L520.60,465.98 L521.00,466.14 L521.40,466.30 L521.80,466.46 L522.20,466.62 L522.60,466.78 L523.00,466.94 L523.40,467.10 L523.80,467.26 L524.20,467.43 L524.60,467.59 L525.00,467.75 L525.40,467.91 L525.80,468.07 L526.20,468.23 L526.60,468.38 L527.00,468.54 L527.40,468.70 L527.80,468.86 L528.20,469.02 L528.60,469.17 L529.00,469.33 L529.40,469.48 L529.80,469.64 L530.20,469.79 L530.60,469.95 L531.00,470.10 L531.40,470.25 L531.80,470.41 L532.20,470.56 L532.60,470.71 L533.00,470.87 L533.40,471.02 L533.80,471.18 L534.20,471.33 L534.60,471.49 L535.00,471.64 L535.40,471.79 L535.80,471.95 L536.20,472.10 L536.60,472.25 L537.00,472.40 L537.40,472.54 L537.80,472.69 L538.20,472.83 L538.60,472.97 L539.00,473.11 L539.40,473.25 L539.80,473.38 L540.20,473.51 L540.60,473.64 L541.00,473.77 L541.40,473.90 L541.80,474.03 L542.20,474.18 L542.60,474.32 L543.00,474.47 L543.40,474.61 L543.80,474.75 L544.20,474.87 L544.60,474.98 L545.00,475.07 L545.40,475.14 L545.80,475.18 L546.20,475.20 L546.60,475.18 L547.00,475.11 L547.40,475.00 L547.80,474.85 L548.20,474.66 L548.60,474.45 L549.00,474.20 L549.40,473.92 L549.80,473.61 L550.20,473.29 L550.60,472.89 L551.00,472.31 L551.40,471.53 L551.80,470.56 L552.20,469.39 L552.60,468.01 L553.00,466.42 L553.40,464.58 L553.80,461.36 L554.20,456.74 L554.60,451.20 L555.00,445.24 L555.40,439.31 L555.80,432.70 L556.20,425.34 L556.60,417.66 L557.00,410.07 L557.40,403.00 L557.80,396.25 L558.20,389.58 L558.60,383.37 L559.00,378.00 L559.40,373.21 L559.80,368.98 L560.20,366.00 L560.60,363.97 L561.00,363.00 L561.40,363.72 L561.80,365.47 L562.20,369.14 L562.60,376.35 L563.00,384.00 L563.40,390.80 L563.80,397.73 L564.20,404.86 L564.60,412.32 L565.00,420.58 L565.40,429.35 L565.80,437.99 L566.20,445.87 L566.60,452.42 L567.00,458.34 L567.40,463.88 L567.80,468.80 L568.20,472.86 L568.60,475.86 L569.00,478.36 L569.40,480.62 L569.80,482.65 L570.20,484.43 L570.60,485.95 L571.00,487.21 L571.40,488.20 L571.80,488.97 L572.20,489.68 L572.60,490.34 L573.00,490.94 L573.40,491.50 L573.80,492.00 L574.20,492.47 L574.60,492.88 L575.00,493.26 L575.40,493.60 L575.80,493.90 L576.20,494.17 L576.60,494.40 L577.00,494.61 L577.40,494.80 L577.80,494.98 L578.20,495.15 L578.60,495.30 L579.00,495.44 L579.40,495.57 L579.80,495.70 L580.20,495.81 L580.60,495.93 L581.00,496.04 L581.40,496.14 L581.80,496.25 L582.20,496.35 L582.60,496.45 L583.00,496.55 L583.40,496.65 L583.80,496.75 L584.20,496.84 L584.60,496.93 L585.00,497.02 L585.40,497.10 L585.80,497.18 L586.20,497.26 L586.60,497.34 L587.00,497.41 L587.40,497.49 L587.80,497.56 L588.20,497.63 L588.60,497.69 L589.00,497.75 L589.40,497.82 L589.80,497.88 L590.20,497.94 L590.60,498.00 L591.00,498.07 L591.40,498.13 L591.80,498.20 L592.20,498.26 L592.60,498.32 L593.00,498.38 L593.40,498.44 L593.80,498.50 L594.20,498.55 L594.60,498.61 L595.00,498.66 L595.40,498.70 L595.80,498.74 L596.20,498.78 L596.60,498.81 L597.00,498.84 L597.40,498.87 L597.80,498.88 L598.20,498.89 L598.60,498.90 L599.00,498.90 L599.40,498.90 L599.80,498.90 L600.20,498.90 L600.60,498.90 L601.00,498.90 L601.40,498.90 L601.80,498.90 L602.20,498.90 L602.60,498.90 L603.00,498.90 L603.40,498.90 L603.80,498.90 L604.20,498.90 L604.60,498.90 L605.00,498.90 L605.40,498.90 L605.80,498.90 L606.20,498.90 L606.60,498.90 L607.00,498.90 L607.40,498.90 L607.80,498.90 L608.20,498.90 L608.60,498.90 L609.00,498.90 L609.40,498.90 L609.80,498.90 L610.20,498.90 L610.60,498.90 L611.00,498.90 L611.40,498.90 L611.80,498.90 L612.20,498.90 L612.60,498.90 L613.00,498.90 L613.40,498.90 L613.80,498.90 L614.20,498.90 L614.60,498.90 L615.00,498.90 L615.40,498.90 L615.80,498.90 L616.20,498.90 L616.60,498.90 L617.00,498.90 L617.40,498.90 L617.80,498.90 L618.20,498.90 L618.60,498.89 L619.00,498.88 L619.40,498.87 L619.80,498.86 L620.20,498.85 L620.60,498.83 L621.00,498.81 L621.40,498.79 L621.80,498.77 L622.20,498.75 L622.60,498.72 L623.00,498.70 L623.40,498.67 L623.80,498.64 L624.20,498.61 L624.60,498.58 L625.00,498.54 L625.40,498.51 L625.80,498.47 L626.20,498.44 L626.60,498.40 L627.00,498.36 L627.40,498.32 L627.80,498.28 L628.20,498.24 L628.60,498.20 L629.00,498.16 L629.40,498.12 L629.80,498.07 L630.20,498.03 L630.60,497.99 L631.00,497.94 L631.40,497.90 L631.80,497.86 L632.20,497.81 L632.60,497.77 L633.00,497.72 L633.40,497.67 L633.80,497.62 L634.20,497.57 L634.60,497.51 L635.00,497.45 L635.40,497.39 L635.80,497.32 L636.20,497.25 L636.60,497.17 L637.00,497.10 L637.40,497.01 L637.80,496.92 L638.20,496.83 L638.60,496.73 L639.00,496.63 L639.40,496.52 L639.80,496.40 L640.20,496.25 L640.60,496.06 L641.00,495.83 L641.40,495.57 L641.80,495.28 L642.20,494.97 L642.60,494.65 L643.00,494.33 L643.40,494.01 L643.80,493.70 L644.20,493.41 L644.60,493.14 L645.00,492.90 L645.40,492.70 L645.80,492.53 L646.20,492.36 L646.60,492.20 L647.00,492.06 L647.40,491.92 L647.80,491.78 L648.20,491.65 L648.60,491.52 L649.00,491.40 L649.40,491.28 L649.80,491.16 L650.20,491.04 L650.60,490.92 L651.00,490.80 L651.40,490.67 L651.80,490.53 L652.20,490.39 L652.60,490.24 L653.00,490.09 L653.40,489.95 L653.80,489.83 L654.20,489.71 L654.60,489.62 L655.00,489.55 L655.40,489.51 L655.80,489.50 L656.20,489.61 L656.60,489.84 L657.00,490.17 L657.40,490.57 L657.80,491.01 L658.20,491.47 L658.60,491.92 L659.00,492.34 L659.40,492.70 L659.80,493.04 L660.20,493.42 L660.60,493.81 L661.00,494.20 L661.40,494.57 L661.80,494.90 L662.20,495.17 L662.60,495.38 L663.00,495.49 L663.40,495.50 L663.80,495.50 L664.20,495.50 L664.60,495.50 L665.00,495.50 L665.40,495.50 L665.80,495.50 L666.20,495.50 L666.60,495.50 L667.00,495.50 L667.40,495.50 L667.80,495.50 L668.20,495.50 L668.60,495.50 L669.00,495.50 L669.40,495.50 L669.80,495.50 L670.20,495.49 L670.60,495.47 L671.00,495.45 L671.40,495.41 L671.80,495.37 L672.20,495.33 L672.60,495.29 L673.00,495.25 L673.40,495.21 L673.80,495.17 L674.20,495.14 L674.60,495.12 L675.00,495.10 L675.40,495.10 L675.80,495.13 L676.20,495.20 L676.60,495.31 L677.00,495.44 L677.40,495.59 L677.80,495.75 L678.20,495.93 L678.60,496.12 L679.00,496.30 L679.40,496.48 L679.80,496.64 L680.20,496.79 L680.60,496.92 L681.00,497.02 L681.40,497.12 L681.80,497.21 L682.20,497.31 L682.60,497.41 L683.00,497.50 L683.40,497.60 L683.80,497.69 L684.20,497.77 L684.60,497.86 L685.00,497.94 L685.40,498.01 L685.80,498.08 L686.20,498.14 L686.60,498.19 L687.00,498.23 L687.40,498.26 L687.80,498.29 L688.20,498.30 L688.60,498.30 L689.00,498.30 L689.40,498.30 L689.80,498.30 L690.20,498.30 L690.60,498.30 L691.00,498.30 L691.40,498.30 L691.80,498.30 L692.20,498.30 L692.60,498.30 L693.00,498.30 L693.40,498.30 L693.80,498.30 L694.20,498.30 L694.60,498.30 L695.00,498.30 L695.40,498.30 L695.80,498.30 L696.20,498.30 L696.60,498.30 L697.00,498.30 L697.40,498.30 L697.80,498.30 L698.20,498.30 L698.60,498.30 L699.00,498.30 L699.40,498.30 L699.80,498.30 L700.20,498.30 L700.60,498.31 L701.00,498.31 L701.40,498.32 L701.80,498.33 L702.20,498.34 L702.60,498.36 L703.00,498.37 L703.40,498.39 L703.80,498.40 L704.20,498.42 L704.60,498.44 L705.00,498.46 L705.40,498.48 L705.80,498.51 L706.20,498.53 L706.60,498.55 L707.00,498.58 L707.40,498.60 L707.80,498.63 L708.20,498.65 L708.60,498.68 L709.00,498.70 M731.00,498.00 L731.40,497.96 L731.80,497.93 L732.20,497.89 L732.60,497.85 L733.00,497.82 L733.40,497.78 L733.80,497.74 L734.20,497.71 L734.60,497.67 L735.00,497.63 L735.40,497.60 L735.80,497.56 L736.20,497.53 L736.60,497.49 L737.00,497.46 L737.40,497.42 L737.80,497.39 L738.20,497.36 L738.60,497.32 L739.00,497.29 L739.40,497.26 L739.80,497.22 L740.20,497.19 L740.60,497.16 L741.00,497.12 L741.40,497.09 L741.80,497.06 L742.20,497.03 L742.60,497.00 L743.00,496.97 L743.40,496.94 L743.80,496.90 L744.20,496.87 L744.60,496.84 L745.00,496.81 L745.40,496.79 L745.80,496.76 L746.20,496.73 L746.60,496.70 L747.00,496.67 L747.40,496.64 L747.80,496.61 L748.20,496.59 L748.60,496.56 L749.00,496.53 L749.40,496.51 L749.80,496.48 L750.20,496.46 L750.60,496.44 L751.00,496.41 L751.40,496.39 L751.80,496.37 L752.20,496.35 L752.60,496.33 L753.00,496.31 L753.40,496.29 L753.80,496.27 L754.20,496.25 L754.60,496.23 L755.00,496.21 L755.40,496.19 L755.80,496.17 L756.20,496.15 L756.60,496.13 L757.00,496.11 L757.40,496.09 L757.80,496.07 L758.20,496.05 L758.60,496.03 L759.00,496.01 L759.40,495.99 L759.80,495.97 L760.20,495.95 L760.60,495.93 L761.00,495.90 L761.40,495.88 L761.80,495.86 L762.20,495.83 L762.60,495.81 L763.00,495.78 L763.40,495.75 L763.80,495.73 L764.20,495.70 L764.60,495.67 L765.00,495.64 L765.40,495.61 L765.80,495.58 L766.20,495.54 L766.60,495.51 L767.00,495.47 L767.40,495.44 L767.80,495.40 L768.20,495.36 L768.60,495.32 L769.00,495.28 L769.40,495.23 L769.80,495.19 L770.20,495.14 L770.60,495.09 L771.00,495.04 L771.40,494.99 L771.80,494.93 L772.20,494.87 L772.60,494.82 L773.00,494.75 L773.40,494.69 L773.80,494.62 L774.20,494.56 L774.60,494.49 L775.00,494.41 L775.40,494.34 L775.80,494.26 L776.20,494.18 L776.60,494.09 L777.00,494.01 L777.40,493.92 L777.80,493.82 L778.20,493.72 L778.60,493.57 L779.00,493.40 L779.40,493.19 L779.80,492.97 L780.20,492.73 L780.60,492.48 L781.00,492.23 L781.40,491.98 L781.80,491.74 L782.20,491.51 L782.60,491.31 L783.00,491.13 L783.40,490.99 L783.80,490.88 L784.20,490.81 L784.60,490.80 L785.00,490.83 L785.40,490.90 L785.80,491.00 L786.20,491.12 L786.60,491.27 L787.00,491.43 L787.40,491.60 L787.80,491.78 L788.20,491.96 L788.60,492.14 L789.00,492.31 L789.40,492.47 L789.80,492.61 L790.20,492.73 L790.60,492.84 L791.00,492.96 L791.40,493.09 L791.80,493.21 L792.20,493.33 L792.60,493.46 L793.00,493.57 L793.40,493.69 L793.80,493.79 L794.20,493.89 L794.60,493.98 L795.00,494.05 L795.40,494.12 L795.80,494.16 L796.20,494.19 L796.60,494.20 L797.00,494.19 L797.40,494.16 L797.80,494.11 L798.20,494.04 L798.60,493.96 L799.00,493.87 L799.40,493.75 L799.80,493.63 L800.20,493.50 L800.60,493.35 L801.00,493.20 L801.40,493.04 L801.80,492.87 L802.20,492.70 L802.60,492.50 L803.00,492.26 L803.40,491.97 L803.80,491.64 L804.20,491.26 L804.60,490.85 L805.00,490.39 L805.40,489.89 L805.80,489.36 L806.20,488.79 L806.60,488.18 L807.00,487.53 L807.40,486.71 L807.80,485.69 L808.20,484.51 L808.60,483.20 L809.00,481.79 L809.40,480.32 L809.80,478.82 L810.20,477.32 L810.60,475.86 L811.00,474.35 L811.40,472.63 L811.80,470.82 L812.20,469.08 L812.60,467.56 L813.00,466.41 L813.40,465.61 L813.80,464.88 L814.20,464.29 L814.60,463.95 L815.00,463.96 L815.40,464.42 L815.80,465.23 L816.20,466.27 L816.60,467.42 L817.00,468.66 L817.40,470.38 L817.80,472.49 L818.20,474.75 L818.60,476.95 L819.00,478.88 L819.40,480.50 L819.80,482.08 L820.20,483.60 L820.60,485.04 L821.00,486.34 L821.40,487.48 L821.80,488.40 L822.20,489.15 L822.60,489.84 L823.00,490.49 L823.40,491.08 L823.80,491.62 L824.20,492.10 L824.60,492.53 L825.00,492.88 L825.40,493.18 L825.80,493.41 L826.20,493.63 L826.60,493.84 L827.00,494.03 L827.40,494.22 L827.80,494.40 L828.20,494.56 L828.60,494.71 L829.00,494.86 L829.40,494.98 L829.80,495.10 L830.20,495.20 L830.60,495.29 L831.00,495.37 L831.40,495.43 L831.80,495.48 L832.20,495.51 L832.60,495.53 L833.00,495.56 L833.40,495.58 L833.80,495.61 L834.20,495.63 L834.60,495.66 L835.00,495.68 L835.40,495.70 L835.80,495.72 L836.20,495.74 L836.60,495.76 L837.00,495.78 L837.40,495.80 L837.80,495.82 L838.20,495.84 L838.60,495.85 L839.00,495.87 L839.40,495.89 L839.80,495.90 L840.20,495.92 L840.60,495.93 L841.00,495.94 L841.40,495.96 L841.80,495.97 L842.20,495.98 L842.60,495.99 L843.00,496.00 L843.40,496.01 L843.80,496.02 L844.20,496.03 L844.60,496.04 L845.00,496.05 L845.40,496.05 L845.80,496.06 L846.20,496.07 L846.60,496.07 L847.00,496.08 L847.40,496.08 L847.80,496.09 L848.20,496.09 L848.60,496.09 L849.00,496.09 L849.40,496.10 L849.80,496.10 L850.20,496.10 L850.60,496.10 L851.00,496.10 L851.40,496.10 L851.80,496.10 L852.20,496.10 L852.60,496.10 L853.00,496.10 L853.40,496.10 L853.80,496.10 L854.20,496.10 L854.60,496.10 L855.00,496.10 L855.40,496.10 L855.80,496.10 L856.20,496.09 L856.60,496.09 L857.00,496.09 L857.40,496.09 L857.80,496.09 L858.20,496.09 L858.60,496.09 L859.00,496.09 L859.40,496.09 L859.80,496.09 L860.20,496.08 L860.60,496.08 L861.00,496.08 L861.40,496.08 L861.80,496.08 L862.20,496.08 L862.60,496.08 L863.00,496.07 L863.40,496.07 L863.80,496.07 L864.20,496.07 L864.60,496.07 L865.00,496.07 L865.40,496.06 L865.80,496.06 L866.20,496.06 L866.60,496.06 L867.00,496.06 L867.40,496.05 L867.80,496.05 L868.20,496.05 L868.60,496.05 L869.00,496.05 L869.40,496.04 L869.80,496.04 L870.20,496.04 L870.60,496.04 L871.00,496.03 L871.40,496.03 L871.80,496.03 L872.20,496.03 L872.60,496.02 L873.00,496.02 L873.40,496.02 L873.80,496.02 L874.20,496.01 L874.60,496.01 L875.00,496.01 L875.40,496.01 L875.80,496.00 L876.20,496.00 L876.60,496.00 L877.00,495.99 L877.40,495.99 L877.80,495.99 L878.20,495.99 L878.60,495.98 L879.00,495.98 L879.40,495.98 L879.80,495.97 L880.20,495.97 L880.60,495.97 L881.00,495.96 L881.40,495.96 L881.80,495.96 L882.20,495.95 L882.60,495.95 L883.00,495.95 L883.40,495.94 L883.80,495.94 L884.20,495.94 L884.60,495.93 L885.00,495.93 L885.40,495.93 L885.80,495.92 L886.20,495.92 L886.60,495.91 L887.00,495.91 L887.40,495.91 L887.80,495.90 L888.20,495.90 L888.60,495.90 L889.00,495.89 L889.40,495.89 L889.80,495.88 L890.20,495.88 L890.60,495.87 L891.00,495.87 L891.40,495.86 L891.80,495.86 L892.20,495.85 L892.60,495.84 L893.00,495.84 L893.40,495.83 L893.80,495.83 L894.20,495.82 L894.60,495.81 L895.00,495.80 L895.40,495.80 L895.80,495.79 L896.20,495.78 L896.60,495.77 L897.00,495.76 L897.40,495.75 L897.80,495.74 L898.20,495.74 L898.60,495.73 L899.00,495.72 L899.40,495.71 L899.80,495.70 L900.20,495.69 L900.60,495.68 L901.00,495.66 L901.40,495.65 L901.80,495.64 L902.20,495.63 L902.60,495.62 L903.00,495.61 L903.40,495.60 L903.80,495.58 L904.20,495.57 L904.60,495.56 L905.00,495.55 L905.40,495.53 L905.80,495.52 L906.20,495.51 L906.60,495.49 L907.00,495.48 L907.40,495.47 L907.80,495.45 L908.20,495.44 L908.60,495.42 L909.00,495.41 L909.40,495.39 L909.80,495.38 L910.20,495.36 L910.60,495.35 L911.00,495.33 L911.40,495.32 L911.80,495.30 L912.20,495.28 L912.60,495.27 L913.00,495.25 L913.40,495.24 L913.80,495.22 L914.20,495.20 L914.60,495.18 L915.00,495.17 L915.40,495.15 L915.80,495.13 L916.20,495.11 L916.60,495.10 L917.00,495.08 L917.40,495.06 L917.80,495.04 L918.20,495.02 L918.60,495.00 L919.00,494.99 L919.40,494.96 L919.80,494.94 L920.20,494.92 L920.60,494.89 L921.00,494.87 L921.40,494.84 L921.80,494.81 L922.20,494.78 L922.60,494.75 L923.00,494.71 L923.40,494.68 L923.80,494.64 L924.20,494.61 L924.60,494.57 L925.00,494.53 L925.40,494.49 L925.80,494.46 L926.20,494.41 L926.60,494.37 L927.00,494.33 L927.40,494.29 L927.80,494.25 L928.20,494.20 L928.60,494.16 L929.00,494.12 L929.40,494.07 L929.80,494.03 L930.20,493.98 L930.60,493.94 L931.00,493.89 L931.40,493.85 L931.80,493.80 L932.20,493.76 L932.60,493.71 L933.00,493.67 L933.40,493.62 L933.80,493.58 L934.20,493.54 L934.60,493.49 L935.00,493.45 L935.40,493.41 L935.80,493.36 L936.20,493.32 L936.60,493.28 L937.00,493.24 L937.40,493.20 L937.80,493.16 L938.20,493.12 L938.60,493.08 L939.00,493.04 L939.40,493.00 L939.80,492.97 L940.20,492.93 L940.60,492.89 L941.00,492.85 L941.40,492.81 L941.80,492.78 L942.20,492.74 L942.60,492.70 L943.00,492.66 L943.40,492.62 L943.80,492.59 L944.20,492.55 L944.60,492.51 L945.00,492.47 L945.40,492.43 L945.80,492.39 L946.20,492.36 L946.60,492.32 L947.00,492.28 L947.40,492.24 L947.80,492.20 L948.20,492.16 L948.60,492.12 L949.00,492.08 L949.40,492.04 L949.80,492.00 L950.20,491.96 L950.60,491.92 L951.00,491.87 L951.40,491.83 L951.80,491.79 L952.20,491.75 L952.60,491.70 L953.00,491.66 L953.40,491.61 L953.80,491.57 L954.20,491.52 L954.60,491.48 L955.00,491.43 L955.40,491.38 L955.80,491.34 L956.20,491.29 L956.60,491.24 L957.00,491.19 L957.40,491.14 L957.80,491.09 L958.20,491.04 L958.60,490.98 L959.00,490.93 L959.40,490.88 L959.80,490.82 L960.20,490.77 L960.60,490.72 L961.00,490.66 L961.40,490.60 L961.80,490.55 L962.20,490.49 L962.60,490.43 L963.00,490.37 L963.40,490.32 L963.80,490.26 L964.20,490.20 L964.60,490.14 L965.00,490.08 L965.40,490.02 L965.80,489.95 L966.20,489.89 L966.60,489.83 L967.00,489.77 L967.40,489.71 L967.80,489.64 L968.20,489.58 L968.60,489.52 L969.00,489.45 L969.40,489.39 L969.80,489.32 L970.20,489.26 L970.60,489.19 L971.00,489.13 L971.40,489.06 L971.80,489.00 L972.20,488.93 L972.60,488.87 L973.00,488.80 L973.40,488.73 L973.80,488.67 L974.20,488.60 L974.60,488.53 L975.00,488.47 L975.40,488.40 L975.80,488.33 L976.20,488.27 L976.60,488.20 L977.00,488.13 L977.40,488.07 L977.80,488.00 L978.20,487.94 L978.60,487.87 L979.00,487.80 L979.40,487.73 L979.80,487.67 L980.20,487.60 L980.60,487.53 L981.00,487.46 L981.40,487.39 L981.80,487.32 L982.20,487.25 L982.60,487.18 L983.00,487.10 L983.40,487.03 L983.80,486.96 L984.20,486.88 L984.60,486.80 L985.00,486.72 L985.40,486.65 L985.80,486.56 L986.20,486.48 L986.60,486.40 L987.00,486.31 L987.40,486.23 L987.80,486.14 L988.20,486.05 L988.60,485.96 L989.00,485.87 L989.40,485.77 L989.80,485.68 L990.20,485.58 L990.60,485.48 L991.00,485.37 L991.40,485.27 L991.80,485.16 L992.20,485.05 L992.60,484.94 L993.00,484.83 L993.40,484.71 L993.80,484.60 L994.20,484.47 L994.60,484.35 L995.00,484.23 L995.40,484.10 L995.80,483.96 L996.20,483.83 L996.60,483.69 L997.00,483.55 L997.40,483.41 L997.80,483.26 L998.20,483.11 L998.60,482.95 L999.00,482.80 L999.40,482.64 L999.80,482.47 L1000.20,482.30 L1000.60,482.13 L1001.00,481.96 L1001.40,481.77 L1001.80,481.58 L1002.20,481.38 L1002.60,481.17 L1003.00,480.95 L1003.40,480.72 L1003.80,480.49 L1004.20,480.25 L1004.60,480.00 L1005.00,479.74 L1005.40,479.48 L1005.80,479.21 L1006.20,478.93 L1006.60,478.65 L1007.00,478.36 L1007.40,478.06 L1007.80,477.76 L1008.20,477.46 L1008.60,477.14 L1009.00,476.81 L1009.40,476.47 L1009.80,476.11 L1010.20,475.74 L1010.60,475.36 L1011.00,474.96 L1011.40,474.55 L1011.80,474.13 L1012.20,473.71 L1012.60,473.27 L1013.00,472.83 L1013.40,472.38 L1013.80,471.93 L1014.20,471.47 L1014.60,470.98 L1015.00,470.46 L1015.40,469.92 L1015.80,469.37 L1016.20,468.80 L1016.60,468.23 L1017.00,467.65 L1017.40,467.08 L1017.80,466.51 L1018.20,465.96 L1018.60,465.43 L1019.00,464.92 L1019.40,464.43 L1019.80,463.97 L1020.20,463.46 L1020.60,462.93 L1021.00,462.40 L1021.40,461.90 L1021.80,461.46 L1022.20,461.11 L1022.60,460.88 L1023.00,460.80 L1023.40,460.93 L1023.80,461.27 L1024.20,461.78 L1024.60,462.41 L1025.00,463.11 L1025.40,463.82 L1025.80,464.50 L1026.20,465.10 L1026.60,465.71 L1027.00,466.40 L1027.40,467.12 L1027.80,467.80 L1028.20,468.37 L1028.60,468.76 L1029.00,468.90 L1029.40,468.81 L1029.80,468.56 L1030.20,468.21 L1030.60,467.78 L1031.00,467.33 L1031.40,466.89 L1031.80,466.52 L1032.20,466.24 L1032.60,466.11 L1033.00,466.18 L1033.40,466.49 L1033.80,466.99 L1034.20,467.61 L1034.60,468.31 L1035.00,469.00 L1035.40,469.65 L1035.80,470.27 L1036.20,471.00 L1036.60,471.81 L1037.00,472.65 L1037.40,473.48 L1037.80,474.25 L1038.20,474.91 L1038.60,475.41 L1039.00,475.72 L1039.40,475.80 L1039.80,475.69 L1040.20,475.45 L1040.60,475.10 L1041.00,474.66 L1041.40,474.14 L1041.80,473.57 L1042.20,472.96 L1042.60,472.33 L1043.00,471.70 L1043.40,470.98 L1043.80,470.10 L1044.20,469.07 L1044.60,467.94 L1045.00,466.72 L1045.40,465.45 L1045.80,464.16 L1046.20,462.87 L1046.60,461.62 L1047.00,460.43 L1047.40,459.34 L1047.80,458.36 L1048.20,457.41 L1048.60,456.44 L1049.00,455.47 L1049.40,454.51 L1049.80,453.58 L1050.20,452.69 L1050.60,451.86 L1051.00,451.10 L1051.40,450.43 L1051.80,449.86 L1052.20,449.40 L1052.60,449.03 L1053.00,448.67 L1053.40,448.32 L1053.80,448.00 L1054.20,447.71 L1054.60,447.46 L1055.00,447.26 L1055.40,447.11 L1055.80,447.02 L1056.20,447.00 L1056.60,447.06 L1057.00,447.19 L1057.40,447.38 L1057.80,447.63 L1058.20,447.92 L1058.60,448.24 L1059.00,448.60 L1059.40,448.97 L1059.80,449.35 L1060.20,449.73 L1060.60,450.11 L1061.00,450.48 L1061.40,450.89 L1061.80,451.34 L1062.20,451.82 L1062.60,452.32 L1063.00,452.85 L1063.40,453.41 L1063.80,453.98 L1064.20,454.58 L1064.60,455.18 L1065.00,455.80 L1065.40,456.43 L1065.80,457.06 L1066.20,457.69 L1066.60,458.33 L1067.00,458.96 L1067.40,459.58 L1067.80,460.20 L1068.20,460.80 L1068.60,461.43 L1069.00,462.07 L1069.40,462.72 L1069.80,463.39 L1070.20,464.07 L1070.60,464.75 L1071.00,465.44 L1071.40,466.13 L1071.80,466.81 L1072.20,467.50 L1072.60,468.17 L1073.00,468.84 L1073.40,469.50 L1073.80,470.14 L1074.20,470.76 L1074.60,471.36 L1075.00,471.94 L1075.40,472.50 L1075.80,473.05 L1076.20,473.60 L1076.60,474.16 L1077.00,474.72 L1077.40,475.28 L1077.80,475.83 L1078.20,476.36 L1078.60,476.88 L1079.00,477.38 L1079.40,477.86 L1079.80,478.31 L1080.20,478.73 L1080.60,479.11 L1081.00,479.45 L1081.40,479.75 L1081.80,480.00 L1082.20,480.23 L1082.60,480.45 L1083.00,480.67 L1083.40,480.88 L1083.80,481.07 L1084.20,481.25 L1084.60,481.41 L1085.00,481.55 L1085.40,481.66 L1085.80,481.74 L1086.20,481.79 L1086.60,481.80 L1087.00,481.76 L1087.40,481.66 L1087.80,481.52 L1088.20,481.34 L1088.60,481.11 L1089.00,480.85 L1089.40,480.56 L1089.80,480.25 L1090.20,479.91 L1090.60,479.55 L1091.00,479.18 L1091.40,478.80 L1091.80,478.37 L1092.20,477.80 L1092.60,477.12 L1093.00,476.34 L1093.40,475.48 L1093.80,474.56 L1094.20,473.60 L1094.60,472.63 L1095.00,471.65 L1095.40,470.71 L1095.80,469.80 L1096.20,468.89 L1096.60,467.92 L1097.00,466.91 L1097.40,465.90 L1097.80,464.89 L1098.20,463.91 L1098.60,462.98 L1099.00,462.13 L1099.40,461.37 L1099.80,460.68 L1100.20,459.95 L1100.60,459.24 L1101.00,458.60 L1101.40,458.09 L1101.80,457.78 L1102.20,457.72 L1102.60,458.20 L1103.00,459.16 L1103.40,460.46 L1103.80,461.93 L1104.20,463.77 L1104.60,466.56 L1105.00,469.80 L1105.40,472.93 L1105.80,475.40 L1106.20,477.34 L1106.60,479.21 L1107.00,480.97 L1107.40,482.55 L1107.80,483.90 L1108.20,484.97 L1108.60,485.70 L1109.00,486.21 L1109.40,486.66 L1109.80,487.06 L1110.20,487.41 L1110.60,487.71 L1111.00,487.99 L1111.40,488.25 L1111.80,488.49 L1112.20,488.72 L1112.60,488.96 L1113.00,489.20 L1113.40,489.47 L1113.80,489.74 L1114.20,490.01 L1114.60,490.27 L1115.00,490.53 L1115.40,490.79 L1115.80,491.05 L1116.20,491.30 L1116.60,491.54 L1117.00,491.78 L1117.40,492.01 L1117.80,492.23 L1118.20,492.44 L1118.60,492.65 L1119.00,492.84 L1119.40,493.03 L1119.80,493.20 L1120.20,493.37 L1120.60,493.54 L1121.00,493.70 L1121.40,493.87 L1121.80,494.03 L1122.20,494.19 L1122.60,494.35 L1123.00,494.50 L1123.40,494.65 L1123.80,494.79 L1124.20,494.92 L1124.60,495.05 L1125.00,495.16 L1125.40,495.27 L1125.80,495.36 L1126.20,495.44 L1126.60,495.51 L1127.00,495.57 L1127.40,495.61 L1127.80,495.64 L1128.20,495.68 L1128.60,495.71 L1129.00,495.75 L1129.40,495.78 L1129.80,495.81 L1130.20,495.83 L1130.60,495.86 L1131.00,495.88 L1131.40,495.90 L1131.80,495.93 L1132.20,495.94 L1132.60,495.96 L1133.00,495.97 L1133.40,495.98 L1133.80,495.99 L1134.20,496.00 L1134.60,496.00 L1135.00,496.00 L1135.40,495.99 L1135.80,495.96 L1136.20,495.92 L1136.60,495.87 L1137.00,495.81 L1137.40,495.75 L1137.80,495.67 L1138.20,495.58 L1138.60,495.49 L1139.00,495.39 L1139.40,495.29 L1139.80,495.17 L1140.20,495.06 L1140.60,494.93 L1141.00,494.77 L1141.40,494.57 L1141.80,494.33 L1142.20,494.05 L1142.60,493.74 L1143.00,493.40 L1143.40,493.03 L1143.80,492.63 L1144.20,492.21 L1144.60,491.76 L1145.00,491.30 L1145.40,490.72 L1145.80,489.97 L1146.20,489.09 L1146.60,488.15 L1147.00,487.19 L1147.40,486.28 L1147.80,485.46 L1148.20,484.80 L1148.60,484.21 L1149.00,483.60 L1149.40,483.02 L1149.80,482.53 L1150.20,482.18 L1150.60,482.01 L1151.00,482.12 L1151.40,482.61 L1151.80,483.39 L1152.20,484.34 L1152.60,485.36 L1153.00,486.37 L1153.40,487.38 L1153.80,488.62 L1154.20,489.98 L1154.60,491.35 L1155.00,492.59 L1155.40,493.59 L1155.80,494.23 L1156.20,494.73 L1156.60,495.21 L1157.00,495.65 L1157.40,496.05 L1157.80,496.42 L1158.20,496.74 L1158.60,497.01 L1159.00,497.22 L1159.40,497.38 L1159.80,497.48 L1160.20,497.51 L1160.60,497.54 L1161.00,497.56 L1161.40,497.58 L1161.80,497.60 L1162.20,497.62 L1162.60,497.63 L1163.00,497.64 L1163.40,497.65 L1163.80,497.66 L1164.20,497.67 L1164.60,497.67 L1165.00,497.68 L1165.40,497.69 L1165.80,497.70 L1166.20,497.71 L1166.60,497.72 L1167.00,497.73 L1167.40,497.75 L1167.80,497.77 L1168.20,497.79 L1168.60,497.81 L1169.00,497.85 L1169.40,497.91 L1169.80,497.98 L1170.20,498.05 L1170.60,498.14 L1171.00,498.24 L1171.40,498.34 L1171.80,498.44 L1172.20,498.54 L1172.60,498.65 L1173.00,498.75 L1173.40,498.85 L1173.80,498.95 L1174.20,499.04 L1174.60,499.12 L1175.00,499.19 L1175.40,499.25 L1175.80,499.29 L1176.20,499.32 L1176.60,499.36 L1177.00,499.39 L1177.40,499.41 L1177.80,499.44 L1178.20,499.47 L1178.60,499.50 L1179.00,499.52 L1179.40,499.55 L1179.80,499.57 L1180.20,499.59 L1180.60,499.61 L1181.00,499.63 L1181.40,499.65 L1181.80,499.67 L1182.20,499.69 L1182.60,499.71 L1183.00,499.73 L1183.40,499.75 L1183.80,499.76 L1184.20,499.78 L1184.60,499.79 L1185.00,499.81 L1185.40,499.82 L1185.80,499.84 L1186.20,499.85 L1186.60,499.87 L1187.00,499.88 L1187.40,499.89 L1187.80,499.91 L1188.20,499.92 L1188.60,499.93 L1189.00,499.94 L1189.40,499.96 L1189.80,499.97 L1190.20,499.98 L1190.60,499.99 L1191.00,500.01 L1191.40,500.02 L1191.80,500.03 L1192.20,500.04 L1192.60,500.05 L1193.00,500.07 L1193.40,500.08 L1193.80,500.09 L1194.20,500.10 L1194.60,500.11 L1195.00,500.12 L1195.40,500.14 L1195.80,500.15 L1196.20,500.16 L1196.60,500.17 L1197.00,500.18 L1197.40,500.19 L1197.80,500.20 L1198.20,500.21 L1198.60,500.22 L1199.00,500.23 L1199.40,500.24 L1199.80,500.25 L1200.20,500.26 L1200.60,500.27 L1201.00,500.28 L1201.40,500.29 L1201.80,500.30 L1202.20,500.31 L1202.60,500.32 L1203.00,500.33 L1203.40,500.34 L1203.80,500.35 L1204.20,500.36 L1204.60,500.37 L1205.00,500.38 L1205.40,500.38 L1205.80,500.39 L1206.20,500.40 L1206.60,500.41 L1207.00,500.42 L1207.40,500.43 L1207.80,500.44 L1208.20,500.44 L1208.60,500.45 L1209.00,500.46 L1209.40,500.47 L1209.80,500.48 L1210.20,500.49 L1210.60,500.49 L1211.00,500.50 L1211.40,500.51 L1211.80,500.52 L1212.20,500.53 L1212.60,500.53 L1213.00,500.54 L1213.40,500.55 L1213.80,500.56 L1214.20,500.56 L1214.60,500.57 L1215.00,500.58 L1215.40,500.59 L1215.80,500.59 L1216.20,500.60 L1216.60,500.61 L1217.00,500.61 L1217.40,500.62 L1217.80,500.63 L1218.20,500.64 L1218.60,500.64 L1219.00,500.65 L1219.40,500.66 L1219.80,500.66 L1220.20,500.67 L1220.60,500.68 L1221.00,500.68 L1221.40,500.69 L1221.80,500.70 L1222.20,500.70 L1222.60,500.71 L1223.00,500.72 L1223.40,500.72 L1223.80,500.73 L1224.20,500.74 L1224.60,500.74 L1225.00,500.75 L1225.40,500.76 L1225.80,500.76 L1226.20,500.77 L1226.60,500.77 L1227.00,500.78 L1227.40,500.79 L1227.80,500.79 L1228.20,500.80 L1228.60,500.81 L1229.00,500.81 L1229.40,500.82 L1229.80,500.83 L1230.20,500.83 L1230.60,500.84 L1231.00,500.84 L1231.40,500.85 L1231.80,500.86 L1232.20,500.86 L1232.60,500.87 L1233.00,500.87 L1233.40,500.88 L1233.80,500.89 L1234.20,500.89 L1234.60,500.90 L1235.00,500.90 L1235.40,500.91 L1235.80,500.92 L1236.20,500.92 L1236.60,500.93 L1237.00,500.93 L1237.40,500.94 L1237.80,500.95 L1238.20,500.95 L1238.60,500.96 L1239.00,500.96 L1239.40,500.97 L1239.80,500.97 L1240.20,500.98 L1240.60,500.99 L1241.00,500.99 L1241.40,501.00 L1241.80,501.00 L1242.20,501.01 L1242.60,501.01 L1243.00,501.02 L1243.40,501.02 L1243.80,501.03 L1244.20,501.03 L1244.60,501.04 L1245.00,501.05 L1245.40,501.05 L1245.80,501.06 L1246.20,501.06 L1246.60,501.07 L1247.00,501.07 L1247.40,501.08 L1247.80,501.08 L1248.20,501.09 L1248.60,501.09 L1249.00,501.09 L1249.40,501.10 L1249.80,501.10 L1250.20,501.11 L1250.60,501.11 L1251.00,501.12 L1251.40,501.12 L1251.80,501.13 L1252.20,501.13 L1252.60,501.13 L1253.00,501.14 L1253.40,501.14 L1253.80,501.15 L1254.20,501.15 L1254.60,501.15 L1255.00,501.16 L1255.40,501.16 L1255.80,501.17 L1256.20,501.17 L1256.60,501.17 L1257.00,501.18 L1257.40,501.18 L1257.80,501.18 L1258.20,501.19 L1258.60,501.19 L1259.00,501.19 L1259.40,501.20 L1259.80,501.20 L1260.20,501.20 L1260.60,501.20 L1261.00,501.21 L1261.40,501.21 L1261.80,501.21 L1262.20,501.22 L1262.60,501.22 L1263.00,501.22 L1263.40,501.22 L1263.80,501.23 L1264.20,501.23 L1264.60,501.23 L1265.00,501.23 L1265.40,501.24 L1265.80,501.24 L1266.20,501.24 L1266.60,501.25 L1267.00,501.25 L1267.40,501.25 L1267.80,501.25 L1268.20,501.26 L1268.60,501.26 L1269.00,501.26 L1269.40,501.26 L1269.80,501.27 L1270.20,501.27 L1270.60,501.27 L1271.00,501.27 L1271.40,501.27 L1271.80,501.28 L1272.20,501.28 L1272.60,501.28 L1273.00,501.28 L1273.40,501.29 L1273.80,501.29 L1274.20,501.29 L1274.60,501.29 L1275.00,501.29 L1275.40,501.30 L1275.80,501.30 L1276.20,501.30 L1276.60,501.30 L1277.00,501.31 L1277.40,501.31 L1277.80,501.31 L1278.20,501.31 L1278.60,501.31 L1279.00,501.32 L1279.40,501.32 L1279.80,501.32 L1280.20,501.32 L1280.60,501.32 L1281.00,501.33 L1281.40,501.33 L1281.80,501.33 L1282.20,501.33 L1282.60,501.33 L1283.00,501.34 L1283.40,501.34 L1283.80,501.34 L1284.20,501.34 L1284.60,501.34 L1285.00,501.34 L1285.40,501.35 L1285.80,501.35 L1286.20,501.35 L1286.60,501.35 L1287.00,501.35 L1287.40,501.35 L1287.80,501.36 L1288.20,501.36 L1288.60,501.36 L1289.00,501.36 L1289.40,501.36 L1289.80,501.36 L1290.20,501.37 L1290.60,501.37 L1291.00,501.37 L1291.40,501.37 L1291.80,501.37 L1292.20,501.37 L1292.60,501.37 L1293.00,501.38 L1293.40,501.38 L1293.80,501.38 L1294.20,501.38 L1294.60,501.38 L1295.00,501.38 L1295.40,501.38 L1295.80,501.39 L1296.20,501.39 L1296.60,501.39 L1297.00,501.39 L1297.40,501.39 L1297.80,501.39 L1298.20,501.39 L1298.60,501.40 L1299.00,501.40 L1299.40,501.40 L1299.80,501.40 L1300.20,501.40 L1300.60,501.40 L1301.00,501.40 L1301.40,501.40 L1301.80,501.41 L1302.20,501.41 L1302.60,501.41 L1303.00,501.41 L1303.40,501.41 L1303.80,501.41 L1304.20,501.41 L1304.60,501.41 L1305.00,501.42 L1305.40,501.42 L1305.80,501.42 L1306.20,501.42 L1306.60,501.42 L1307.00,501.42 L1307.40,501.42 L1307.80,501.42 L1308.20,501.42 L1308.60,501.43 L1309.00,501.43 L1309.40,501.43 L1309.80,501.43 L1310.20,501.43 L1310.60,501.43 L1311.00,501.43 L1311.40,501.43 L1311.80,501.44 L1312.20,501.44 L1312.60,501.44 L1313.00,501.44 L1313.40,501.44 L1313.80,501.44 L1314.20,501.44 L1314.60,501.44 L1315.00,501.44 L1315.40,501.45 L1315.80,501.45 L1316.20,501.45 L1316.60,501.45 L1317.00,501.45 L1317.40,501.45 L1317.80,501.45 L1318.20,501.45 L1318.60,501.45 L1319.00,501.45 L1319.40,501.46 L1319.80,501.46 L1320.20,501.46 L1320.60,501.46 L1321.00,501.46 L1321.40,501.46 L1321.80,501.46 L1322.20,501.46 L1322.60,501.46 L1323.00,501.46 L1323.40,501.47 L1323.80,501.47 L1324.20,501.47 L1324.60,501.47 L1325.00,501.47 L1325.40,501.47 L1325.80,501.47 L1326.20,501.47 L1326.60,501.47 L1327.00,501.47 L1327.40,501.47 L1327.80,501.48 L1328.20,501.48 L1328.60,501.48 L1329.00,501.48 L1329.40,501.48 L1329.80,501.48 L1330.20,501.48 L1330.60,501.48 L1331.00,501.48 L1331.40,501.48 L1331.80,501.48 L1332.20,501.48 L1332.60,501.48 L1333.00,501.49 L1333.40,501.49 L1333.80,501.49 L1334.20,501.49 L1334.60,501.49 L1335.00,501.49 L1335.40,501.49 L1335.80,501.49 L1336.20,501.49 L1336.60,501.49 L1337.00,501.49 L1337.40,501.49 L1337.80,501.49 L1338.20,501.49 L1338.60,501.49 L1339.00,501.49 L1339.40,501.49 L1339.80,501.50 L1340.20,501.50 L1340.60,501.50 L1341.00,501.50 L1341.40,501.50 L1341.80,501.50 L1342.20,501.50 L1342.60,501.50 L1343.00,501.50 L1343.40,501.50 L1343.80,501.50 L1344.20,501.50 L1344.50,501.50" fill="none" stroke="#10A374" stroke-width="2.2" stroke-linejoin="round" stroke-linecap="butt"/>
<g stroke="#000" stroke-width="1.6" fill="none" stroke-linecap="butt">
<path d="M95.4,12.8 V549.75"/>
<path d="M94.60000000000001,548.95 H709.3 M732,548.95 H1346.3"/>
<path d="M698.9,559 L719.6,539.4 M721.3,559 L741.9,538.6" stroke-width="1.9"/>
<path d="M95.4,548.95 V559.3"/>
<path d="M248.8,548.95 V559.3"/>
<path d="M402.3,548.95 V559.3"/>
<path d="M555.6,548.95 V559.3"/>
<path d="M833.9,548.95 V559.3"/>
<path d="M961.8,548.95 V559.3"/>
<path d="M1089.7,548.95 V559.3"/>
<path d="M1217.6,548.95 V559.3"/>
<path d="M1345.5,548.95 V559.3"/>
<path d="M95.4,32.50 H85"/>
<path d="M95.4,111.95 H85"/>
<path d="M95.4,191.40 H85"/>
<path d="M95.4,270.85 H85"/>
<path d="M95.4,350.30 H85"/>
<path d="M95.4,429.75 H85"/>
<path d="M95.4,509.20 H85"/>
<path d="M95.4,72.22 H90"/>
<path d="M95.4,151.67 H90"/>
<path d="M95.4,231.12 H90"/>
<path d="M95.4,310.57 H90"/>
<path d="M95.4,390.02 H90"/>
<path d="M95.4,469.47 H90"/>
<path d="M95.4,548.92 H90"/>
</g>
<g font-family="'Liberation Serif', 'Times New Roman', serif" fill="#000" style="font-kerning:none;font-variant-ligatures:none">
<g font-size="22" text-anchor="middle">
<text transform="translate(95.2,584.5) scale(1,1.07)">500</text>
<text transform="translate(248.6,584.5) scale(1,1.07)">750</text>
<text transform="translate(402.1,584.5) scale(1,1.07)">1000</text>
<text transform="translate(555.4,584.5) scale(1,1.07)">1250</text>
<text transform="translate(833.7,584.5) scale(1,1.07)">3000</text>
<text transform="translate(961.6,584.5) scale(1,1.07)">3250</text>
<text transform="translate(1089.5,584.5) scale(1,1.07)">3500</text>
<text transform="translate(1217.4,584.5) scale(1,1.07)">3750</text>
<text transform="translate(1345.3,584.5) scale(1,1.07)">4000</text>
</g>
<g font-size="22" text-anchor="end">
<text transform="translate(76.6,39.00) scale(1,1.07)">1.2</text>
<text transform="translate(76.6,118.45) scale(1,1.07)">1.0</text>
<text transform="translate(76.6,197.90) scale(1,1.07)">0.8</text>
<text transform="translate(76.6,277.35) scale(1,1.07)">0.6</text>
<text transform="translate(76.6,356.80) scale(1,1.07)">0.4</text>
<text transform="translate(76.6,436.25) scale(1,1.07)">0.2</text>
<text transform="translate(76.6,515.70) scale(1,1.07)">0.0</text>
</g>
<text x="721.5" y="622.6" font-size="27.6" text-anchor="middle">Wave number (cm<tspan font-size="19" dy="-11.5" dx="0.8" letter-spacing="0.4">−1</tspan><tspan dy="11.5">)</tspan></text>
<text transform="translate(37.2,280.4) rotate(-90)" font-size="27.4" text-anchor="middle">Absorbance</text>
<g font-size="33.5">
<text x="189.8" y="67.9">Si–(CH<tspan font-size="21.6" dy="8.6">3</tspan><tspan dy="-8.6">)</tspan><tspan font-size="21.6" dy="8.6">2</tspan></text>
<text x="368.3" y="48.5">Si–O–Si</text>
<text x="506.3" y="341.4">Si–CH<tspan font-size="21.6" dy="8.9">3</tspan></text>
<text x="1033.6" y="422.7">–OH</text>
</g>
<g font-size="27.5">
<path d="M1122.5,29.6 H1186" stroke="#5c5c5c" stroke-width="2" fill="none"/>
<text x="1191.3" y="38.5"><tspan font-style="italic" font-size="28.1">Fresh sample</tspan></text>
<path d="M1122.5,64.2 H1186" stroke="#E84848" stroke-width="2" fill="none"/>
<text x="1192.3" y="73.1"><tspan font-style="italic">t</tspan> = 2h</text>
<path d="M1122.5,98.4 H1186" stroke="#2A7FE0" stroke-width="2" fill="none"/>
<text x="1192.3" y="107.3"><tspan font-style="italic">t</tspan> = 4h</text>
<path d="M1122.5,132.4 H1186" stroke="#17A566" stroke-width="2" fill="none"/>
<text x="1192.3" y="141.3"><tspan font-style="italic">t</tspan> = 6h</text>
</g>
</g>
</svg>
</body></html>
